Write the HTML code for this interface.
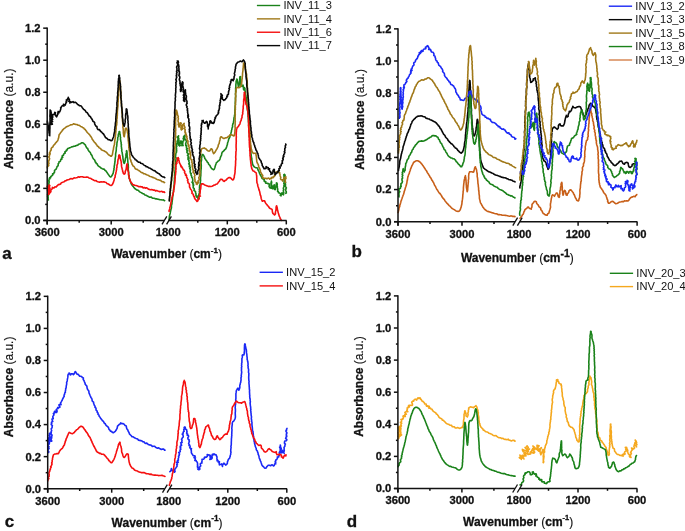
<!DOCTYPE html>
<html><head><meta charset="utf-8"><style>
html,body{margin:0;padding:0;background:#fff;}
body{width:685px;height:531px;overflow:hidden;}
svg{display:block;filter:blur(0.45px);}
text{font-family:"Liberation Sans", sans-serif;fill:#111;stroke:#111;stroke-width:0.3px;}
.tl{font-size:11.2px;font-weight:bold;}
.al{font-size:12px;font-weight:bold;}
.rg{font-weight:normal;stroke-width:0.12px;}
.pl{font-size:17px;font-weight:bold;}
.lg{font-size:11.1px;stroke:none;}
</style></head><body>
<svg width="685" height="531" viewBox="0 0 685 531">
<rect width="685" height="531" fill="#fff"/>
<line x1="256.90" y1="5.50" x2="280.20" y2="5.50" stroke="#1a821a" stroke-width="1.4"/>
<text x="283.40" y="9.30" class="lg">INV_11_3</text>
<line x1="256.90" y1="18.87" x2="280.20" y2="18.87" stroke="#a07818" stroke-width="1.4"/>
<text x="283.40" y="22.67" class="lg">INV_11_4</text>
<line x1="256.90" y1="32.24" x2="280.20" y2="32.24" stroke="#f50f0f" stroke-width="1.4"/>
<text x="283.40" y="36.04" class="lg">INV_11_6</text>
<line x1="256.90" y1="45.61" x2="280.20" y2="45.61" stroke="#080808" stroke-width="1.4"/>
<text x="283.40" y="49.41" class="lg">INV_11_7</text>
<polyline points="48.4,200.0 48.2,199.3 48.2,198.6 48.0,197.9 48.3,197.2 47.6,196.4 48.4,195.7 47.6,195.0 48.5,194.3 48.6,193.6 48.7,192.9 48.2,192.1 48.5,191.4 48.7,190.8 48.5,190.0 48.6,189.4 48.3,188.7 48.7,188.0 48.9,187.3 48.5,186.5 48.5,185.7 48.8,184.9 48.9,184.2 48.8,183.4 49.2,182.7 48.7,181.9 49.2,181.2 48.5,180.4 49.3,179.9 49.1,179.1 49.9,178.8 49.5,177.8 50.7,177.7 50.6,176.7 51.1,176.2 51.8,175.9 52.2,175.3 52.8,174.8 52.6,173.8 53.7,173.8 53.7,172.9 54.4,172.6 54.6,171.8 54.4,170.9 54.8,170.2 55.5,169.7 56.2,169.2 56.3,168.5 56.7,167.8 56.9,167.1 57.2,166.4 57.8,166.0 58.2,165.3 58.2,164.5 58.2,163.7 58.9,163.2 59.0,162.5 59.0,161.7 60.2,161.5 60.5,160.9 60.5,160.1 60.9,159.5 61.8,159.2 61.4,158.2 62.1,157.7 62.8,157.3 62.0,156.0 62.6,155.5 63.5,155.2 63.6,154.4 63.9,153.8 64.5,153.3 65.3,153.0 64.8,151.8 65.5,151.3 66.4,151.0 66.4,150.1 67.3,150.0 67.4,149.2 67.6,148.5 68.7,148.2 69.6,147.7 70.7,147.4 71.6,146.9 72.7,146.8 73.7,146.3 74.8,146.3 75.7,145.8 76.7,145.4 77.8,145.2 78.5,144.3 79.6,144.0 80.7,143.6 81.5,142.8 82.5,142.8 83.6,143.3 84.4,144.2 85.3,144.9 85.7,145.9 86.2,146.8 86.7,147.8 87.7,148.5 88.0,149.7 88.5,150.5 89.2,151.4 90.0,152.2 90.6,153.1 90.9,154.2 91.7,155.1 92.2,156.1 92.5,157.1 93.0,158.1 93.6,159.0 94.4,159.8 95.0,160.7 95.1,161.8 96.0,162.5 96.2,163.6 97.3,164.1 97.7,165.3 98.5,166.1 99.5,166.7 100.3,167.3 100.9,168.1 102.0,168.6 103.0,169.1 104.2,169.1 104.8,170.2 105.8,170.7 106.3,171.6 107.0,172.5 107.6,173.4 108.2,174.3 109.0,175.4 109.8,176.5 110.4,177.0 110.9,176.9 111.5,176.3 112.2,175.3 112.7,174.1 113.3,173.0 113.4,172.2 113.5,171.4 113.7,170.5 114.0,169.5 113.9,168.5 114.3,167.4 114.2,166.3 114.5,165.2 114.6,164.0 114.8,162.9 115.0,161.7 115.1,160.6 115.1,159.4 115.2,158.3 115.4,157.2 115.6,156.2 115.6,155.1 115.6,154.0 115.8,152.9 116.0,151.8 116.2,150.6 116.3,149.5 116.3,148.4 116.4,147.3 116.7,146.2 116.8,145.1 116.9,144.0 116.9,143.0 117.2,142.0 117.3,141.1 117.6,140.2 117.7,139.2 117.7,137.8 118.2,136.4 118.3,135.0 118.5,133.8 119.1,132.8 119.0,132.0 119.3,131.5 119.6,131.6 119.8,132.1 119.8,132.8 119.9,133.8 120.3,134.9 120.2,136.2 120.6,137.5 120.4,139.0 120.7,140.3 120.9,141.6 121.2,142.8 121.1,143.9 121.5,144.9 121.2,146.0 121.5,147.1 121.5,148.2 121.8,149.3 121.7,150.5 121.9,151.5 122.2,152.6 122.3,153.6 122.5,154.6 122.6,155.6 122.9,156.8 122.9,158.2 123.2,159.6 123.4,160.9 123.5,162.1 124.0,162.9 124.2,163.4 124.1,163.4 124.5,162.9 124.8,161.9 125.2,160.5 125.3,159.2 125.5,158.1 126.0,156.9 125.9,155.5 126.0,154.1 126.4,152.9 126.5,151.8 126.4,151.1 126.6,150.7 126.8,151.0 126.9,151.5 127.0,152.3 127.1,153.3 127.1,154.5 127.2,155.8 127.4,157.1 127.6,158.5 127.7,159.9 127.8,161.2 127.9,162.3 127.9,163.3 128.2,164.4 128.3,165.5 128.3,166.6 128.4,167.7 128.2,168.9 128.3,170.1 128.5,171.2 128.7,172.3 128.7,173.4 128.7,174.5 129.1,175.5 128.9,176.5 129.2,177.4 129.2,178.4 129.8,179.5 130.0,180.6 130.5,181.6 130.9,182.5 131.1,183.5 131.6,184.4 132.2,185.2 132.8,186.1 133.5,186.8 134.1,187.8 134.8,188.5 135.7,189.2 136.6,189.9 137.8,190.1 138.6,190.7 139.3,191.5 140.2,192.1 141.2,192.6 142.2,193.2 143.1,193.8 144.1,194.1 144.9,195.0 146.0,195.2 146.9,195.7 147.8,196.3 148.8,196.8 149.7,197.2 151.0,197.0 151.9,197.7 152.9,198.3 154.0,198.2 154.9,198.5 155.9,198.9 157.0,198.9 158.0,199.3 159.0,199.4 160.1,199.7 161.2,199.7 162.2,200.0 163.4,199.9 164.3,200.6 164.7,200.6" fill="none" stroke="#1a821a" stroke-width="1.6" stroke-linejoin="round" stroke-linecap="round"/>
<polyline points="47.5,168.0 47.3,167.2 47.4,166.6 48.2,166.1 48.8,165.5 48.0,164.8 48.0,164.3 49.0,163.7 48.9,163.0 48.4,162.3 48.7,161.5 48.7,160.7 49.2,160.0 49.4,159.2 49.6,158.4 49.0,157.5 48.8,156.7 49.5,155.9 49.5,155.2 49.1,154.3 50.3,153.9 49.3,153.0 49.8,152.4 50.4,151.8 50.3,151.0 50.9,150.4 51.3,149.8 51.1,149.0 51.3,148.3 52.0,147.5 53.0,146.8 53.3,145.8 54.0,144.9 54.9,144.2 55.4,143.2 56.2,142.4 56.9,141.5 57.7,140.7 58.0,139.7 58.3,138.6 58.7,137.6 58.8,136.6 59.0,135.5 59.2,134.5 60.1,133.7 60.5,132.8 61.2,132.0 61.9,131.2 62.4,130.2 63.3,129.5 63.9,128.6 64.8,128.1 65.7,127.4 66.6,126.7 67.6,126.2 68.6,125.9 69.6,125.4 70.5,124.9 71.7,124.7 72.7,124.4 73.7,123.8 74.8,124.2 75.8,124.4 76.9,124.5 77.9,125.2 78.9,125.3 79.9,125.7 80.7,126.5 81.8,126.8 82.6,127.6 83.7,127.9 84.2,128.9 85.2,129.5 85.7,130.4 86.5,131.2 87.0,132.2 87.8,133.0 88.6,133.7 89.3,134.5 90.0,135.3 90.6,136.3 91.2,137.1 91.9,138.1 92.2,139.2 92.9,140.1 93.5,140.9 94.1,141.8 94.8,142.7 95.7,143.4 96.2,144.4 97.0,145.2 97.4,146.2 98.5,146.6 98.9,147.6 99.8,148.1 100.7,148.7 101.4,149.7 102.4,150.2 103.3,150.6 104.3,151.0 105.1,151.5 106.2,152.1 107.0,152.9 107.7,153.8 108.5,154.7 109.7,155.4 110.6,156.1 111.4,156.3 111.6,155.9 112.0,155.3 112.4,154.5 112.6,153.3 112.8,152.1 113.0,150.8 113.4,149.6 113.5,148.3 113.7,147.2 113.9,146.3 114.2,145.3 114.5,144.4 114.5,143.4 114.7,142.4 114.7,141.3 114.9,140.3 115.0,139.2 115.3,138.0 115.3,136.8 115.5,135.8 115.4,134.9 115.7,134.0 115.6,133.1 115.9,132.1 115.9,131.1 115.9,130.1 116.2,129.1 116.2,128.0 116.2,127.0 116.3,125.9 116.7,124.8 116.7,123.7 116.9,122.6 116.8,121.5 116.9,120.3 116.8,119.2 117.2,118.1 117.1,116.9 117.3,115.8 117.3,114.6 117.4,113.5 117.3,112.4 117.4,111.3 117.5,110.2 117.6,109.1 117.7,107.9 117.9,106.7 118.0,105.4 118.0,104.0 118.0,102.7 118.3,101.3 118.2,99.9 118.3,98.5 118.4,97.1 118.6,95.7 118.6,94.3 118.6,93.0 118.8,91.7 118.6,90.4 118.9,89.1 118.8,87.9 119.0,86.8 118.9,85.8 118.9,84.8 119.3,84.0 119.3,83.2 119.3,82.5 119.4,81.9 119.3,81.4 119.7,81.1 119.5,80.8 119.7,80.7 119.6,81.0 120.0,81.1 119.8,81.5 120.0,82.0 120.0,82.6 120.3,83.3 120.3,84.1 120.2,85.0 120.5,86.0 120.4,87.1 120.5,88.3 120.4,89.5 120.8,90.8 120.8,92.1 121.0,93.4 120.7,94.8 120.9,96.2 121.1,97.6 121.2,99.0 121.3,100.4 121.2,101.8 121.2,103.2 121.5,104.5 121.6,105.7 121.7,107.0 121.7,108.1 122.0,109.2 122.0,110.3 122.0,111.5 121.9,112.7 122.2,113.9 122.3,115.2 122.3,116.6 122.4,118.0 122.4,119.3 122.4,120.7 122.7,122.1 122.8,123.5 122.9,124.9 123.0,126.2 122.9,127.5 123.2,128.7 123.2,129.9 123.4,131.1 123.3,132.1 123.4,133.1 123.5,134.0 123.7,134.7 123.7,135.4 123.8,136.0 124.0,136.4 124.2,136.6 124.2,136.8 124.3,136.6 124.4,135.9 124.6,134.7 124.9,133.2 125.0,131.7 125.2,130.2 125.2,128.9 125.8,128.2 126.0,128.1 126.8,129.0 127.1,130.2 127.3,131.0 127.4,131.9 127.6,133.0 128.0,134.1 127.9,135.3 127.9,136.5 128.0,137.7 128.2,138.8 128.2,139.9 128.3,141.0 128.6,142.0 128.5,143.1 128.8,144.1 128.7,145.2 128.9,146.3 128.8,147.4 129.1,148.4 129.1,149.4 129.3,150.5 129.5,151.5 129.6,152.6 129.7,153.8 129.6,154.9 129.9,156.0 130.0,157.0 129.9,158.1 130.2,159.1 130.7,160.0 130.9,161.1 131.3,162.1 131.8,163.1 132.0,164.2 132.6,165.0 133.0,166.1 134.1,166.5 134.6,167.5 135.1,168.5 136.0,169.2 137.2,169.4 138.1,170.1 139.1,170.7 140.0,171.3 140.8,172.1 141.7,172.6 142.7,172.8 143.5,173.6 144.7,173.7 145.6,174.3 146.6,174.8 147.5,175.1 148.5,175.4 149.4,176.2 150.4,176.5 151.5,176.8 152.5,177.4 153.6,177.6 154.5,178.1 155.6,178.4 156.4,179.3 157.5,179.6 158.5,179.8 159.5,180.2 160.6,180.4 161.4,181.2 162.3,181.7 163.5,181.7 164.3,182.6 164.6,182.5" fill="none" stroke="#a07818" stroke-width="1.6" stroke-linejoin="round" stroke-linecap="round"/>
<polyline points="47.1,186.4 47.6,187.2 48.3,188.0 48.2,189.0 47.4,190.0 48.0,190.9 48.2,191.8 48.4,192.6 48.6,193.2 48.4,193.7 47.6,194.6 49.0,194.2 49.2,193.7 49.4,193.1 48.4,192.2 48.8,191.3 48.8,190.3 48.8,189.2 49.0,188.2 48.7,187.1 49.3,186.3 49.9,185.7 49.3,185.2 49.1,186.4 48.9,185.3 49.0,185.7 49.4,186.4 49.4,187.4 50.0,188.4 49.3,189.5 49.3,190.6 50.4,191.4 49.8,192.3 50.2,192.7 50.0,192.6 49.6,192.5 50.6,192.2 51.0,191.3 50.8,190.3 51.2,189.5 51.8,189.1 52.3,188.6 52.4,187.4 54.0,187.9 54.8,186.9 56.2,187.0 56.9,186.1 57.6,185.3 58.4,184.6 59.6,184.4 60.6,184.0 61.2,182.9 62.2,182.4 63.2,182.1 64.2,181.7 65.0,180.9 66.1,180.7 67.0,180.0 68.1,179.7 69.1,179.5 70.0,179.0 71.0,178.6 72.2,179.0 73.1,178.5 74.1,177.8 75.2,178.0 76.2,177.8 77.3,177.5 78.3,176.8 79.4,177.2 80.4,176.7 81.5,176.8 82.5,176.7 83.6,177.3 84.7,177.2 85.8,177.2 86.9,176.9 87.9,177.2 88.9,177.9 90.0,178.2 91.0,178.5 91.9,179.3 93.0,179.7 93.9,180.2 94.9,180.7 96.1,180.6 97.0,181.4 98.0,181.8 99.0,182.1 100.1,182.1 101.2,181.8 102.3,182.0 103.4,181.8 104.4,181.9 105.3,182.3 106.3,182.6 107.0,183.6 108.1,183.8 109.1,184.5 110.0,185.2 111.1,185.5 111.9,185.0 112.4,184.4 112.9,183.5 113.4,182.4 113.7,181.2 114.2,180.0 114.3,178.7 114.9,177.7 115.2,176.8 115.1,175.7 115.4,174.7 115.8,173.7 115.9,172.6 116.2,171.5 116.4,170.4 116.6,169.3 116.6,168.2 117.0,167.2 116.9,166.0 117.1,164.8 117.7,163.5 117.7,162.1 117.9,160.7 118.1,159.3 118.7,158.1 118.6,156.9 118.8,156.0 118.9,155.2 119.3,154.9 119.2,155.1 119.8,155.2 120.0,156.1 120.1,157.2 120.3,158.5 120.6,159.9 121.1,161.2 121.2,162.3 121.3,163.4 121.5,164.5 121.5,165.8 121.7,167.0 122.0,168.1 122.2,169.2 122.6,170.2 122.6,171.1 123.0,172.1 123.4,173.4 124.2,174.2 124.8,173.8 125.2,172.9 125.2,171.6 125.7,170.4 126.1,169.3 126.3,168.0 126.5,166.6 126.7,165.2 126.9,164.2 127.1,163.7 127.3,163.7 127.3,164.3 127.4,165.2 127.4,166.4 127.8,167.7 127.6,169.1 127.9,170.5 128.2,171.6 128.5,172.6 128.5,173.8 128.5,174.9 129.0,175.9 129.2,177.0 129.1,178.1 129.7,179.0 129.8,180.0 130.4,181.0 130.7,182.1 131.5,182.8 132.2,183.7 132.7,184.8 133.9,184.9 134.8,185.3 135.8,185.5 136.9,185.8 138.0,186.2 139.0,186.8 140.3,186.5 141.2,186.9 142.3,186.9 143.2,187.9 144.4,187.5 145.3,188.2 146.5,187.8 147.5,188.4 148.4,189.2 149.4,189.4 150.5,189.7 151.6,189.6 152.6,189.7 153.6,190.3 154.7,190.0 155.5,191.0 156.7,190.6 157.7,191.0 158.7,191.2 159.7,191.7 160.8,191.5 161.9,191.4 162.9,192.2 164.1,191.7 164.7,192.4" fill="none" stroke="#f50f0f" stroke-width="1.6" stroke-linejoin="round" stroke-linecap="round"/>
<polyline points="47.4,121.0 47.4,122.1 47.8,123.1 47.9,124.1 48.1,125.2 48.3,126.2 48.3,127.3 48.5,128.4 48.7,129.6 49.0,131.0 49.0,132.5 49.3,133.7 49.4,134.7 49.3,135.4 49.8,135.6 49.6,135.3 49.6,134.8 49.8,134.2 49.7,133.3 49.8,132.3 49.8,131.1 49.8,129.8 49.9,128.4 49.9,126.9 49.8,125.4 49.9,123.8 50.0,122.2 50.1,120.7 50.0,119.1 50.1,117.6 49.9,116.2 50.0,114.9 50.1,113.6 50.1,112.6 50.1,111.6 50.1,110.9 50.2,110.4 50.1,110.0 50.3,110.1 50.9,111.0 51.0,112.2 51.1,113.1 51.2,114.2 51.2,115.5 51.4,116.9 51.5,118.4 51.8,119.8 51.4,120.7 52.6,121.5 51.1,122.3 51.4,122.9 50.7,123.5 51.2,123.9 51.0,124.4 52.4,124.1 52.0,123.7 51.9,123.1 51.4,122.3 52.2,121.4 51.6,120.4 52.7,119.5 51.7,118.4 52.6,117.6 52.8,116.8 52.3,116.2 52.3,115.2 52.3,114.6 53.8,114.6 54.5,113.8 54.6,113.3 54.8,112.2 55.5,112.9 54.8,114.5 55.7,115.0 55.8,116.0 56.7,116.8 57.1,115.7 57.5,114.9 58.0,114.1 57.7,113.1 58.9,112.9 58.1,111.5 59.7,111.8 60.0,111.2 60.3,110.5 60.5,109.6 60.9,108.9 60.6,107.8 61.2,107.3 61.5,106.6 62.0,106.0 62.6,105.5 63.9,106.1 63.5,104.3 65.2,105.1 65.4,104.4 65.8,103.7 65.9,102.9 66.5,102.4 66.1,101.3 67.0,101.0 66.3,99.9 67.8,99.4 67.6,98.5 68.5,98.2 68.3,97.4 68.3,98.0 68.7,98.6 69.4,99.3 69.4,100.2 68.8,101.4 70.0,101.3 69.9,103.1 71.0,101.8 71.7,102.4 73.0,101.6 74.0,102.6 75.3,102.2 76.2,102.8 77.0,103.7 77.7,104.6 78.8,105.1 79.6,105.8 80.9,105.8 81.7,106.7 82.3,107.7 83.0,108.5 83.7,109.4 84.6,110.0 85.4,110.7 85.8,111.8 86.7,112.4 87.5,113.0 88.0,114.0 88.7,114.9 89.2,115.9 90.3,116.4 90.7,117.4 91.4,118.3 92.0,119.2 92.5,120.2 92.9,121.2 93.9,121.8 94.7,122.7 94.6,123.9 95.2,124.9 95.7,125.9 96.9,126.4 97.0,127.6 97.3,128.6 98.0,129.6 99.5,129.6 100.0,130.6 100.8,131.5 101.6,132.1 102.2,132.8 103.1,133.6 103.8,134.4 104.3,135.4 104.9,136.2 105.4,137.3 106.3,138.0 107.3,138.7 108.0,139.6 109.3,139.8 110.4,140.3 111.1,140.7 111.8,140.5 112.5,139.7 112.8,138.3 113.2,137.6 113.6,136.7 113.8,135.8 113.9,134.7 114.1,133.6 114.4,132.4 114.7,131.2 114.7,130.1 114.6,129.2 115.0,128.3 114.9,127.3 115.1,126.3 115.4,125.2 115.3,124.2 115.4,123.1 115.6,122.0 115.9,120.9 115.8,119.8 115.8,118.6 115.9,117.5 115.9,116.3 116.1,115.2 116.1,114.1 116.3,113.1 116.5,112.1 116.5,111.1 116.5,110.0 116.8,109.0 116.6,107.9 116.9,106.9 117.0,105.8 116.9,104.7 116.9,103.6 116.9,102.5 117.2,101.4 117.2,100.3 117.4,99.3 117.3,98.2 117.3,97.1 117.5,96.1 117.8,95.0 117.7,94.0 117.6,93.0 117.8,92.0 117.9,90.8 118.0,89.6 118.0,88.2 118.3,86.9 118.1,85.4 118.3,84.1 118.3,82.7 118.3,81.3 118.6,80.1 118.5,78.9 118.8,77.9 118.9,77.0 119.0,76.3 118.8,75.7 119.1,75.3 119.0,75.5 119.3,75.4 119.3,76.0 119.4,76.9 119.8,78.0 119.7,79.3 119.7,80.7 119.9,82.2 120.1,83.6 120.4,84.5 120.2,85.4 120.6,86.3 120.5,87.3 120.4,88.3 120.6,89.3 120.5,90.4 120.7,91.4 120.9,92.5 120.8,93.7 120.9,94.8 121.1,95.9 120.8,97.1 121.0,98.3 121.1,99.4 121.3,100.6 121.5,101.7 121.4,102.8 121.6,103.9 121.5,105.0 121.5,106.0 121.7,107.0 121.8,108.0 122.0,109.2 122.0,110.4 122.2,111.6 122.3,112.9 122.4,114.1 122.4,115.3 122.3,116.5 122.5,117.7 122.7,118.8 122.9,119.8 122.9,120.8 122.9,121.8 123.1,122.6 123.1,123.4 123.4,124.0 123.8,125.4 124.2,126.3 124.3,126.2 124.5,125.2 124.8,123.9 125.1,122.4 125.2,121.6 125.1,120.5 125.3,119.2 125.7,117.9 125.6,116.5 125.6,115.1 125.8,113.7 126.1,112.4 126.2,111.3 126.2,110.2 126.2,109.5 126.3,108.9 126.6,109.1 126.7,109.0 126.8,109.4 127.1,110.0 126.8,110.9 127.2,111.9 127.3,113.1 127.4,114.4 127.7,115.7 127.9,117.1 127.9,118.5 127.8,119.9 128.1,121.3 128.0,122.5 128.2,123.7 128.3,124.7 128.2,125.9 128.3,127.0 128.5,128.1 128.6,129.2 128.7,130.3 128.8,131.4 128.7,132.4 128.9,133.5 128.8,134.5 128.9,135.5 128.9,136.5 129.1,137.6 129.3,138.7 129.4,139.8 129.3,140.8 129.6,141.8 129.6,142.9 129.8,143.9 129.8,145.0 129.9,146.0 130.0,147.1 130.3,148.2 130.4,149.3 130.4,150.4 130.6,151.4 131.1,152.4 131.4,153.3 131.3,154.4 132.0,155.4 132.7,156.2 133.2,157.2 134.0,158.0 134.8,158.7 135.2,159.8 136.3,160.1 137.0,161.0 137.9,161.7 138.8,162.2 140.1,162.2 140.7,163.3 141.8,163.6 142.9,163.9 143.6,164.9 144.5,165.4 145.6,165.7 146.2,166.8 147.4,166.8 148.2,167.5 149.2,168.0 150.3,168.3 151.1,169.0 152.1,169.5 153.0,170.1 153.9,170.6 155.0,170.8 155.7,171.8 156.7,172.2 157.5,173.1 158.5,173.5 159.5,174.0 160.1,174.9 161.0,175.6 161.8,176.4 162.8,176.9 163.9,177.0 164.8,177.6" fill="none" stroke="#080808" stroke-width="1.6" stroke-linejoin="round" stroke-linecap="round"/>
<polyline points="169.0,219.8 169.2,218.8 169.3,217.7 169.4,216.5 169.5,215.7 169.8,214.8 170.0,213.9 170.3,212.9 170.4,211.8 170.7,210.7 170.9,209.5 171.3,208.4 171.5,207.2 171.4,206.2 171.5,205.2 171.8,204.3 172.0,203.3 172.0,202.3 172.2,201.3 172.3,200.2 172.5,199.1 172.5,198.0 172.7,196.9 172.8,195.8 173.1,194.8 173.1,193.6 173.2,192.5 173.4,191.5 173.4,190.4 173.8,189.4 173.7,188.3 174.0,187.2 173.9,186.1 174.2,185.1 174.2,184.0 174.2,182.9 174.2,181.8 174.4,180.8 174.5,179.7 174.4,178.6 174.5,177.5 174.7,176.5 174.5,175.4 174.6,174.4 174.8,173.4 174.8,172.4 175.0,171.3 175.1,170.2 175.3,169.2 175.1,168.1 175.3,167.0 175.5,166.0 175.4,164.9 175.4,163.9 175.6,162.9 175.6,161.8 175.8,160.8 175.9,159.8 176.0,158.7 176.1,158.0 175.6,157.3 175.5,156.5 175.6,155.8 175.7,155.1 175.8,154.4 175.6,153.6 176.2,152.9 176.5,152.2 176.5,151.5 176.8,150.8 176.4,150.0 176.6,149.3 176.6,148.6 176.2,147.9 176.4,147.2 176.8,146.6 176.5,145.9 176.7,145.2 176.3,144.5 176.0,143.9 176.9,143.1 177.6,142.3 177.1,141.3 177.7,140.5 178.0,139.6 177.9,138.7 178.2,137.9 177.2,137.1 178.0,136.7 178.1,136.3 178.5,136.5 178.6,135.7 178.6,136.3 177.6,137.0 178.1,137.6 178.8,138.4 178.7,139.5 179.0,140.5 178.9,141.6 179.2,142.6 178.1,143.6 178.3,144.5 178.7,145.1 179.6,145.3 179.5,145.9 180.2,145.6 179.6,144.6 179.6,143.6 180.2,142.7 180.9,141.9 180.7,141.1 181.0,140.9 181.0,141.2 182.1,141.6 181.3,142.8 181.3,143.9 182.5,144.6 181.8,145.6 182.7,145.3 183.1,145.6 182.9,145.0 182.6,144.3 182.7,143.5 182.9,142.6 182.8,141.5 183.8,140.6 183.6,139.5 183.2,138.4 184.0,137.6 183.6,136.8 184.7,136.5 184.4,136.3 184.8,135.4 183.7,136.6 185.0,136.6 184.3,137.6 184.8,138.3 184.8,139.2 185.9,140.0 186.3,140.9 186.2,141.9 186.0,142.6 185.8,143.3 185.6,144.0 185.9,144.6 185.7,145.3 186.7,145.8 186.2,146.6 186.6,147.2 186.4,148.0 187.3,148.6 186.5,149.5 186.8,150.2 187.8,150.8 186.8,151.8 187.0,152.5 187.6,153.2 188.4,153.8 188.2,154.6 187.5,155.4 188.2,156.1 188.5,156.7 188.0,157.6 189.1,158.1 187.9,159.0 188.3,159.7 189.1,160.2 188.7,161.0 189.0,161.7 189.3,162.4 189.4,163.1 188.7,163.9 189.5,164.5 189.3,165.2 189.9,165.8 189.2,166.7 190.2,167.2 190.3,167.9 189.7,168.8 190.3,169.4 190.5,170.1 190.2,170.9 190.1,171.6 190.5,172.3 190.3,173.0 191.3,173.6 191.0,174.4 191.0,175.1 191.6,175.7 191.6,176.4 191.7,177.2 192.3,177.8 192.4,178.5 192.7,179.2 192.7,180.0 192.8,180.7 192.6,181.5 192.0,182.3 193.1,182.8 192.7,183.6 193.6,184.1 192.9,185.0 193.6,185.5 193.2,186.3 193.2,187.0 193.2,187.8 194.1,188.4 194.4,189.2 193.9,190.3 194.9,191.0 195.6,191.8 195.5,192.8 196.0,193.6 196.0,194.6 195.9,195.5 196.5,196.1 196.3,196.9 197.5,197.1 197.6,197.5 198.1,197.6 198.1,197.6 197.8,198.0 198.7,199.2 198.9,198.6 199.2,198.2 198.1,197.3 198.4,196.9 198.4,196.4 198.2,195.7 199.3,195.1 198.8,194.3 199.2,193.5 199.7,192.7 199.2,191.7 199.9,190.9 199.2,189.9 200.4,189.1 199.3,188.0 199.7,187.1 199.5,186.1 200.0,184.8 200.2,183.7 200.3,182.8 200.4,181.7 200.6,180.6 200.5,179.4 200.5,178.2 200.6,176.9 200.8,175.6 200.8,174.2 200.9,172.8 200.9,171.4 201.0,170.0 201.2,168.6 201.2,167.2 201.3,165.9 201.2,164.5 201.1,163.2 201.1,162.0 201.4,160.8 201.6,159.7 201.4,158.7 201.7,157.7 201.8,156.9 201.8,156.1 202.0,155.5 202.1,155.0 202.2,154.6 202.5,154.5 202.7,154.5 203.3,154.9 203.9,156.0 204.5,157.2 204.8,158.5 205.5,159.3 206.1,160.2 206.8,161.0 207.3,162.1 208.2,162.8 208.5,163.9 209.2,164.8 210.0,165.6 210.4,166.7 211.0,167.5 211.5,168.5 212.6,169.2 213.5,169.8 214.1,169.4 214.5,168.6 214.9,167.5 215.2,166.3 215.6,165.0 216.0,163.9 216.3,162.8 217.2,162.1 217.9,161.2 218.9,160.6 219.7,159.8 220.0,158.9 220.3,157.8 220.7,156.7 221.3,155.7 221.6,154.5 221.8,153.4 222.1,152.4 222.9,151.7 223.7,150.9 224.4,150.1 225.2,149.3 226.0,148.6 226.3,147.6 226.7,146.6 227.0,145.6 227.4,144.5 227.5,143.3 227.8,142.2 228.2,141.2 228.5,140.1 228.7,139.1 229.3,138.3 229.7,137.4 229.9,136.3 230.4,135.2 230.7,134.1 230.9,133.4 231.1,132.6 231.4,131.7 231.4,130.7 231.8,129.8 231.9,128.8 232.1,127.8 232.6,126.9 232.5,125.7 232.7,124.7 233.1,123.6 233.4,122.5 233.6,121.4 233.8,120.2 233.9,119.0 234.0,117.9 234.3,116.7 234.5,115.6 234.7,114.4 234.8,113.4 234.8,112.4 235.0,111.3 234.9,110.3 235.0,109.1 235.1,108.0 235.1,106.8 235.2,105.6 235.5,104.4 235.2,103.2 235.3,102.0 235.4,100.7 235.4,99.5 235.4,98.2 235.6,97.0 235.7,95.8 235.5,94.6 235.5,93.4 235.7,92.2 235.6,91.1 235.7,90.0 235.6,88.9 235.7,87.9 235.8,86.9 235.9,86.0 235.8,85.2 235.9,84.4 236.0,83.6 236.1,83.0 236.1,82.3 236.1,81.4 236.6,80.0 236.8,79.0 236.8,79.0 237.2,79.5 237.4,80.6 237.7,82.0 237.9,83.6 238.1,85.0 238.4,86.1 238.7,86.6 238.6,86.6 238.9,86.0 239.1,85.0 239.4,83.6 239.5,82.1 239.7,80.6 239.7,79.1 239.8,77.8 239.8,76.9 240.4,76.6 240.3,76.5 240.4,77.2 240.5,78.3 240.7,79.7 240.8,81.2 240.8,82.8 240.9,84.3 241.1,85.5 241.3,86.4 241.4,86.4 242.2,86.0 242.9,85.0 243.2,85.8 243.3,87.2 243.5,88.6 243.6,89.8 244.0,89.9 244.4,88.6 244.5,87.6 244.5,88.0 245.0,88.7 244.9,90.0 245.2,91.3 245.5,92.7 245.5,93.7 245.6,94.6 245.9,95.4 245.9,96.3 246.2,97.3 246.3,98.3 246.4,99.3 246.4,100.4 246.6,101.5 246.8,102.6 247.0,103.7 247.1,104.9 247.1,106.0 247.2,107.2 247.2,108.4 247.3,109.6 247.5,110.6 247.8,111.5 247.8,112.5 247.9,113.5 248.0,114.5 248.1,115.6 248.0,116.6 248.3,117.7 248.2,118.8 248.4,119.9 248.4,121.0 248.5,122.1 248.7,123.2 248.7,124.4 248.6,125.5 248.9,126.6 248.9,127.7 248.9,128.9 249.2,130.0 249.1,131.1 249.4,132.1 249.3,133.2 249.4,134.3 249.4,135.3 249.4,136.3 249.6,137.3 249.8,138.3 249.7,139.2 250.0,140.4 250.1,141.6 250.0,142.7 250.1,143.9 250.2,145.0 250.5,146.1 250.5,147.3 250.5,148.4 250.6,149.4 250.6,150.5 250.9,151.5 250.9,152.5 250.9,153.5 251.1,154.4 251.2,155.3 251.3,156.2 251.5,157.2 251.8,158.4 251.8,159.6 252.0,160.8 252.2,161.8 252.4,162.8 252.5,163.8 252.8,164.6 253.2,165.6 253.9,166.5 254.7,167.1 255.6,167.7 256.7,167.8 257.6,168.3 257.8,169.3 258.2,170.4 258.9,171.4 259.3,172.5 259.6,173.5 260.1,174.5 260.7,175.5 261.2,176.4 261.7,177.3 261.9,178.1 262.4,178.6 263.1,178.9 263.5,179.5 264.4,179.8 264.0,181.0 264.6,181.5 265.8,181.5 265.5,182.8 266.1,183.3 267.2,183.2 267.8,183.7 268.8,183.6 269.3,184.2 269.2,185.3 269.1,186.5 269.6,187.3 270.1,188.0 271.3,188.1 271.3,187.1 271.1,186.2 271.0,185.2 271.1,184.2 270.9,183.2 271.2,182.6 271.4,181.1 271.7,182.6 271.5,183.2 271.4,184.0 271.7,185.0 272.2,186.0 272.5,187.0 272.6,188.0 272.6,188.7 272.9,188.8 272.4,188.8 273.3,188.6 273.7,187.7 273.6,186.6 273.8,185.8 274.2,184.8 274.2,185.9 274.1,186.7 275.1,187.6 274.8,188.6 274.7,189.5 275.2,189.6 275.4,189.5 275.5,188.9 275.2,188.0 275.8,187.1 275.9,186.0 276.1,185.0 276.4,184.0 277.1,183.5 276.5,182.8 276.8,183.0 276.4,183.3 277.1,183.7 277.3,184.4 277.0,185.3 277.4,186.2 277.2,187.2 277.4,188.1 277.7,189.0 277.7,189.8 277.7,190.5 277.6,191.4 278.4,191.8 278.4,192.7 279.2,192.9 280.0,193.4 281.0,194.1 280.2,195.3 281.1,195.9 281.0,194.8 281.9,194.0 281.9,192.7 282.5,193.8 283.6,194.2 283.0,194.6 283.5,194.8 282.7,194.3 283.2,194.0 283.5,193.5 283.9,192.9 283.4,192.1 283.5,191.3 283.3,190.4 283.8,189.5 283.3,188.6 283.5,187.6 284.0,186.5 283.9,185.5 284.3,184.5 283.8,183.4 284.1,182.4 284.1,181.3 284.2,180.4 283.9,179.4 284.1,178.5 283.9,177.7 284.2,177.0 283.9,176.3 284.0,175.8 283.9,175.3 283.8,174.9 284.2,174.8 284.4,174.2 284.6,174.7 285.0,175.0 285.1,175.5 285.0,176.1 284.3,177.0 284.7,177.8 285.1,178.6 284.9,179.6 285.0,180.5 284.7,181.5 285.6,182.3 285.3,183.1 285.4,183.8 285.5,184.5 285.5,185.2 285.3,185.9 285.5,186.6 286.0,187.3 286.4,188.0 285.8,188.7 285.9,189.4 285.6,190.2 285.9,190.8 286.3,191.5 286.0,192.3 286.4,192.9 285.8,193.3" fill="none" stroke="#1a821a" stroke-width="1.6" stroke-linejoin="round" stroke-linecap="round"/>
<polyline points="169.5,200.5 169.6,199.4 169.6,198.4 169.7,197.3 169.9,196.2 169.9,195.1 170.2,194.0 170.4,193.0 170.2,191.8 170.3,190.8 170.4,189.7 170.6,188.6 170.7,187.5 171.0,186.5 171.0,185.4 171.1,184.4 171.2,183.3 171.3,182.3 171.3,181.3 171.7,180.3 171.7,179.3 171.7,178.2 172.0,177.1 172.1,176.1 172.2,175.1 172.3,174.1 172.6,173.1 172.8,172.1 173.0,171.1 173.1,170.1 173.1,169.0 173.2,168.0 173.3,166.9 173.6,165.8 173.7,164.7 173.7,163.7 173.7,162.8 173.8,161.8 173.9,160.8 174.1,159.8 174.3,158.8 174.3,157.8 174.2,156.7 174.4,155.7 174.3,154.6 174.7,153.6 174.8,152.5 174.9,151.4 174.8,150.3 174.9,149.2 174.8,148.1 175.0,147.0 175.1,145.9 175.2,144.8 175.3,143.7 175.3,142.6 175.3,141.5 175.3,140.4 175.3,139.3 175.4,138.2 175.6,137.0 175.7,135.8 175.5,134.5 175.7,133.2 175.5,131.8 175.7,130.5 175.7,129.1 175.6,127.7 175.5,126.3 175.7,124.9 175.6,123.5 175.5,122.1 175.6,120.8 175.6,119.6 175.8,118.3 175.6,117.2 175.6,116.1 175.8,115.1 175.9,114.2 175.7,113.3 175.9,112.6 175.9,112.0 176.0,111.5 176.3,111.3 176.4,111.1 175.6,110.6 175.9,110.1 176.7,110.4 176.2,111.2 176.3,111.7 177.3,112.1 176.8,113.1 177.5,113.9 177.5,114.9 178.0,115.8 178.3,116.7 177.9,117.5 178.3,118.2 178.4,119.1 178.1,120.0 178.0,121.0 178.3,121.9 178.5,122.8 178.5,123.7 178.2,124.6 178.7,125.3 179.0,125.9 179.0,126.3 178.7,126.8 179.2,127.0 179.2,126.4 179.0,125.5 179.8,124.6 180.1,123.6 180.6,123.2 180.3,122.8 181.1,123.0 181.2,123.7 180.3,124.7 181.1,125.6 181.0,126.7 180.9,127.7 181.1,128.6 181.1,129.4 181.5,129.9 181.7,129.2 181.6,129.6 182.3,129.2 182.6,128.4 182.6,127.3 182.1,126.2 182.6,125.2 183.0,124.4 183.8,124.1 183.5,124.1 184.2,123.3 183.9,124.0 183.7,124.6 184.3,125.2 184.1,126.0 184.7,126.8 185.0,127.6 184.2,128.7 185.2,129.5 185.0,130.4 185.3,131.1 184.8,131.9 185.3,132.5 185.8,133.1 185.3,133.9 186.2,134.4 185.8,135.2 186.4,135.7 187.0,136.3 186.4,137.2 186.9,137.8 187.2,138.5 187.0,139.3 187.0,140.1 187.7,140.7 188.1,141.3 187.8,142.0 188.0,142.7 187.8,143.4 188.0,144.0 188.4,144.6 189.0,145.2 188.4,146.0 188.7,146.7 189.4,147.3 189.6,148.0 188.9,148.8 189.4,149.5 189.7,150.1 189.8,150.9 189.5,151.7 190.7,152.2 190.7,152.9 189.7,153.9 190.4,154.5 190.9,155.1 190.4,155.9 190.5,156.6 190.4,157.3 190.6,158.0 190.5,158.7 191.2,159.3 192.0,159.9 191.5,160.7 192.0,161.4 191.8,162.2 192.0,162.9 192.6,163.5 192.3,164.3 192.1,165.1 192.7,165.7 192.2,166.5 192.7,167.2 192.5,167.9 192.8,168.6 192.8,169.3 193.0,170.0 193.9,170.5 193.9,171.1 192.9,172.0 193.4,172.6 194.1,173.1 194.4,173.9 194.7,174.8 195.0,175.6 194.3,176.7 194.7,177.6 194.6,178.6 195.0,179.4 195.0,180.3 194.9,181.2 195.2,181.9 195.9,182.4 196.9,182.6 196.6,183.3 196.2,184.0 197.2,183.4 197.0,184.5 197.2,183.9 197.5,183.7 197.7,183.2 198.5,182.8 198.1,181.9 198.0,181.0 198.9,180.3 199.3,179.4 198.9,178.4 198.8,177.3 199.6,176.5 199.9,175.8 199.4,175.2 199.5,174.6 200.0,174.1 199.9,173.4 200.2,172.7 199.5,172.0 199.8,171.2 199.9,170.5 199.8,169.7 200.1,168.4 200.1,167.2 200.1,165.9 200.1,164.6 200.2,163.3 200.2,161.9 200.2,160.6 200.4,159.4 200.3,158.1 200.3,156.9 200.3,155.7 200.5,154.6 200.7,153.5 200.8,152.5 201.0,151.6 201.1,150.8 201.3,150.1 201.3,149.5 201.5,149.0 202.2,148.6 203.2,148.2 204.2,147.9 205.0,148.6 206.1,149.0 206.8,149.9 207.7,150.8 208.7,151.1 209.6,150.9 210.5,149.8 211.1,148.7 211.8,149.0 212.4,150.0 212.6,151.5 213.2,152.7 213.6,153.6 214.1,153.3 214.7,152.6 215.4,151.5 216.0,150.3 216.4,149.5 217.1,148.7 217.5,147.6 218.1,146.6 218.2,145.4 218.6,144.4 219.2,143.4 219.3,142.4 219.6,141.1 220.0,139.9 220.1,138.6 220.4,137.5 220.8,136.9 221.5,136.9 222.3,137.6 223.4,138.4 224.5,138.4 225.4,137.9 226.6,137.8 227.7,137.3 228.4,136.2 229.4,135.9 230.1,134.8 231.2,134.9 231.9,134.8 233.0,135.6 233.8,136.0 234.0,135.8 234.4,135.6 234.2,135.0 234.6,134.5 234.6,133.8 234.9,133.1 234.8,132.2 235.0,131.2 234.9,130.2 235.1,129.1 235.2,127.9 235.0,126.7 235.1,125.4 235.2,124.1 235.1,122.8 235.3,121.4 235.1,120.0 235.2,118.7 235.1,117.3 235.2,115.9 235.3,114.6 235.1,113.3 235.2,112.0 235.1,110.7 235.4,109.5 235.3,108.4 235.4,107.3 235.3,106.3 235.3,105.2 235.4,103.9 235.6,102.7 235.6,101.3 235.7,100.0 235.6,98.7 235.6,97.4 235.8,96.1 235.6,94.8 235.6,93.6 235.8,92.5 236.1,91.5 236.1,90.5 236.0,89.6 236.3,88.9 236.5,88.3 236.7,87.8 237.3,87.2 238.6,87.7 239.7,87.4 240.4,86.6 241.2,85.9 241.3,85.1 241.4,84.2 241.7,83.3 241.7,82.2 241.9,81.1 241.9,79.9 242.2,78.7 242.2,77.4 242.4,76.2 242.5,75.1 242.5,74.0 242.6,72.8 242.8,71.6 243.0,70.2 243.0,68.8 243.3,67.4 243.3,66.1 243.5,65.0 243.5,64.0 243.5,63.3 244.0,63.0 244.1,62.8 244.1,63.5 244.5,64.5 244.5,65.9 244.8,67.2 245.3,68.2 245.4,69.2 245.5,70.2 245.9,71.2 246.0,72.3 246.3,73.3 246.6,74.4 246.6,75.6 246.6,76.6 246.8,77.6 247.0,78.5 247.0,79.6 247.2,80.6 247.2,81.7 247.2,82.7 247.3,83.8 247.3,84.9 247.2,86.0 247.4,87.1 247.4,88.1 247.5,89.1 247.6,90.1 247.6,91.1 247.7,92.2 247.7,93.2 247.7,94.3 247.7,95.4 247.8,96.4 247.8,97.5 248.0,98.6 247.9,99.8 248.0,100.9 248.2,102.0 248.2,103.1 248.2,104.1 248.3,105.1 248.4,106.1 248.5,107.2 248.5,108.2 248.7,109.3 248.7,110.4 248.9,111.4 249.0,112.5 248.9,113.6 249.2,114.7 249.1,115.8 249.1,116.9 249.4,117.9 249.4,119.0 249.5,120.1 249.6,121.2 249.6,122.2 249.8,123.3 249.9,124.3 249.8,125.4 249.9,126.5 249.9,127.6 250.0,128.7 249.9,129.9 249.9,131.0 250.0,132.1 250.1,133.2 250.0,134.4 250.2,135.5 250.1,136.6 250.1,137.6 250.2,138.7 250.3,139.7 250.3,140.7 250.5,141.6 250.4,142.6 250.6,143.4 250.6,144.4 250.9,145.7 250.9,146.9 251.2,148.1 251.3,149.2 251.8,150.1 251.8,151.1 252.2,151.7 252.7,152.7 253.5,153.4 254.5,153.3 255.4,153.2 255.7,153.2 256.0,153.9 256.0,155.0 256.3,156.2 256.4,157.5 256.5,158.8 256.7,160.1 256.7,161.3 257.1,162.4 257.5,163.4 258.2,164.3 258.4,165.3 258.7,166.4 259.0,167.4 259.6,168.3 259.9,169.4 260.3,170.4 260.4,171.5 260.8,172.6 261.5,173.5 261.8,174.4 262.4,175.0 262.8,175.7 262.4,176.8 262.6,177.5 263.3,178.0 263.7,178.5 264.6,178.3 265.2,178.2 265.9,178.3 266.7,178.7 267.4,178.6 268.2,178.1 268.9,178.3 269.7,179.1 270.5,178.3 271.3,178.6 271.8,177.4 272.7,177.8 273.4,177.5 273.3,176.5 274.5,176.5 274.6,175.6 275.2,174.9 274.9,173.8 275.7,173.5 276.1,173.0 276.2,172.0 277.2,171.7 278.2,171.4 278.9,172.3 279.7,172.8 279.4,173.7 280.0,174.2 280.0,175.0 280.2,175.9 280.4,176.7 280.8,177.5 280.6,178.3 280.5,179.0 281.2,179.7 282.2,179.8 282.6,181.1 282.8,180.0 283.5,179.5 283.8,178.6 283.9,177.7 285.0,177.3 285.6,177.2 285.8,176.7 285.9,177.1 285.7,177.7 286.0,178.5 285.3,179.3 285.3,180.3 285.2,181.2 285.5,182.0 285.2,182.4" fill="none" stroke="#a07818" stroke-width="1.6" stroke-linejoin="round" stroke-linecap="round"/>
<polyline points="169.1,211.5 169.1,210.4 169.6,209.4 169.8,208.4 169.9,207.3 170.2,206.3 170.5,205.2 170.7,204.1 170.9,203.1 171.0,202.0 171.4,201.0 171.5,199.9 171.8,198.9 171.9,197.9 172.3,196.9 172.4,195.8 172.9,194.8 173.0,193.8 173.3,192.7 173.7,191.6 173.7,190.4 173.7,189.4 173.9,188.5 174.2,187.5 174.3,186.4 174.4,185.3 174.6,184.3 174.8,183.2 174.9,182.1 175.0,181.0 175.0,179.9 175.1,178.8 175.2,177.7 175.1,176.7 175.3,175.6 175.5,174.7 175.6,173.6 175.7,172.5 175.9,171.3 175.7,170.1 176.1,169.0 175.9,167.9 176.0,167.1 176.0,166.4 176.0,165.7 175.7,165.0 176.4,164.4 176.4,163.8 177.0,163.2 176.2,162.5 176.9,161.9 177.2,160.9 177.7,160.0 177.5,159.1 177.1,158.2 177.9,158.0 177.8,157.9 178.2,157.6 177.7,158.3 178.7,158.6 178.6,159.4 178.8,160.3 179.3,161.1 179.1,162.1 179.6,163.0 179.9,163.8 180.4,164.4 180.5,165.1 181.1,165.6 180.9,166.6 181.9,166.7 181.9,167.6 182.5,168.0 182.7,168.7 183.2,169.2 183.3,169.9 184.3,170.3 184.4,171.0 184.8,171.7 184.5,172.6 184.9,173.2 185.1,173.9 186.0,174.2 185.5,175.2 186.6,175.5 186.5,176.3 186.5,177.1 187.1,177.7 187.1,178.5 187.6,179.1 188.0,179.7 187.4,180.6 187.9,181.2 188.0,182.0 187.9,182.8 188.9,183.2 189.2,183.9 189.5,184.6 189.5,185.4 189.5,186.2 189.5,187.0 189.9,187.6 190.3,188.2 190.3,188.9 190.9,189.5 191.5,190.0 191.6,190.8 191.9,191.4 192.3,192.0 191.8,193.1 192.2,193.6 193.0,194.0 193.4,194.6 193.4,195.4 193.7,196.1 194.4,196.7 194.3,197.7 194.9,198.4 195.2,199.3 196.0,199.9 196.2,200.6 196.9,200.8 196.8,201.4 197.0,200.9 197.3,201.4 197.2,200.7 198.1,200.6 197.9,199.6 198.9,199.0 198.5,197.9 198.9,197.1 199.2,196.5 200.4,196.1 199.9,195.3 199.7,194.5 200.0,193.7 200.1,192.5 200.2,191.1 200.3,189.8 200.7,188.6 200.8,187.4 200.9,186.3 200.9,185.3 201.4,184.6 201.5,183.9 202.4,183.8 203.5,184.1 204.5,184.9 205.6,185.2 206.5,185.8 207.6,186.1 208.5,186.5 209.6,186.3 210.8,186.5 212.0,186.2 213.0,185.8 213.9,185.1 215.1,185.0 215.9,184.2 217.1,184.0 217.8,183.2 218.4,182.2 219.3,181.3 219.9,180.1 220.5,179.4 221.3,179.3 222.4,179.6 223.2,180.9 224.0,181.4 224.7,181.1 225.3,180.3 226.4,179.9 227.1,178.8 228.1,178.0 229.2,177.5 230.1,177.6 231.1,178.4 232.0,179.4 232.8,180.0 233.2,179.7 233.6,179.2 233.9,178.3 234.3,177.3 234.3,176.0 234.6,174.7 234.9,173.3 235.0,172.3 235.1,171.6 235.0,170.7 235.2,169.8 235.2,168.9 235.3,167.9 235.3,166.9 235.5,165.9 235.5,164.8 235.6,163.7 235.6,162.6 235.6,161.4 235.7,160.3 235.9,159.1 235.7,157.9 235.7,156.7 235.8,155.5 235.9,154.3 235.9,153.2 235.9,152.0 236.1,150.9 236.2,149.8 236.2,148.7 236.1,147.6 236.1,146.6 236.1,145.6 236.1,144.6 236.2,143.6 236.2,142.4 236.3,141.1 236.2,139.9 236.2,138.7 236.3,137.4 236.3,136.3 236.2,135.1 236.3,134.0 236.2,132.9 236.4,131.9 236.4,130.9 236.5,130.0 236.6,129.2 236.9,128.5 237.1,127.6 238.0,126.8 238.6,126.0 239.1,125.1 239.8,124.2 240.1,123.2 240.3,122.1 240.7,121.1 241.3,120.1 241.3,119.1 241.7,118.1 242.1,117.2 242.0,116.0 242.4,114.8 242.8,113.7 242.6,112.8 242.9,111.8 242.9,110.8 243.0,109.7 243.2,108.5 243.2,107.3 243.2,106.1 243.5,105.0 243.6,103.8 243.7,102.6 243.6,101.5 243.7,100.4 243.7,99.4 244.0,98.6 244.1,97.6 244.1,96.1 244.1,94.7 244.3,93.6 244.2,92.7 244.5,92.2 244.6,92.6 244.8,93.3 244.9,94.3 244.8,95.5 245.0,96.9 245.3,98.4 245.3,99.8 245.5,101.1 245.8,102.2 245.8,103.3 246.0,104.4 246.7,105.2 246.8,106.3 247.2,107.1 247.4,108.0 247.6,109.0 247.7,110.0 247.9,111.1 248.0,112.3 248.0,113.6 248.3,114.5 248.2,115.4 248.3,116.3 248.5,117.2 248.6,118.2 248.6,119.2 248.6,120.3 248.5,121.3 248.6,122.4 248.6,123.5 248.6,124.6 248.6,125.8 248.6,126.9 248.8,128.1 248.9,129.2 248.8,130.4 248.8,131.5 248.9,132.7 249.1,133.8 249.1,134.9 249.0,136.0 249.1,137.0 249.3,138.1 249.2,139.2 249.2,140.3 249.4,141.4 249.3,142.6 249.4,143.7 249.4,144.8 249.5,146.0 249.5,147.1 249.8,148.2 249.8,149.4 249.7,150.5 250.0,151.6 250.0,152.6 250.0,153.7 250.1,154.7 250.0,155.8 250.3,156.7 250.3,157.7 250.4,158.6 250.4,159.5 250.6,160.4 250.7,161.7 250.8,163.0 251.1,164.2 251.1,165.4 251.3,166.5 251.6,167.4 251.7,168.4 252.1,169.1 252.5,170.0 253.2,170.9 254.3,171.3 255.0,172.1 256.0,172.6 256.3,173.5 256.4,174.4 256.6,175.4 256.7,176.5 256.7,177.8 256.8,179.0 256.7,180.2 256.9,181.4 256.9,182.4 257.3,183.5 257.7,184.5 257.7,185.6 258.0,186.6 258.4,187.5 258.7,188.6 258.9,189.6 259.3,190.6 259.7,191.7 259.9,192.8 260.1,193.9 260.3,195.0 260.8,195.9 261.0,197.1 261.2,198.4 261.6,199.6 262.0,200.5 262.3,201.2 263.5,200.7 264.6,200.7 264.9,201.7 265.5,202.9 266.1,203.8 267.0,204.7 267.5,205.7 268.5,206.4 269.0,207.4 269.7,208.2 270.8,208.7 271.6,209.1 272.2,209.8 272.3,211.0 272.5,212.3 272.8,213.3 273.8,214.1 274.5,215.0 274.8,214.7 275.5,213.7 275.4,212.3 275.7,211.1 276.0,209.8 276.1,208.4 276.1,207.1 276.5,206.1 276.5,205.7 276.8,206.2 277.0,207.5 277.4,209.0 277.5,210.1 277.9,211.1 278.0,212.1 278.4,213.2 278.7,214.2 279.0,215.3 279.3,216.4 280.0,217.4 280.1,218.5 280.9,219.3 281.2,220.4" fill="none" stroke="#f50f0f" stroke-width="1.6" stroke-linejoin="round" stroke-linecap="round"/>
<polyline points="169.3,201.0 169.3,199.9 169.4,198.9 169.6,197.8 169.5,196.7 169.9,195.7 170.0,194.6 169.9,193.4 170.0,192.4 170.1,191.3 170.5,190.2 170.2,189.1 170.6,188.0 170.6,186.9 170.6,185.9 170.7,184.8 171.1,183.8 171.0,182.8 171.2,181.8 171.4,180.8 171.4,179.9 171.5,178.9 171.4,178.0 171.6,176.8 171.8,175.8 171.9,174.7 172.0,173.7 172.0,172.7 172.1,171.8 172.3,170.8 172.4,169.8 172.3,168.8 172.6,167.8 172.5,166.6 172.5,165.4 172.4,164.4 172.8,163.6 172.7,162.7 172.7,161.7 172.9,160.8 173.1,159.9 173.0,158.9 172.9,157.9 173.2,156.8 173.0,155.8 173.1,154.8 173.1,153.7 173.0,152.6 173.3,151.5 173.2,150.4 173.3,149.3 173.4,148.2 173.4,147.1 173.3,145.9 173.4,144.8 173.5,143.7 173.4,142.5 173.6,141.4 173.6,140.3 173.8,139.1 173.5,138.0 173.8,136.9 173.8,135.7 173.8,134.7 173.8,133.7 173.8,132.6 174.0,131.6 174.0,130.5 173.8,129.5 174.1,128.4 174.1,127.4 174.2,126.3 174.3,125.2 174.1,124.1 174.4,123.0 174.2,121.9 174.3,120.8 174.5,119.7 174.6,118.6 174.4,117.5 174.7,116.4 174.7,115.3 174.7,114.2 174.6,113.1 174.6,112.0 174.7,111.0 174.7,109.9 174.9,108.8 175.0,107.7 175.0,106.7 175.0,105.6 175.1,104.6 175.0,103.6 175.0,102.6 175.1,101.6 175.4,100.6 175.4,99.6 175.2,98.6 175.4,97.6 175.6,96.4 175.3,95.3 175.5,94.1 175.6,93.0 175.8,91.8 175.7,90.7 175.8,89.6 175.7,88.5 176.0,87.4 175.9,86.3 175.8,85.2 176.1,84.1 175.9,83.1 175.8,82.4 176.4,81.7 176.3,81.0 176.2,80.4 175.8,79.7 176.3,79.0 176.2,78.4 176.6,77.7 176.8,77.1 176.4,76.5 176.7,75.8 176.2,75.2 176.8,74.6 176.7,74.0 176.5,73.2 177.1,72.3 176.5,71.3 177.1,70.4 176.9,69.4 177.0,68.5 176.6,67.5 176.7,66.6 177.4,65.8 177.6,65.0 177.7,64.2 177.4,63.4 176.9,62.7 177.4,62.2 177.8,61.9 178.3,61.7 177.2,61.0 177.8,61.6 178.2,61.1 178.0,61.5 178.4,61.8 178.5,62.4 177.7,63.1 178.1,63.8 178.5,64.5 178.6,65.4 179.0,66.3 178.6,67.2 179.0,68.1 178.8,69.1 179.1,70.0 178.6,70.9 179.4,71.6 179.5,72.4 179.1,73.1 179.6,73.8 179.1,74.6 178.9,75.3 179.3,76.0 179.7,76.7 179.8,77.4 179.8,78.1 179.4,78.9 179.3,79.6 179.5,80.3 180.0,80.9 179.9,81.6 179.9,82.3 180.3,82.9 179.8,83.6 180.4,84.4 180.2,85.4 180.6,86.3 180.7,87.3 181.2,88.2 180.4,89.1 180.3,90.0 181.0,90.6 180.5,91.2 180.9,91.5 180.9,91.3 180.9,91.4 180.6,90.9 181.5,90.4 181.6,89.6 181.2,88.6 181.5,87.6 181.8,86.5 181.8,85.5 181.6,84.5 181.9,83.6 182.3,82.9 182.2,82.3 182.3,82.1 182.5,81.9 182.3,82.3 182.8,82.5 183.1,83.0 182.7,83.8 182.9,84.5 182.5,85.4 183.0,86.3 183.0,87.2 183.4,88.1 183.3,89.1 183.4,90.0 183.2,90.9 183.0,91.6 183.7,92.3 184.1,93.2 183.9,94.1 183.3,95.1 183.8,96.0 184.0,96.9 183.4,97.8 184.1,98.6 183.7,99.4 183.5,100.1 183.6,100.7 184.1,101.0 184.7,100.9 184.8,101.4 184.5,101.0 184.4,100.5 184.6,99.8 183.9,99.0 184.6,98.1 184.3,97.2 184.4,96.1 184.4,95.1 185.0,94.1 184.4,93.1 184.6,92.2 184.5,91.4 185.3,90.8 185.0,90.3 185.4,90.3 185.4,89.7 185.3,90.2 185.5,90.6 185.0,91.2 185.6,91.9 185.4,92.7 185.7,93.5 185.4,94.5 186.1,95.3 186.5,96.2 186.1,97.2 186.5,98.0 185.7,98.7 185.9,99.3 186.4,99.9 186.7,100.6 186.9,101.3 187.1,102.0 186.8,102.7 187.1,103.4 186.4,104.2 186.2,105.0 186.5,105.7 187.1,106.4 186.7,107.2 187.1,107.9 187.6,108.6 187.5,109.3 187.1,110.1 187.7,110.8 187.6,111.5 187.5,112.2 187.8,112.9 187.8,113.6 187.9,114.3 188.4,114.9 187.7,115.7 188.4,116.4 187.7,117.1 188.2,117.8 188.5,118.5 188.9,119.1 188.8,119.9 189.0,120.6 188.7,121.4 188.8,122.1 189.4,122.8 189.0,123.6 189.0,124.3 189.2,124.9 188.9,125.6 189.2,126.3 189.7,126.9 189.7,127.6 189.5,128.4 189.9,129.0 189.2,129.8 189.7,130.5 189.5,131.2 189.3,132.0 190.0,132.7 189.9,133.4 189.9,134.1 189.9,134.9 189.9,135.6 190.1,136.3 190.3,137.0 190.0,137.7 190.5,138.4 190.2,139.1 191.1,139.7 191.1,140.4 190.5,141.2 190.8,141.9 191.3,142.6 191.3,143.3 190.8,144.1 191.0,144.8 191.4,145.5 191.8,146.1 191.2,147.0 191.8,147.6 191.8,148.3 192.1,149.0 192.5,149.6 192.0,150.4 192.4,151.1 192.1,151.8 193.0,152.4 192.6,153.2 192.6,153.9 192.8,154.5 193.0,155.2 193.1,155.9 193.7,156.6 193.8,157.3 193.9,158.0 194.1,158.7 193.8,159.6 194.3,160.2 194.0,161.0 194.5,161.7 194.1,162.5 194.3,163.2 194.2,163.9 195.1,164.5 194.7,165.2 194.4,166.0 195.1,166.5 194.9,167.2 194.8,167.8 195.3,168.5 195.9,169.3 195.3,170.4 195.8,171.3 195.6,172.3 196.2,173.0 196.7,173.6 197.0,174.0 196.9,174.4 196.9,174.0 196.5,173.7 197.8,173.8 197.6,173.0 197.5,172.2 197.7,171.3 198.1,170.4 198.6,169.5 198.9,168.5 198.4,167.7 198.5,167.2 198.5,166.7 198.7,166.1 199.2,165.6 198.6,164.9 199.2,164.4 198.8,163.7 198.6,163.0 198.9,162.3 199.3,161.7 199.4,161.0 199.5,160.3 199.2,159.5 199.1,158.7 199.2,158.0 199.7,157.3 199.5,156.5 199.7,155.7 200.1,154.9 200.1,154.2 199.6,153.4 199.6,152.6 199.9,151.8 200.1,151.0 200.0,150.2 199.9,149.5 199.4,148.7 199.9,147.9 199.6,147.2 199.9,146.5 199.8,145.7 200.0,145.0 200.2,144.3 200.4,143.6 200.3,142.9 200.2,142.1 200.3,141.3 200.7,140.6 200.4,139.8 200.8,139.0 200.8,138.1 200.5,137.3 200.9,136.5 200.6,135.7 200.8,134.9 201.3,134.1 200.9,133.3 201.2,132.5 201.1,131.7 201.1,131.0 201.3,130.2 201.3,129.5 201.0,128.7 201.3,128.1 201.4,127.4 201.4,126.8 201.5,126.2 201.3,125.6 201.2,125.0 201.6,124.5 201.9,124.1 201.5,123.6 201.7,123.2 202.1,122.2 202.3,121.4 202.1,120.6 202.6,121.3 203.2,120.4 203.1,121.5 203.7,122.3 204.3,123.1 205.0,123.1 205.0,123.2 205.4,122.7 206.0,121.9 206.6,121.4 206.4,121.6 206.6,121.7 207.2,122.2 207.3,123.1 207.5,124.1 207.7,125.1 207.4,126.1 208.1,126.9 208.1,127.7 208.3,128.1 208.2,128.9 208.3,128.2 208.1,127.6 208.4,127.0 208.5,126.1 209.0,125.2 209.3,124.2 209.8,123.3 209.9,122.3 209.8,121.4 210.3,120.9 210.8,121.0 210.3,121.2 210.7,121.3 211.5,121.9 211.5,123.0 212.7,123.2 213.1,123.0 213.3,123.5 213.1,122.8 214.2,122.7 214.1,121.8 214.6,121.1 214.6,120.1 214.7,119.2 215.4,118.4 215.1,117.4 216.0,116.9 216.1,116.1 216.3,115.6 216.9,115.2 217.4,114.7 217.9,114.0 218.1,113.7 218.5,113.3 218.2,112.6 218.7,112.1 218.4,111.3 218.5,110.6 219.2,110.0 219.1,109.2 219.5,108.4 219.4,107.6 219.5,106.8 219.3,105.9 220.0,105.2 219.7,104.3 220.1,103.6 219.9,102.8 220.4,102.2 220.5,101.6 220.1,100.7 220.5,99.9 220.5,98.9 220.9,98.0 220.9,97.0 220.9,96.2 221.3,95.5 221.3,94.8 221.4,94.4 220.9,93.6 221.0,94.5 221.2,94.5 222.1,95.0 222.4,95.8 221.7,96.9 222.4,97.8 222.2,98.9 223.0,99.5 223.5,99.9 223.5,99.9 223.9,100.4 224.2,99.7 225.3,99.6 225.7,98.7 226.4,98.1 226.9,97.4 226.8,96.5 227.6,96.1 227.2,95.2 227.9,94.7 228.5,94.1 228.4,93.2 228.6,92.7 228.4,91.9 228.8,91.3 228.8,90.6 229.3,89.9 229.4,89.2 228.9,88.3 229.7,87.7 229.5,86.9 229.4,86.1 229.9,85.6 229.8,84.8 230.3,84.0 230.5,83.1 230.9,82.3 230.5,81.4 231.0,80.7 231.7,80.4 231.2,79.6 231.8,79.5 232.9,79.5 233.3,80.7 232.9,79.7 233.5,79.6 234.0,79.1 233.9,78.3 234.1,77.5 234.1,76.6 234.5,75.7 234.8,74.9 234.5,74.0 234.3,73.3 234.7,72.6 234.8,71.9 235.1,70.7 235.1,69.5 235.6,68.3 235.4,67.2 235.7,66.1 236.0,65.2 236.0,64.3 236.9,63.4 237.4,62.5 238.3,62.1 239.3,61.7 240.2,61.1 241.3,61.6 242.0,61.8 242.8,60.7 243.4,59.9 244.1,60.8 244.6,61.6 244.8,62.3 245.2,63.1 245.2,64.1 245.1,65.1 245.3,66.3 245.4,67.5 245.3,68.7 245.6,70.0 245.6,71.2 245.7,72.4 245.9,73.6 246.0,74.7 246.1,75.7 246.0,76.7 246.2,77.8 246.3,78.8 246.5,79.9 246.7,80.9 246.8,82.0 246.8,83.1 246.7,84.2 246.8,85.3 246.9,86.4 247.1,87.5 247.4,88.5 247.3,89.6 247.4,90.7 247.4,91.7 247.6,92.8 247.8,93.8 247.8,94.9 248.1,95.9 248.0,97.0 248.2,98.0 248.3,99.1 248.5,100.2 248.3,101.2 248.6,102.3 248.6,103.4 248.8,104.4 248.7,105.5 248.8,106.6 249.0,107.6 248.9,108.7 249.1,109.8 249.3,110.8 249.3,111.9 249.3,113.0 249.4,114.1 249.7,115.2 249.8,116.3 249.8,117.4 250.0,118.5 250.0,119.5 250.3,120.6 250.5,121.6 250.3,122.7 250.4,123.7 250.5,124.7 250.7,125.8 250.8,126.9 251.0,128.0 251.0,129.1 250.9,130.2 251.3,131.3 251.5,132.3 251.3,133.4 251.7,134.4 251.9,135.4 251.7,136.4 252.0,137.3 252.5,138.3 252.5,139.5 252.9,140.6 253.1,141.7 253.8,142.6 253.9,143.7 254.2,144.6 254.7,145.6 254.8,146.7 255.3,147.7 255.7,148.7 255.9,149.8 256.5,150.7 257.0,151.6 257.2,152.7 257.9,153.6 258.1,154.7 258.4,155.8 258.5,156.9 258.8,157.9 259.4,158.8 260.0,159.7 260.7,160.6 261.2,161.5 261.3,162.6 261.9,163.5 262.2,164.3 262.1,165.2 262.5,166.0 263.1,166.6 263.2,167.4 263.7,167.8 264.0,168.8 265.0,168.6 266.0,168.5 266.1,166.5 266.9,167.2 267.6,167.4 268.3,167.8 268.2,169.1 269.7,168.7 269.1,169.8 269.6,170.5 269.8,171.2 270.7,171.7 270.7,172.4 271.3,172.9 270.9,174.4 272.3,173.5 271.6,173.5 272.6,173.8 272.8,172.9 273.0,171.9 272.9,170.9 273.7,170.2 273.5,169.5 274.2,169.4 274.5,170.0 274.0,171.0 274.6,171.9 275.0,172.9 275.2,173.7 275.0,174.6 275.7,174.5 275.8,173.5 276.7,173.1 277.6,172.8 277.6,171.9 278.6,171.7 278.3,170.7 279.3,170.4 279.0,169.6 278.9,168.8 280.0,168.2 280.2,167.5 279.6,166.5 280.4,166.1 281.2,165.7 281.1,164.9 281.3,164.2 281.9,163.7 282.5,163.1 282.1,162.3 282.5,161.6 282.1,160.8 282.9,160.2 283.2,159.4 282.7,158.5 283.3,157.9 283.0,157.1 283.9,156.5 283.3,155.7 283.8,155.1 283.8,154.4 284.5,153.9 284.4,153.1 284.9,152.5 284.3,151.6 284.8,151.1 284.9,150.4 284.7,149.7 284.9,149.0 284.8,148.3 285.5,147.6 285.4,146.9 285.2,146.1 285.5,145.4 286.0,144.8 285.7,144.0" fill="none" stroke="#080808" stroke-width="1.6" stroke-linejoin="round" stroke-linecap="round"/>
<polyline points="398.1,212.4 398.4,211.4 398.6,210.4 398.9,209.4 399.0,208.3 399.4,207.3 399.8,206.3 399.8,205.2 400.3,204.2 400.5,203.2 400.8,202.2 401.0,201.2 401.5,200.2 401.7,199.2 402.1,198.2 402.4,197.2 402.8,196.2 403.2,195.1 403.6,194.2 403.9,193.1 404.2,192.1 404.4,191.0 404.9,189.9 405.1,188.9 405.4,187.8 405.8,186.8 406.1,185.8 406.4,184.8 406.6,183.8 406.9,182.7 407.0,181.6 407.3,180.6 407.5,179.5 407.6,178.4 407.8,177.3 408.2,176.3 408.4,175.3 408.8,174.3 409.3,173.3 409.5,172.2 409.9,171.2 410.3,170.2 410.5,169.1 411.0,168.2 411.4,167.1 411.8,166.0 412.4,164.9 412.9,163.9 413.3,163.0 413.8,162.2 414.6,161.7 415.6,161.1 416.7,160.8 417.7,160.7 418.7,161.2 419.7,161.8 420.6,162.6 421.1,163.4 421.9,164.1 422.5,165.0 423.2,165.9 423.8,166.9 424.4,167.9 425.1,168.7 425.5,169.7 426.3,170.5 426.8,171.4 427.2,172.4 427.8,173.3 428.5,174.2 429.0,175.2 429.6,176.0 430.0,177.1 430.8,177.8 431.3,178.8 431.7,179.9 432.4,180.7 432.9,181.7 433.5,182.5 433.9,183.5 434.3,184.5 434.7,185.5 435.4,186.3 435.8,187.3 436.3,188.2 436.7,189.2 437.4,190.0 437.9,190.9 438.5,191.9 439.1,192.8 440.0,193.5 440.6,194.5 441.3,195.3 441.7,196.3 442.3,197.2 442.9,198.1 443.7,198.9 444.4,199.7 444.9,200.6 445.5,201.5 446.2,202.3 446.8,203.1 447.7,203.9 448.4,204.7 449.1,205.6 450.0,206.2 450.7,207.0 451.4,207.8 452.3,208.5 453.3,209.1 454.2,209.6 455.0,210.2 456.0,210.9 457.1,211.2 458.1,211.4 459.0,211.3 459.7,210.5 460.4,209.4 460.6,208.5 461.0,207.7 461.2,206.8 461.4,205.8 461.7,204.8 461.9,203.6 462.0,202.4 462.2,201.2 462.3,200.1 462.5,199.2 462.6,198.2 462.7,197.2 462.8,196.1 462.8,195.0 463.0,193.8 463.1,192.7 463.1,191.5 463.4,190.3 463.4,189.1 463.4,187.9 463.5,186.8 463.6,185.7 463.7,184.6 463.8,183.6 464.0,182.7 464.0,181.8 464.1,181.0 464.4,179.8 464.7,178.4 464.8,177.1 465.2,176.2 465.4,175.7 465.5,176.2 465.6,176.9 465.8,177.9 465.9,179.2 466.0,180.6 466.1,182.0 466.2,183.3 466.2,184.5 466.4,185.7 466.4,187.1 466.6,188.4 466.9,189.7 467.0,190.8 467.1,191.5 467.2,191.6 467.2,191.6 467.4,191.1 467.6,190.3 467.7,189.3 467.7,188.1 467.9,186.8 468.0,185.4 468.1,184.0 468.3,182.7 468.4,181.4 468.3,180.2 468.6,179.2 468.7,178.0 468.6,176.7 468.7,175.5 468.8,174.3 468.9,173.3 469.3,172.6 469.6,171.9 470.8,171.7 471.9,171.8 473.1,172.2 473.8,171.8 474.0,170.5 474.4,169.2 474.7,167.9 475.2,166.9 475.5,166.9 475.8,168.0 476.4,169.3 476.6,170.3 476.7,171.2 476.9,172.1 477.0,173.2 477.2,174.3 477.2,175.4 477.2,176.6 477.5,177.7 477.6,178.8 477.7,179.9 477.8,180.9 477.9,182.0 477.9,183.0 478.1,184.1 478.3,185.2 478.3,186.2 478.5,187.3 478.6,188.4 478.6,189.4 478.7,190.5 478.9,191.5 479.0,192.5 479.0,193.7 479.2,194.8 479.4,196.0 479.4,197.1 479.4,198.2 479.6,199.2 479.9,200.1 480.1,201.0 480.2,202.0 480.7,203.1 481.3,204.0 481.7,205.0 482.3,205.9 482.8,206.9 483.5,207.8 484.2,208.7 484.9,209.5 485.8,210.2 486.6,210.9 487.6,211.4 488.7,211.6 489.7,211.9 490.8,212.3 491.9,212.7 493.0,212.9 493.9,213.3 494.9,213.6 496.0,213.7 497.0,213.9 498.0,214.6 499.1,214.5 500.1,214.7 501.1,214.8 502.1,215.2 503.2,215.2 504.3,215.3 505.3,215.4 506.4,215.5 507.5,215.7 508.5,216.0 509.6,216.2 510.7,215.9 511.8,216.0 512.8,216.5 513.9,216.4 515.0,216.6" fill="none" stroke="#c85f18" stroke-width="1.6" stroke-linejoin="round" stroke-linecap="round"/>
<polyline points="398.5,170.6 398.5,169.5 398.8,168.5 399.0,167.4 399.3,166.4 399.3,165.3 399.6,164.3 399.7,163.2 399.7,162.1 399.8,161.1 400.1,160.1 400.4,159.1 400.7,158.1 400.8,157.1 401.0,156.0 401.2,155.0 401.4,153.9 401.8,153.0 401.9,151.9 402.3,151.0 402.5,149.9 402.8,148.9 403.0,147.8 403.1,146.8 403.5,145.8 403.9,144.8 404.1,143.7 404.5,142.7 404.6,141.6 405.1,140.6 405.5,139.6 405.6,138.6 406.1,137.7 406.2,136.6 406.8,135.6 407.0,134.5 407.3,133.5 408.0,132.6 408.3,131.6 408.7,130.6 408.9,129.6 409.7,128.7 409.8,127.6 410.3,126.6 410.6,125.5 410.8,124.4 411.5,123.5 411.9,122.5 412.1,121.5 412.8,120.7 413.6,119.8 414.3,119.0 415.2,118.4 415.7,117.4 416.6,117.1 417.6,116.2 418.8,116.1 419.9,116.0 421.0,115.9 422.1,116.0 423.0,116.5 424.1,116.7 425.2,117.1 425.9,118.1 427.1,118.4 428.0,118.8 429.1,119.0 430.0,119.7 431.1,120.0 432.1,120.5 433.0,121.0 433.9,121.6 435.0,122.0 435.9,122.6 436.6,123.4 437.3,124.2 438.0,125.1 438.6,125.9 439.5,126.7 439.8,127.8 440.5,128.6 441.3,129.4 441.6,130.5 442.2,131.4 442.6,132.4 443.2,133.3 443.7,134.3 444.5,135.0 445.1,135.9 445.5,136.9 446.2,137.8 446.9,138.5 447.7,139.3 448.0,140.4 448.9,141.1 449.5,142.0 450.3,142.6 450.9,143.5 452.0,144.0 452.7,144.8 453.5,145.5 453.9,146.6 454.8,147.1 455.4,148.1 456.5,148.6 457.3,149.4 457.8,150.4 458.8,151.2 459.6,152.1 460.6,152.7 461.4,153.2 461.8,152.5 462.6,151.9 463.0,150.8 463.5,149.6 463.8,148.2 464.0,147.5 464.1,146.7 464.4,145.8 464.4,144.9 464.5,143.9 464.6,142.8 464.8,141.7 465.2,140.6 465.2,139.5 465.3,138.3 465.4,137.1 465.5,135.9 465.5,134.7 465.7,133.6 465.7,132.4 466.0,131.3 465.9,130.1 466.0,129.1 466.2,128.1 466.3,127.0 466.5,125.9 466.4,124.8 466.6,123.8 466.7,122.8 466.9,121.9 467.0,120.9 467.2,119.9 467.2,118.9 467.3,117.9 467.4,116.9 467.4,115.8 467.6,114.6 467.7,113.4 467.8,112.4 468.0,111.5 468.0,110.4 468.1,109.3 468.0,108.1 468.3,106.9 468.4,105.6 468.3,104.3 468.5,102.9 468.5,101.5 468.3,100.1 468.4,98.7 468.6,97.3 468.7,95.9 468.8,94.5 468.7,93.1 468.8,91.8 468.9,90.5 469.0,89.2 469.1,88.0 469.1,86.8 469.3,85.8 469.1,84.8 469.3,83.9 469.4,83.0 469.4,82.3 469.4,81.7 469.4,81.2 469.7,80.9 469.6,80.7 469.7,80.4 469.8,80.6 470.0,80.8 469.8,81.1 470.0,81.4 470.1,81.9 470.1,82.5 470.1,83.1 470.2,83.8 470.2,84.6 470.2,85.5 470.3,86.4 470.4,87.4 470.3,88.5 470.4,89.6 470.7,90.8 470.6,92.0 470.7,93.2 470.8,94.5 470.9,95.9 470.9,97.2 470.9,98.6 470.9,100.0 471.0,101.4 471.1,102.9 471.2,104.3 471.2,105.8 471.2,107.2 471.4,108.7 471.5,110.1 471.4,111.5 471.4,112.9 471.5,114.3 471.8,115.7 471.7,117.0 471.7,118.3 471.9,119.6 471.9,120.8 472.0,121.9 472.1,123.0 472.0,124.1 472.2,125.1 472.4,126.0 472.4,126.9 472.5,127.7 472.7,128.4 472.8,129.0 472.9,130.5 473.0,131.9 473.0,133.3 473.3,134.5 473.7,135.4 474.0,136.0 474.2,136.0 474.4,135.8 474.8,135.0 475.1,133.8 475.5,132.4 475.8,131.0 476.1,130.0 476.1,128.8 476.2,127.5 476.6,126.2 476.7,124.8 476.7,123.4 477.0,122.2 477.0,121.0 477.1,120.2 477.2,119.6 477.4,119.3 477.6,119.6 477.6,120.2 477.9,121.0 478.0,122.2 478.1,123.4 478.4,124.8 478.5,126.2 478.6,127.7 478.8,129.0 478.9,129.9 478.9,130.8 479.0,131.8 479.0,132.8 479.0,133.8 479.0,134.9 479.0,136.0 479.0,137.1 479.2,138.3 479.3,139.4 479.2,140.6 479.4,141.7 479.3,142.8 479.4,143.9 479.5,145.0 479.5,146.1 479.6,147.2 479.7,148.2 479.8,149.2 479.7,150.2 479.8,151.4 479.9,152.6 480.0,153.7 480.4,154.8 480.3,156.0 480.5,157.1 480.5,158.1 480.6,159.1 480.7,160.2 481.1,161.1 481.1,162.1 481.6,162.9 482.0,164.1 482.3,165.2 482.8,166.1 483.1,167.2 483.6,168.1 484.5,168.7 485.2,169.4 486.1,169.9 486.9,170.5 487.8,171.1 488.7,171.8 489.8,172.1 490.8,172.5 491.7,173.0 492.8,173.2 493.6,174.0 494.6,174.5 495.5,175.0 496.6,175.3 497.6,175.6 498.6,175.9 499.6,176.4 500.6,176.6 501.6,177.2 502.6,177.4 503.7,177.6 504.8,177.7 505.8,178.0 506.7,178.7 507.8,178.8 508.7,179.5 509.7,179.8 510.8,179.9 511.9,180.2 512.7,180.9 513.8,181.3 514.7,181.7 515.1,181.9" fill="none" stroke="#080808" stroke-width="1.6" stroke-linejoin="round" stroke-linecap="round"/>
<polyline points="399.1,196.9 398.7,196.1 399.1,195.4 398.9,194.6 399.1,193.8 398.7,193.0 399.4,192.3 399.8,191.6 398.9,190.8 398.9,190.1 399.3,189.4 398.9,188.7 400.3,188.4 400.6,187.7 400.4,186.8 401.2,186.4 400.8,185.4 401.1,184.8 400.8,184.0 401.2,183.4 402.1,182.8 402.2,182.1 402.5,181.3 402.0,180.4 402.1,179.8 401.8,179.0 402.6,178.2 402.5,177.4 402.2,176.4 402.8,175.5 402.2,174.5 402.7,173.6 402.2,172.7 402.7,171.9 402.7,171.1 403.0,170.4 403.0,169.9 403.3,169.5 403.5,169.4 403.2,168.7 402.9,169.5 403.6,170.2 403.8,171.3 404.2,171.9 404.4,171.9 404.0,171.5 404.3,171.3 404.5,170.8 405.2,170.2 405.1,169.0 405.2,167.6 405.5,166.3 405.7,164.9 405.7,163.6 406.4,162.7 406.7,161.6 407.0,160.6 407.4,159.6 408.2,158.8 408.7,157.9 408.8,156.7 409.3,155.8 410.0,154.9 410.5,153.9 410.9,152.9 411.7,152.1 411.9,151.0 412.2,150.0 413.1,149.2 413.4,148.1 414.0,147.2 414.8,146.4 415.2,145.4 416.0,144.7 416.8,143.8 417.4,142.8 418.2,142.1 419.0,141.4 420.0,141.2 421.1,140.9 422.3,141.1 423.4,141.1 424.4,140.7 425.3,140.2 426.4,139.7 427.3,139.3 428.1,138.5 429.1,138.0 430.0,137.3 431.0,137.0 431.8,136.1 432.9,135.6 433.9,135.5 434.8,135.9 435.9,135.8 436.7,136.7 437.7,137.1 438.2,138.0 438.5,139.1 439.5,139.9 439.7,141.1 440.3,141.9 440.6,142.9 441.6,143.6 442.0,144.6 442.5,145.6 442.8,146.7 443.6,147.5 443.8,148.6 444.3,149.6 445.3,150.2 445.6,151.3 446.0,152.3 446.8,153.1 447.3,154.1 447.8,155.1 448.4,156.0 449.2,156.7 450.1,157.2 450.9,158.0 452.0,158.0 452.9,158.8 454.1,158.8 454.9,159.7 455.7,160.4 456.1,161.5 457.0,162.1 457.6,163.0 458.2,163.9 459.3,164.8 460.1,165.9 460.8,166.7 461.7,166.7 461.9,166.0 462.5,165.2 462.8,164.0 463.2,162.8 463.8,161.5 464.0,160.5 464.0,159.7 464.3,158.8 464.3,157.9 464.4,157.0 464.7,156.0 465.0,155.0 465.1,153.9 465.2,152.8 465.3,151.7 465.2,150.5 465.4,149.4 465.5,148.2 465.8,147.1 465.7,145.9 465.9,144.8 466.1,143.7 466.2,142.5 466.3,141.5 466.3,140.4 466.3,139.4 466.7,138.4 466.7,137.4 466.9,136.4 466.8,135.3 467.1,134.3 467.3,133.3 467.3,132.3 467.4,131.2 467.7,130.2 467.6,129.1 467.8,128.1 467.9,127.0 468.0,125.9 468.0,124.9 468.2,123.8 468.4,122.7 468.4,121.6 468.6,120.5 468.5,119.4 468.6,118.4 468.9,117.3 468.9,116.1 469.0,114.9 469.0,113.6 469.0,112.2 469.1,110.9 469.0,109.5 469.2,108.1 469.3,106.7 469.2,105.3 469.4,103.9 469.4,102.5 469.6,101.2 469.7,99.9 469.4,98.7 469.5,97.5 469.8,96.4 469.8,95.4 469.7,94.4 470.0,93.6 470.0,92.8 470.1,92.2 470.1,91.7 470.0,91.3 470.0,91.0 470.2,91.2 470.2,91.1 470.4,91.2 470.1,91.6 470.5,91.9 470.3,92.5 470.6,93.0 470.5,93.7 470.7,94.5 470.6,95.4 470.6,96.3 470.8,97.3 470.9,98.4 470.8,99.5 470.7,100.7 471.0,102.0 470.8,103.3 471.1,104.6 470.9,105.9 471.1,107.3 471.1,108.7 471.3,110.1 471.1,111.5 471.2,113.0 471.2,114.4 471.2,115.8 471.4,117.3 471.5,118.6 471.7,120.0 471.7,121.4 471.6,122.7 471.7,124.0 471.8,125.2 472.0,126.4 472.0,127.5 471.9,128.6 471.9,129.6 472.3,130.5 472.1,131.4 472.4,132.2 472.3,133.6 472.7,135.1 472.8,136.5 472.9,137.9 473.3,139.3 473.4,140.6 473.5,141.7 473.7,142.7 473.9,143.4 474.4,143.8 474.5,143.9 474.7,144.1 475.1,143.6 475.2,142.6 475.8,141.5 475.7,140.1 476.3,138.7 476.4,137.4 476.7,136.3 476.8,135.2 477.2,133.9 477.4,132.6 477.5,131.1 477.5,129.7 477.6,128.3 477.8,127.1 477.7,126.0 477.9,125.1 478.0,124.5 478.3,124.3 478.1,124.3 478.2,124.7 478.3,125.3 478.3,126.1 478.5,127.1 478.7,128.3 478.7,129.6 478.6,131.0 478.8,132.4 478.8,133.9 478.8,135.3 479.1,136.6 479.0,137.6 479.1,138.6 479.1,139.5 479.1,140.6 479.3,141.6 479.2,142.7 479.3,143.8 479.3,144.9 479.3,146.0 479.5,147.2 479.5,148.3 479.5,149.5 479.5,150.6 479.8,151.8 479.7,152.9 479.8,154.0 479.7,155.1 480.0,156.2 479.9,157.2 480.0,158.2 480.3,159.2 480.1,160.1 480.3,161.0 480.2,162.3 480.6,163.4 480.7,164.6 480.7,165.7 480.9,166.8 481.2,167.8 481.4,168.8 481.5,169.7 481.8,170.7 482.0,171.6 482.5,172.5 482.6,173.7 483.1,174.7 483.9,175.5 484.0,176.6 484.7,177.4 485.0,178.4 486.0,179.0 486.4,180.0 487.3,180.7 488.1,181.4 489.0,182.0 489.5,183.2 490.3,183.9 491.3,184.3 492.4,184.7 493.3,185.2 494.1,186.1 495.1,186.6 496.1,186.9 497.2,187.2 497.9,188.2 498.8,188.9 499.7,189.4 500.7,189.7 501.6,190.3 502.7,190.6 503.5,191.3 504.3,192.0 505.2,192.6 506.1,193.4 506.8,194.2 507.8,194.5 508.7,195.2 509.8,195.3 510.7,196.0 511.9,195.9 512.8,196.6 513.7,197.3 514.8,197.5 514.9,198.0" fill="none" stroke="#1a821a" stroke-width="1.6" stroke-linejoin="round" stroke-linecap="round"/>
<polyline points="399.3,118.3 399.4,117.6 400.1,116.9 399.5,116.2 399.9,115.5 399.8,114.7 399.4,114.0 400.0,113.3 400.1,112.6 399.4,111.8 399.8,111.1 399.5,110.4 399.9,109.6 399.5,108.9 399.6,108.2 399.8,107.5 400.1,106.8 399.8,106.1 399.8,105.4 399.7,104.7 399.7,104.0 399.9,103.3 399.9,102.6 400.0,101.9 400.1,101.3 400.3,100.6 400.1,100.0 399.8,99.2 400.2,98.3 400.1,97.4 399.8,96.4 400.3,95.5 400.0,94.5 400.3,93.6 400.4,92.7 400.2,91.8 400.4,91.0 400.4,90.2 400.4,89.5 400.3,88.9 400.5,88.5 400.9,88.1 400.7,87.9 400.6,87.7 400.3,88.0 401.0,88.1 400.7,88.5 400.7,89.0 400.8,89.7 400.5,90.4 401.1,91.2 400.9,92.1 400.8,93.0 401.0,93.9 400.9,94.9 401.0,95.8 401.1,96.8 401.2,97.7 400.9,98.5 400.9,99.3 401.4,100.0 401.0,100.9 401.3,101.7 401.2,102.7 401.3,103.6 401.7,104.6 401.9,105.5 402.0,106.3 401.6,107.1 402.1,107.7 401.7,108.2 401.8,108.6 402.1,109.2 402.0,108.5 402.3,108.3 402.3,107.9 402.4,107.4 402.7,106.9 402.7,106.2 402.2,105.4 402.5,104.6 402.4,103.7 403.0,102.8 402.5,101.8 402.9,100.9 402.6,99.9 403.2,99.0 402.7,98.0 403.3,97.2 403.3,96.4 403.2,95.7 402.9,95.0 403.3,94.2 403.3,93.4 403.0,92.6 403.2,91.9 403.4,91.2 403.5,90.5 403.1,89.8 403.5,89.2 404.1,88.6 403.5,87.7 404.4,87.2 403.8,86.3 403.9,85.6 404.0,84.8 405.0,84.4 405.2,83.7 405.7,83.2 405.7,82.4 406.6,82.0 406.9,81.4 406.3,80.3 406.6,79.6 407.1,79.1 407.3,78.4 408.2,78.0 408.2,77.2 408.7,76.7 409.1,76.1 409.3,75.4 409.5,74.7 410.2,74.2 410.5,73.6 411.1,73.0 410.5,72.0 411.4,71.5 410.8,70.5 412.1,70.2 411.1,69.1 412.0,68.6 412.2,68.0 412.2,67.2 412.7,66.6 412.9,65.9 413.5,65.4 414.0,64.9 413.9,64.0 413.7,63.1 414.0,62.5 414.8,62.1 415.4,61.6 415.4,60.8 415.6,60.1 416.2,59.6 416.6,59.0 417.3,58.5 417.5,57.7 417.8,57.1 417.8,56.2 418.5,55.8 418.6,55.1 419.0,54.6 419.6,54.2 419.2,52.8 420.6,53.1 420.4,51.7 421.6,52.0 421.3,50.6 423.0,51.2 423.0,50.2 423.5,49.5 424.0,49.0 425.0,48.9 425.8,48.6 425.4,47.3 426.5,46.8 427.0,46.2 427.2,45.7 427.3,45.8 427.8,45.9 428.4,46.5 428.5,47.4 429.1,48.1 428.7,49.4 430.3,49.2 430.7,49.7 430.6,50.8 431.3,51.1 431.5,52.0 433.1,52.3 433.6,53.1 434.0,54.1 433.8,55.5 435.0,56.1 435.1,57.3 435.6,58.3 435.6,59.5 436.1,60.5 437.1,61.2 437.3,62.3 438.3,63.0 438.5,64.1 438.8,65.2 439.7,65.9 440.6,66.5 441.0,67.5 441.7,68.4 442.3,69.3 442.8,70.3 442.6,71.5 443.4,72.4 444.2,73.2 444.5,74.3 444.5,75.5 445.1,76.4 445.8,77.3 446.6,78.0 447.2,79.0 447.7,79.9 448.6,80.6 449.0,81.7 450.1,82.3 450.4,83.5 451.0,84.6 452.4,85.1 453.1,85.8 453.8,86.2 454.2,87.1 454.7,88.1 455.2,88.6 455.6,89.5 455.8,90.6 455.8,91.9 456.6,93.0 456.9,94.0 457.7,94.9 458.5,95.8 458.7,96.9 459.6,97.5 460.0,98.6 460.4,100.0 461.9,99.9 462.4,100.3 463.8,100.5 464.4,99.3 465.0,98.3 466.3,98.3 466.5,97.0 467.7,96.6 468.4,95.5 468.3,94.2 469.4,93.4 468.9,92.0 470.3,91.4 470.8,91.0 471.0,92.1 470.9,93.5 471.4,94.7 472.6,95.4 472.3,96.8 473.4,97.5 473.3,98.9 474.8,98.8 475.4,99.9 476.5,100.0 477.6,100.3 477.5,101.7 478.8,102.2 479.4,103.2 479.3,104.4 479.7,105.4 480.6,106.3 480.9,107.4 481.1,108.5 480.7,109.7 481.0,110.8 481.5,111.9 481.6,113.0 482.0,114.2 482.7,114.8 483.6,115.4 484.8,115.7 485.2,117.1 486.5,117.3 487.0,118.5 488.4,118.4 489.2,119.1 490.4,119.2 490.6,120.9 491.5,121.4 492.3,122.4 493.5,122.5 494.5,122.8 495.4,123.4 496.1,124.1 496.8,125.0 497.9,125.6 498.3,126.8 499.8,126.6 500.2,128.1 501.3,128.4 502.0,129.3 503.5,128.9 504.2,129.7 505.3,130.2 505.7,131.4 506.5,132.2 507.2,133.1 508.9,132.8 509.2,134.1 510.3,134.5 511.2,135.2 511.6,136.4 512.5,137.0 513.7,137.2 514.6,137.8 514.9,139.2 515.8,138.7" fill="none" stroke="#1a28f5" stroke-width="1.6" stroke-linejoin="round" stroke-linecap="round"/>
<polyline points="398.6,153.0 398.2,152.3 398.7,151.6 398.2,150.8 398.9,150.1 398.9,149.4 398.5,148.6 398.8,147.9 399.4,147.2 399.2,146.4 399.2,145.7 399.2,144.9 398.8,144.2 398.9,143.4 399.4,142.8 399.3,142.0 399.1,141.3 399.1,140.6 399.5,139.9 399.6,139.3 399.4,138.6 399.5,137.9 399.9,137.3 399.5,136.6 399.4,135.8 400.0,135.1 400.2,134.3 400.8,133.7 400.3,132.9 400.6,132.2 401.2,131.6 400.3,130.8 400.4,130.1 401.1,129.5 400.6,128.7 400.8,128.0 401.6,127.4 401.7,126.7 401.5,126.0 401.9,125.4 402.3,124.7 402.6,124.1 402.4,123.3 402.0,122.5 402.7,121.9 402.9,121.3 402.9,120.5 403.9,120.1 404.0,119.4 404.0,118.6 404.3,118.0 404.2,116.8 404.3,115.8 404.7,114.8 405.3,113.9 405.7,112.9 405.9,111.8 406.4,110.8 406.8,109.8 407.0,108.7 407.7,107.7 407.7,106.6 408.3,105.7 408.7,104.8 408.9,103.7 409.3,102.7 409.9,101.8 410.0,100.7 410.6,99.7 410.8,98.7 411.1,97.7 411.6,96.7 411.9,95.7 412.2,94.7 412.6,93.8 413.3,92.8 413.6,91.7 413.9,90.6 414.2,89.5 414.8,88.5 415.0,87.4 415.5,86.5 416.2,85.8 416.3,84.8 417.0,83.9 417.6,82.8 418.3,82.0 419.0,81.3 420.0,80.9 420.8,80.4 421.8,79.8 422.9,80.1 424.0,79.9 424.9,79.1 426.1,79.0 427.0,78.3 427.9,77.7 429.0,77.7 429.8,78.5 430.7,79.2 431.7,79.9 432.5,80.5 432.8,81.5 433.6,82.3 434.2,83.3 434.9,84.2 435.2,85.2 435.8,86.0 436.3,87.0 437.1,87.7 437.6,88.7 438.2,89.6 438.6,90.7 439.5,91.5 439.9,92.5 440.3,93.5 440.8,94.4 441.3,95.4 441.6,96.4 442.2,97.4 442.7,98.3 443.1,99.3 443.9,100.1 444.1,101.3 444.7,102.1 445.1,103.1 445.7,104.0 446.2,105.0 446.5,106.0 447.1,107.0 447.6,107.9 447.7,109.0 448.4,109.8 448.8,110.8 449.4,111.6 449.9,112.5 450.2,113.7 450.9,114.5 451.6,115.3 452.1,116.3 452.6,117.2 453.3,118.0 454.0,118.7 454.6,119.6 455.0,120.7 455.6,121.6 456.2,122.5 457.0,123.4 457.4,124.3 457.9,125.2 458.6,126.1 459.1,127.3 459.7,128.5 460.0,129.5 460.6,130.0 461.3,129.6 461.8,128.6 462.4,127.5 462.8,126.2 463.1,125.2 463.3,124.3 463.7,123.4 463.8,122.4 463.9,121.4 464.1,120.3 464.1,119.1 464.4,117.9 464.5,116.6 464.8,115.7 464.7,114.8 464.8,113.9 465.0,113.0 465.0,112.1 465.1,111.1 465.2,110.1 465.3,109.1 465.4,108.1 465.5,107.0 465.7,106.0 465.9,104.9 465.9,103.8 466.0,102.7 466.2,101.6 466.2,100.4 466.3,99.3 466.5,98.2 466.6,97.0 466.5,95.9 466.7,94.8 466.8,93.6 466.9,92.5 467.1,91.4 467.1,90.3 467.1,89.3 467.2,88.3 467.4,87.2 467.2,86.2 467.4,85.1 467.4,84.0 467.5,82.9 467.4,81.7 467.5,80.6 467.7,79.5 467.8,78.4 467.6,77.2 467.9,76.1 467.7,75.0 467.9,73.8 467.9,72.7 467.9,71.6 468.0,70.5 468.1,69.4 468.0,68.3 468.0,67.3 468.1,66.2 468.3,65.2 468.2,64.2 468.4,63.2 468.4,62.3 468.5,61.3 468.5,60.4 468.4,59.6 468.5,58.6 468.8,57.2 468.7,55.8 468.8,54.4 469.1,53.0 469.3,51.7 469.2,50.3 469.5,49.1 469.5,48.0 469.7,47.1 469.9,46.3 470.1,45.8 470.2,45.5 470.2,45.5 470.4,45.6 470.7,46.1 470.6,46.9 470.8,47.8 470.8,48.9 470.9,50.1 471.2,51.3 471.3,52.7 471.4,54.1 471.5,55.5 471.7,56.9 471.9,58.2 471.8,59.3 471.9,60.2 472.1,61.2 472.2,62.2 472.0,63.2 472.0,64.2 472.3,65.2 472.2,66.3 472.2,67.4 472.2,68.4 472.3,69.5 472.5,70.6 472.5,71.7 472.5,72.8 472.6,73.9 472.5,75.1 472.7,76.2 472.6,77.3 472.7,78.4 472.7,79.5 472.8,80.5 472.9,81.6 472.8,82.7 472.8,83.7 473.0,84.8 473.1,86.0 473.0,87.2 473.0,88.3 473.3,89.5 473.3,90.7 473.3,92.0 473.2,93.2 473.2,94.4 473.3,95.5 473.3,96.7 473.4,97.8 473.6,98.9 473.5,99.9 473.6,100.9 473.9,101.9 473.9,102.8 473.8,103.6 474.0,104.3 474.2,105.0 474.4,105.9 474.7,107.4 475.1,108.5 475.5,108.5 475.6,108.1 476.0,107.5 476.0,106.5 476.1,105.3 476.1,103.9 476.3,102.5 476.3,101.1 476.5,99.8 476.5,98.6 476.9,97.5 477.0,96.2 477.0,94.9 477.1,93.4 477.4,92.0 477.4,90.7 477.5,89.4 477.5,88.3 477.6,87.3 477.6,86.6 477.7,86.2 477.8,86.3 477.9,86.5 478.1,86.9 478.3,87.6 478.4,88.4 478.4,89.5 478.6,90.6 478.5,91.9 478.6,93.2 478.8,94.6 478.6,96.1 478.8,97.5 478.9,98.9 478.9,100.2 479.0,101.4 479.0,102.5 479.0,103.6 479.0,104.6 479.3,105.7 479.2,106.7 479.3,107.8 479.2,108.9 479.3,110.0 479.5,111.1 479.5,112.1 479.6,113.2 479.6,114.3 479.7,115.4 479.7,116.5 479.7,117.5 479.7,118.6 479.7,119.6 479.7,120.7 479.9,121.7 479.8,122.9 480.0,124.0 480.0,125.1 480.1,126.3 480.1,127.4 480.1,128.5 480.0,129.6 480.3,130.7 480.3,131.8 480.2,132.8 480.3,133.8 480.4,134.8 480.5,135.8 480.6,136.7 480.7,137.8 480.9,138.9 480.8,140.1 481.3,141.1 481.4,142.1 481.7,143.1 482.0,144.0 482.1,145.0 482.6,146.0 482.9,147.1 483.3,148.1 483.8,149.1 484.3,150.1 485.0,150.8 485.7,151.6 486.4,152.4 487.4,153.0 488.1,153.9 488.9,154.6 489.9,155.1 490.9,155.5 491.9,156.0 492.7,156.8 493.5,157.5 494.7,157.5 495.7,157.9 496.6,158.7 497.4,159.3 498.6,159.5 499.5,160.0 500.4,160.7 501.4,161.0 502.3,161.7 503.4,161.9 504.4,162.3 505.4,162.6 506.3,163.2 507.5,163.2 508.5,163.6 509.5,164.0 510.2,164.9 511.4,164.9 512.1,165.9 513.0,166.4 514.0,166.9 514.9,167.5 515.6,167.7" fill="none" stroke="#a07818" stroke-width="1.6" stroke-linejoin="round" stroke-linecap="round"/>
<polyline points="520.0,218.4 520.7,217.5 521.2,216.6 522.1,215.9 522.4,214.8 523.3,214.1 523.6,213.0 523.9,211.9 524.5,211.0 524.8,209.9 525.7,209.0 526.8,208.4 527.4,207.3 528.4,207.0 529.1,208.1 530.3,208.7 531.3,209.1 531.3,208.1 531.9,207.1 532.0,205.8 532.0,204.5 532.7,203.5 533.4,202.7 534.1,201.6 535.2,201.3 536.3,201.7 536.6,203.2 537.4,204.2 538.1,204.9 538.6,205.9 539.1,206.9 540.1,207.5 540.8,208.5 540.8,209.7 541.8,210.6 542.3,211.6 542.6,212.6 543.3,213.5 544.3,214.0 545.0,214.7 545.9,215.1 547.2,215.1 547.7,213.8 548.9,213.1 549.1,212.2 549.4,211.3 549.6,210.3 550.0,209.2 550.3,208.1 550.6,207.0 550.4,205.7 550.4,204.6 550.5,203.5 550.8,202.2 551.0,200.9 551.2,199.5 551.4,198.2 551.8,197.1 551.7,196.1 552.1,195.5 552.5,194.8 553.6,195.4 554.5,196.3 554.9,195.2 555.7,194.1 556.2,193.0 557.2,193.1 557.8,194.3 558.0,195.8 558.5,196.9 559.2,197.4 559.5,196.7 559.3,195.7 559.6,194.7 559.9,193.4 559.9,192.0 560.0,190.7 560.5,189.6 560.5,188.4 560.6,187.1 561.2,185.8 561.0,184.4 561.3,183.3 561.6,182.6 561.8,182.4 561.8,182.6 562.0,183.3 562.0,184.3 562.1,185.6 562.3,187.1 562.3,188.7 562.2,190.3 562.7,191.7 562.6,193.1 562.8,194.1 563.0,194.8 563.1,195.3 563.4,194.6 563.7,193.2 563.9,191.7 564.3,190.5 564.5,190.3 565.3,190.9 565.7,192.3 565.9,193.8 566.2,195.0 567.1,195.3 567.2,194.2 568.0,193.2 568.8,192.0 569.0,190.8 570.1,189.9 571.3,190.1 571.8,190.9 572.4,191.8 573.3,192.7 573.5,193.8 574.2,194.6 574.6,195.6 575.0,196.7 575.4,197.8 576.2,198.9 576.7,200.2 577.8,200.7 578.3,200.9 578.5,200.7 578.8,200.3 578.9,199.6 579.0,198.8 579.5,197.8 579.7,196.7 579.7,195.4 579.9,194.1 580.0,192.8 579.9,191.4 579.9,190.0 580.2,188.6 580.4,187.4 580.4,186.2 580.5,185.1 580.6,184.0 580.8,183.0 580.8,181.9 581.3,180.8 581.2,179.6 581.3,178.5 581.4,177.4 581.5,176.3 581.7,175.2 581.9,174.1 582.0,173.0 581.9,172.0 582.3,171.0 582.5,170.0 582.6,169.1 582.3,168.0 582.7,166.9 583.4,166.0 583.5,164.9 583.4,163.9 583.9,163.0 584.2,162.0 584.5,160.9 584.4,159.7 584.6,158.8 584.5,157.8 584.9,156.7 584.7,155.6 584.8,154.4 584.7,153.2 584.8,152.0 584.9,150.8 585.3,149.6 585.3,148.4 585.2,147.3 585.3,146.2 585.6,145.2 585.8,144.2 585.8,143.4 586.0,142.7 586.3,141.8 586.4,140.7 587.2,140.1 587.7,139.1 587.6,138.3 587.6,137.4 588.2,136.6 588.2,135.6 588.0,134.5 588.2,133.4 588.2,132.3 588.4,131.1 588.7,129.9 588.3,128.7 588.6,127.5 588.7,126.4 588.7,125.2 588.8,124.1 589.1,123.1 589.0,121.9 589.2,120.7 589.0,119.4 589.2,118.0 589.4,116.6 589.4,115.2 589.6,113.9 589.9,112.7 589.9,111.6 590.2,110.7 589.9,109.9 590.2,109.4 590.1,108.7 590.8,109.1 590.7,110.0 590.9,111.1 591.3,112.5 591.9,113.8 591.6,115.2 592.1,116.1 592.2,117.1 592.4,118.0 592.8,119.0 592.6,120.1 592.9,121.2 593.5,122.3 593.4,123.3 593.7,124.2 593.6,125.2 594.1,126.2 594.2,127.2 593.9,128.4 594.4,129.4 594.8,130.5 594.5,131.6 595.1,132.7 595.3,133.8 595.2,134.9 595.4,136.0 595.8,137.0 595.6,138.1 596.0,139.1 596.0,140.1 596.5,141.0 596.3,142.1 596.4,143.1 596.6,144.0 596.8,145.0 597.2,146.0 597.5,147.0 597.7,148.1 597.6,149.3 597.9,150.4 598.0,151.6 598.2,152.4 598.2,153.3 597.9,154.3 598.2,155.3 598.3,156.4 598.1,157.5 598.2,158.6 598.5,159.7 598.5,160.9 598.4,162.1 598.4,163.3 598.6,164.5 598.4,165.7 598.6,167.0 598.5,168.2 598.5,169.5 598.4,170.7 598.5,171.9 598.5,173.1 598.8,174.3 598.9,175.4 598.7,176.6 598.9,177.7 598.9,178.8 598.8,179.8 599.1,180.8 599.1,181.7 599.2,182.6 599.5,183.4 599.5,184.2 599.7,185.0 600.0,185.6 600.1,186.7 600.8,187.7 601.4,188.5 601.9,189.4 602.5,190.1 603.0,191.0 603.4,192.0 604.0,193.0 604.8,193.8 605.5,194.6 606.1,195.6 606.4,196.7 606.8,197.8 607.1,199.0 607.8,200.3 607.6,201.6 608.3,202.4 608.4,203.1 609.2,203.3 610.2,202.6 611.1,201.7 612.3,201.4 613.0,201.5 613.7,202.0 614.6,202.8 615.6,203.7 616.9,203.5 617.9,203.0 618.9,202.3 620.1,202.0 621.2,201.7 622.2,201.4 623.5,201.8 624.4,200.9 625.6,201.0 626.7,200.7 628.0,201.0 628.9,200.1 629.4,199.1 630.2,198.2 631.1,197.4 631.8,197.1 632.7,196.9 633.9,196.3 635.1,196.8 635.7,195.7 636.6,194.9 636.8,194.5" fill="none" stroke="#c85f18" stroke-width="1.6" stroke-linejoin="round" stroke-linecap="round"/>
<polyline points="519.9,188.0 519.8,186.9 520.0,185.9 520.4,184.9 520.4,183.9 520.8,182.9 521.0,181.9 521.1,180.9 521.4,179.9 521.3,178.8 521.4,177.7 521.7,176.6 521.7,175.5 522.1,174.4 521.9,173.4 522.2,172.5 522.2,171.5 522.2,170.5 522.3,169.6 522.6,168.7 522.5,167.7 523.0,166.7 522.8,165.7 523.0,164.7 523.1,163.7 522.9,162.6 523.0,161.6 523.3,160.5 523.4,159.4 523.5,158.3 523.3,157.2 523.6,156.0 523.6,154.8 523.6,153.6 523.6,152.4 523.8,151.4 523.8,150.6 524.2,149.7 523.9,148.7 523.9,147.8 524.0,146.8 523.9,145.9 524.4,144.9 524.5,143.9 524.5,142.9 524.5,141.8 524.3,140.8 524.6,139.7 524.7,138.7 524.5,137.6 524.4,136.5 524.8,135.4 524.8,134.3 524.7,133.1 524.4,132.0 524.6,130.9 524.7,129.8 525.1,128.7 524.8,127.5 524.9,126.4 524.8,125.2 525.2,124.1 524.7,123.0 524.8,121.8 525.0,120.7 525.1,119.6 525.1,118.5 525.1,117.4 525.0,116.3 525.3,115.2 525.5,114.1 525.4,113.0 525.2,112.0 525.4,110.9 525.8,109.9 525.7,108.9 525.9,107.9 525.8,106.9 525.5,105.9 525.7,104.9 525.6,104.0 525.7,102.8 525.6,101.6 525.7,100.4 526.0,99.3 525.9,98.1 525.8,96.9 526.2,95.7 526.5,94.6 526.4,93.4 526.3,92.2 526.3,91.1 526.4,90.0 526.5,88.8 526.8,87.7 526.9,86.7 526.6,85.6 526.6,84.5 526.6,83.4 526.7,82.4 526.8,81.4 527.1,80.5 527.2,79.5 527.2,78.6 527.2,77.6 527.1,76.7 527.4,75.9 527.4,75.1 527.5,74.3 527.5,73.1 527.4,71.6 527.4,70.1 527.7,68.7 527.9,67.4 528.0,66.2 528.1,65.2 528.3,64.5 528.4,64.0 528.9,63.9 528.6,64.5 528.8,65.2 529.0,66.3 529.3,67.6 529.0,69.0 529.4,70.3 529.5,71.6 529.5,72.7 529.8,73.9 529.6,75.2 529.7,76.5 529.9,77.9 530.3,79.1 530.3,80.3 530.7,81.2 530.6,81.9 530.7,82.4 531.5,82.3 532.4,81.3 533.3,80.4 533.2,79.0 534.4,78.5 535.3,77.8 535.4,79.2 535.4,80.5 536.0,81.3 536.3,82.4 536.0,83.5 536.5,84.6 536.4,85.7 536.5,86.7 537.1,87.8 536.9,88.9 536.9,90.1 537.5,91.0 537.3,92.0 537.9,92.9 537.9,93.9 538.0,95.1 538.3,96.3 538.1,97.2 538.2,98.0 538.2,99.0 538.3,100.0 538.5,101.0 538.7,102.1 538.6,103.2 538.9,104.4 538.7,105.5 539.0,106.6 538.8,107.8 538.7,109.0 539.1,110.1 539.3,111.2 539.4,112.2 539.2,113.3 539.0,114.4 539.5,115.5 539.6,116.6 539.4,117.7 539.7,118.7 539.5,119.8 539.6,120.9 540.1,121.9 540.1,122.9 539.9,124.0 540.4,125.0 540.1,126.0 540.0,127.0 540.6,128.0 540.6,129.1 540.4,130.2 541.0,131.2 540.6,132.3 541.1,133.2 541.0,134.3 541.3,135.3 541.4,136.3 541.2,137.4 541.6,138.5 541.4,139.6 541.6,140.6 541.7,141.6 541.8,142.7 541.7,143.8 542.1,145.0 542.1,146.1 541.9,147.3 541.5,148.5 541.7,149.7 541.9,150.8 541.8,151.9 542.2,153.0 542.2,154.0 542.2,155.0 542.4,155.9 542.1,156.8 542.4,157.6 543.1,158.7 543.7,159.6 543.8,160.8 544.9,161.3 545.5,162.1 546.2,163.1 546.3,164.4 546.8,165.6 547.2,166.9 547.8,168.0 547.9,168.9 548.1,169.3 548.1,169.0 548.4,168.9 548.6,168.4 549.1,167.7 549.2,166.7 549.5,165.7 549.2,164.4 549.7,163.2 549.8,161.8 550.0,160.4 550.0,159.0 550.4,157.7 550.7,156.4 550.7,155.3 550.5,154.3 550.8,153.3 550.9,152.3 550.7,151.2 550.9,150.0 551.2,148.8 551.3,147.6 551.2,146.4 551.1,145.2 551.1,143.9 551.2,142.7 551.6,141.4 551.5,140.2 551.3,139.0 551.5,137.9 551.7,136.7 551.7,135.7 551.7,134.6 552.0,133.7 551.6,132.7 551.6,131.8 552.3,131.2 552.2,130.5 552.1,129.8 552.7,128.4 553.5,127.5 554.3,127.0 555.1,127.5 556.1,128.3 557.3,129.3 558.2,128.3 558.4,127.0 558.4,125.5 559.1,124.5 560.0,123.8 560.5,125.4 561.7,125.9 563.1,126.0 563.9,124.8 564.1,124.1 564.5,123.2 564.7,121.9 565.0,120.5 565.2,119.1 565.6,117.7 565.9,116.6 566.4,115.8 566.3,115.4 566.3,115.9 567.2,117.0 568.1,116.4 568.1,115.3 568.5,113.9 569.1,112.5 569.3,111.3 569.3,111.2 570.3,111.7 570.9,110.9 571.5,110.0 571.8,108.6 572.6,107.5 572.8,106.3 573.7,107.4 574.7,107.8 575.6,107.9 576.6,107.3 577.7,106.7 578.9,106.5 579.4,106.6 580.5,107.1 581.0,108.3 581.4,109.5 581.9,110.4 582.1,111.5 582.7,112.6 583.0,113.7 583.2,114.7 583.7,115.5 584.6,116.4 585.5,117.1 585.5,115.9 585.7,114.9 586.5,113.9 586.7,112.5 587.1,111.3 587.8,110.4 587.8,109.2 588.4,108.1 588.8,107.1 589.0,106.0 589.2,105.0 589.9,104.3 590.5,103.2 591.1,103.4 592.2,103.8 592.1,105.3 592.9,106.3 593.9,106.8 594.7,107.8 595.3,108.1 595.6,108.8 595.6,109.7 595.8,110.7 596.0,111.8 596.2,113.0 596.6,114.2 596.6,115.5 596.5,116.8 596.8,118.1 596.9,119.3 597.5,120.2 597.4,121.3 597.8,122.3 598.3,123.3 597.9,124.5 598.3,125.5 598.4,126.6 598.7,127.7 599.1,128.8 599.0,129.9 599.3,130.9 599.5,132.0 599.8,133.0 600.1,134.0 600.3,135.1 600.5,136.2 600.5,137.3 601.0,138.4 601.0,139.5 601.5,140.6 601.6,141.6 602.2,142.6 602.0,143.7 602.6,144.6 602.9,145.6 602.9,146.6 603.4,147.6 604.3,148.4 604.7,149.4 604.8,150.6 605.5,151.4 605.5,152.6 606.4,153.3 606.8,154.3 607.1,155.4 607.3,156.5 608.1,157.4 608.5,158.4 609.1,159.3 609.5,160.4 610.7,161.1 611.1,162.3 612.1,163.1 612.9,163.9 613.3,164.9 614.0,165.1 615.1,165.7 616.2,165.0 617.0,164.0 618.0,163.3 618.8,162.4 619.7,161.4 620.5,161.2 621.5,161.0 622.3,162.1 622.8,163.3 623.6,164.0 624.5,164.2 625.0,162.9 626.2,162.4 626.9,162.5 627.5,162.6 628.2,163.4 628.4,164.9 628.7,166.2 629.4,167.2 630.3,167.5 630.9,166.9 632.0,166.2 632.2,164.5 633.3,163.8 634.6,163.7 635.7,163.8 636.8,164.1" fill="none" stroke="#080808" stroke-width="1.6" stroke-linejoin="round" stroke-linecap="round"/>
<polyline points="519.9,215.2 519.6,214.1 519.7,213.1 519.8,212.0 520.1,211.0 520.4,210.0 520.5,208.9 520.2,207.9 520.4,206.8 520.5,205.8 520.5,204.7 520.5,203.7 520.8,202.7 520.7,201.6 520.8,200.5 521.4,199.5 521.2,198.4 521.3,197.3 521.6,196.3 521.5,195.1 521.5,194.1 521.7,193.1 521.7,192.0 521.8,191.0 522.2,190.0 522.1,189.0 522.3,187.9 522.1,186.9 522.4,185.8 522.7,184.8 522.4,183.7 522.9,182.7 522.5,181.6 522.6,180.5 523.0,179.5 523.1,178.4 523.0,177.3 523.7,176.3 523.0,175.1 523.6,174.1 523.8,173.1 523.5,172.0 523.8,170.9 523.6,169.8 523.7,168.8 523.8,167.7 524.2,166.7 524.2,165.6 524.4,164.5 524.6,163.4 524.8,162.3 524.8,161.2 524.7,160.1 524.6,158.9 525.2,157.9 525.0,156.7 525.2,155.6 525.6,154.6 525.6,153.5 525.5,152.4 525.5,151.3 526.0,150.3 526.1,149.3 526.2,148.3 526.3,147.3 526.1,146.3 526.5,145.3 526.5,144.4 526.5,143.5 526.3,142.4 526.4,141.2 526.5,140.1 526.8,139.1 526.9,138.0 527.1,137.0 527.2,136.1 527.3,135.1 527.5,134.1 527.2,133.0 527.4,132.0 527.5,131.0 527.3,129.9 527.4,128.8 527.6,127.7 527.4,126.5 527.6,125.3 527.6,124.0 527.5,122.7 527.7,121.5 527.9,120.2 527.6,119.0 527.6,117.9 527.7,116.8 528.0,115.9 528.0,115.0 528.0,114.2 528.3,113.6 528.3,112.7 529.1,112.0 529.0,112.5 529.6,113.0 529.6,113.9 529.6,115.1 529.6,116.4 530.0,117.8 530.1,119.2 530.1,120.5 530.4,121.6 530.2,122.7 530.4,124.1 530.9,125.5 531.0,126.7 531.2,127.6 531.3,127.4 531.4,127.4 532.1,126.2 532.1,124.5 533.0,123.3 533.1,122.4 533.3,122.5 533.6,123.3 533.7,124.7 533.5,126.3 533.8,127.8 533.8,129.2 534.2,130.0 534.4,130.3 534.4,129.9 534.4,129.1 534.7,128.2 534.4,127.0 534.5,125.7 534.8,124.3 534.7,122.9 535.0,121.5 535.3,120.3 535.6,119.2 535.4,118.0 536.0,116.7 536.0,115.3 535.8,114.1 536.2,113.4 536.7,113.2 536.8,113.6 536.9,114.2 536.7,115.1 537.1,116.2 537.1,117.4 537.6,118.8 537.5,120.2 537.5,121.6 537.6,122.9 537.5,124.2 537.9,125.2 537.5,126.3 537.6,127.3 537.6,128.3 538.1,129.3 538.2,130.3 538.2,131.4 538.1,132.5 538.1,133.5 538.0,134.6 538.5,135.7 538.4,136.8 538.7,137.9 538.9,139.0 538.8,140.1 539.0,141.1 539.1,142.1 538.8,143.2 539.0,144.2 539.3,145.3 539.5,146.3 539.5,147.4 540.0,148.4 539.9,149.5 540.0,150.6 540.2,151.7 540.4,152.8 540.5,153.8 541.0,154.9 541.0,156.0 541.3,157.0 541.4,158.1 541.7,159.1 541.5,160.2 541.7,161.3 542.2,162.3 542.2,163.4 542.3,164.5 542.9,165.5 542.5,166.6 542.7,167.7 543.1,168.7 543.2,169.8 543.1,170.9 543.2,172.0 543.4,173.0 543.9,174.0 543.8,175.1 543.9,176.1 544.2,177.0 544.6,178.0 544.2,179.0 544.7,180.1 544.8,181.2 545.5,182.3 545.3,183.6 545.5,184.8 545.7,185.9 546.1,187.0 546.4,188.1 546.4,189.2 546.9,190.1 547.3,191.0 547.4,191.8 547.4,192.7 547.4,193.7 547.8,195.1 548.8,195.9 549.1,196.1 548.9,195.6 549.5,195.2 549.3,194.3 549.8,193.3 549.9,192.0 550.0,190.7 549.9,189.3 550.1,187.9 550.6,186.5 550.7,185.2 550.7,184.3 550.9,183.5 551.1,182.5 550.8,181.5 550.9,180.5 551.0,179.5 551.4,178.5 551.4,177.4 551.5,176.3 551.2,175.2 551.5,174.1 551.6,172.9 551.5,171.8 551.7,170.7 552.0,169.5 552.2,168.4 552.0,167.2 552.2,166.1 552.4,165.0 552.1,163.9 552.1,162.9 552.5,161.8 552.3,160.8 552.5,159.8 552.4,158.7 552.7,157.5 552.8,156.2 553.0,154.9 553.0,153.5 552.8,152.1 553.1,150.8 552.8,149.4 552.9,148.1 553.1,146.9 553.2,145.8 553.6,144.8 553.8,143.9 554.1,143.1 553.7,142.3 554.1,141.9 554.4,141.6 554.6,142.3 555.9,142.6 556.6,143.6 557.0,144.6 557.2,145.7 557.6,146.9 558.4,147.7 559.3,148.4 559.5,149.6 560.4,150.4 561.0,151.3 561.3,152.6 562.4,153.4 563.3,153.9 564.0,154.3 564.7,153.8 565.2,152.7 566.4,151.8 566.7,150.7 566.7,149.5 566.9,148.4 567.3,147.3 567.4,146.1 568.4,145.6 569.5,145.2 569.6,143.8 570.0,143.0 570.6,142.0 570.7,140.8 571.3,139.8 571.5,138.6 572.7,138.1 573.6,137.3 574.2,136.3 574.9,135.6 575.8,135.0 576.8,134.4 576.4,133.2 576.9,132.3 577.3,131.3 577.5,130.1 578.1,129.1 578.1,127.9 578.3,126.8 578.6,125.8 579.0,124.8 579.1,123.8 579.1,122.7 579.3,121.7 580.0,120.7 579.9,119.6 579.8,118.5 580.2,117.2 580.1,115.8 580.4,114.5 580.4,113.2 581.0,112.1 581.0,111.2 581.2,110.7 582.0,110.1 582.2,111.2 582.4,112.4 582.4,113.9 583.1,115.0 583.4,116.3 583.4,117.8 583.5,119.0 584.0,119.9 584.5,119.5 584.6,118.9 585.3,118.1 585.3,116.9 585.5,115.5 585.6,114.0 585.6,112.5 586.0,111.6 585.9,110.7 586.3,109.8 586.3,108.7 586.4,107.6 586.3,106.4 586.4,105.1 586.3,103.7 586.2,102.4 586.7,101.0 586.5,99.5 586.6,98.1 586.4,96.7 586.5,95.2 586.7,93.8 586.9,92.5 586.7,91.2 587.1,89.9 587.0,88.8 587.1,87.7 586.8,86.7 587.1,85.8 587.0,85.0 587.5,84.4 587.6,83.9 587.4,83.5 587.7,83.4 587.6,83.2 587.8,83.8 588.4,84.9 588.0,86.4 588.5,88.0 588.8,89.4 588.6,90.6 589.3,91.0 589.5,91.2 589.6,90.6 589.5,89.7 589.8,88.6 590.0,87.2 589.8,85.7 590.0,84.1 590.4,82.6 590.3,81.1 590.5,79.8 590.3,78.7 590.2,77.9 590.9,77.8 590.9,77.6 590.8,78.2 591.2,79.0 590.9,80.1 591.1,81.3 591.4,82.7 591.5,84.1 591.5,85.5 591.4,86.9 591.8,88.0 592.2,89.1 592.0,90.3 591.9,91.4 592.1,92.6 592.0,93.7 592.6,94.8 592.8,95.8 592.4,96.8 592.8,97.6 593.2,98.8 594.1,99.6 594.1,100.8 594.6,101.7 595.1,102.6 595.3,103.7 595.5,104.8 595.3,106.1 595.8,107.2 596.1,108.2 596.1,109.2 596.7,110.1 596.3,111.3 596.8,112.3 597.1,113.4 596.7,114.6 597.3,115.6 597.5,116.8 597.4,117.8 597.9,118.8 598.0,119.8 598.1,120.8 598.1,121.8 598.3,122.9 598.2,123.9 598.0,125.0 598.3,126.1 598.4,127.2 599.0,128.3 599.0,129.5 598.9,130.5 599.0,131.4 599.3,132.4 599.3,133.5 599.6,134.6 599.5,135.7 599.6,136.8 599.7,137.9 599.7,139.0 599.7,140.1 599.9,141.2 600.0,142.3 600.1,143.4 600.6,144.4 600.5,145.5 600.6,146.5 600.8,147.5 600.9,148.4 601.4,149.3 601.4,150.5 601.8,151.6 601.9,152.7 602.3,153.7 602.8,154.7 602.4,155.9 603.0,156.8 603.6,157.7 604.2,158.5 604.4,159.4 604.7,160.5 605.2,161.5 605.6,162.6 605.9,163.6 606.3,164.6 607.3,165.2 607.8,166.1 607.7,167.5 608.5,168.3 609.3,169.1 610.5,169.5 610.9,170.7 611.6,171.6 611.7,172.9 612.5,174.0 612.4,175.3 613.2,176.1 613.7,176.8 614.3,177.5 615.2,176.8 616.2,176.4 617.1,175.5 618.2,174.9 618.8,174.1 619.7,173.1 619.6,171.6 620.2,170.8 620.3,169.9 620.6,169.3 620.5,168.4 620.9,167.4 621.8,168.4 622.4,168.7 622.8,169.3 623.1,170.1 623.4,171.0 624.1,171.6 624.0,172.7 625.1,172.0 625.5,173.5 626.3,173.0 626.6,171.6 627.5,171.5 628.8,173.2 629.2,172.0 630.2,171.4 631.1,171.7 631.3,173.3 632.1,173.7 632.6,172.8 632.3,172.1 633.0,171.9 633.1,171.3 633.9,170.8 633.4,169.8 633.9,169.0 633.8,168.0 634.6,167.2 634.4,166.1 634.2,165.1 635.0,164.2 635.1,163.3 635.3,162.4 634.6,161.4 635.3,160.8 635.3,160.1 635.8,159.6 635.1,159.0 634.9,158.4 635.7,158.6 635.4,159.2 636.2,158.9 635.6,159.4 636.1,159.7 636.1,160.2 636.0,160.8 636.0,161.4 636.1,162.1 636.9,162.8 636.8,163.6 636.2,164.5 636.5,165.3 636.7,166.2 636.8,167.2 636.7,168.1 637.1,169.0 636.4,170.0 636.4,170.9 636.5,171.8 636.6,172.7 636.5,173.5 637.1,174.2 636.3,175.0" fill="none" stroke="#1a821a" stroke-width="1.6" stroke-linejoin="round" stroke-linecap="round"/>
<polyline points="520.4,173.6 520.4,172.7 520.4,171.7 521.6,171.2 521.1,170.1 521.5,170.7 522.3,170.9 522.3,171.9 522.3,173.0 523.1,173.7 522.8,174.6 523.2,174.3 523.5,174.1 523.9,173.7 523.2,172.9 523.9,172.3 524.3,171.5 524.8,170.6 524.4,169.6 524.3,168.7 524.3,167.9 525.3,167.3 524.5,166.4 525.0,165.8 524.8,165.0 525.4,164.4 526.2,163.9 526.2,163.2 525.6,162.2 526.8,161.7 526.6,160.8 527.0,160.3 526.1,159.5 527.1,158.9 527.1,158.1 527.6,157.4 526.6,156.5 527.0,155.7 526.9,154.9 526.9,154.1 528.1,153.4 527.2,152.5 527.9,151.8 527.7,151.0 527.4,150.3 528.2,149.7 527.6,149.0 527.2,148.4 527.6,147.9 527.6,147.0 527.6,146.3 528.6,145.8 528.9,145.0 528.7,144.5 529.3,143.9 529.2,143.3 528.2,142.6 528.9,141.9 528.3,141.2 529.2,140.5 528.4,139.7 529.6,139.0 528.9,138.2 529.7,137.4 528.7,136.6 528.7,135.9 529.0,135.1 529.5,134.5 528.9,133.7 529.7,133.0 529.9,132.3 529.2,131.5 529.6,130.8 529.3,130.0 529.3,129.3 529.9,128.6 530.5,128.0 530.0,127.2 529.7,126.5 530.8,126.0 530.8,125.3 530.3,124.6 530.9,123.9 531.0,123.2 530.8,122.4 531.2,121.8 530.7,121.0 530.8,120.3 531.1,119.6 531.9,119.0 531.7,118.2 531.3,117.5 531.3,116.7 531.9,116.0 531.2,115.2 531.7,114.4 531.9,113.7 531.9,113.0 532.1,112.3 531.3,111.5 531.2,110.8 531.7,110.1 532.5,109.5 533.0,108.9 532.8,108.1 533.1,107.6 533.6,106.8 534.1,106.2 534.2,105.7 534.3,106.2 534.9,106.7 535.0,107.5 534.3,108.4 534.8,109.3 534.7,110.3 534.9,111.2 534.9,112.1 534.6,112.8 534.5,113.6 534.7,114.4 535.1,115.3 535.2,116.2 535.6,117.1 535.0,118.1 534.7,119.0 534.8,119.8 535.6,120.5 535.6,121.1 535.2,121.7 535.0,122.1 535.3,122.3 535.5,122.2 536.0,121.7 536.2,120.7 536.7,119.8 537.0,119.3 536.8,118.5 537.1,119.0 536.4,119.5 537.2,119.9 536.5,120.6 537.3,121.3 536.7,122.1 537.4,122.9 537.2,123.9 537.1,124.8 537.4,125.7 537.7,126.6 536.9,127.6 537.7,128.4 537.4,129.2 537.4,129.9 537.6,130.6 538.2,131.3 537.9,132.1 537.4,133.0 538.0,133.6 538.4,134.2 539.1,134.7 539.4,135.4 538.6,136.3 539.0,137.0 540.2,137.4 540.1,138.2 539.4,139.2 540.1,139.8 540.4,140.4 541.1,141.0 541.1,141.8 540.1,142.6 539.8,143.2 540.0,143.9 540.5,144.6 540.5,145.3 541.3,145.9 541.7,146.4 540.7,147.4 541.4,147.9 541.2,148.7 542.2,149.1 542.8,149.7 542.0,150.8 542.9,151.3 542.9,152.0 542.8,152.9 544.2,153.0 544.1,153.8 543.2,155.1 543.7,155.7 545.1,155.8 544.2,157.1 544.7,157.6 545.9,157.8 546.5,158.3 546.0,159.3 547.1,159.7 547.4,160.4 547.6,161.3 547.4,162.3 547.3,163.3 548.0,164.1 548.0,164.9 547.5,165.9 547.8,166.5 548.2,167.0 548.2,167.5 548.6,167.7 548.9,167.4 548.9,167.0 548.6,166.4 549.1,165.9 549.4,165.2 549.7,164.4 549.7,163.5 550.0,162.6 550.0,161.7 550.0,160.7 550.1,159.8 550.5,159.2 551.0,158.6 551.1,157.9 551.1,157.0 551.1,156.2 551.3,155.3 551.5,154.4 551.2,153.5 551.5,152.6 552.0,151.7 551.5,150.7 551.8,149.8 551.8,148.9 551.7,148.0 552.2,147.3 552.7,146.6 552.6,145.9 552.5,145.2 552.7,144.7 552.5,144.1 553.4,144.1 553.0,143.4 553.6,143.4 553.8,143.9 554.2,144.4 554.5,145.2 554.7,146.2 555.5,146.9 555.1,148.0 556.2,148.1 556.6,148.8 557.3,149.2 557.5,150.1 557.7,150.9 558.4,151.7 558.1,152.7 558.3,153.6 559.1,153.8 558.9,153.8 558.8,154.1 558.9,153.8 559.0,153.3 559.4,152.6 559.8,151.8 559.4,150.9 559.7,149.9 559.2,148.8 559.4,147.7 559.4,146.7 559.8,145.7 559.7,144.8 560.2,144.0 560.0,143.3 560.3,142.8 560.4,142.4 560.3,142.0 560.4,142.6 561.3,142.8 561.7,143.7 561.3,144.9 562.0,145.5 562.7,146.0 562.1,146.9 562.7,147.5 562.5,148.4 563.0,149.1 562.8,149.9 563.1,150.6 563.1,151.4 563.5,152.0 564.2,152.5 564.5,153.2 564.7,153.9 565.0,154.5 565.3,155.1 565.7,155.7 566.1,156.3 566.2,157.2 567.2,157.4 567.8,157.8 567.6,159.0 568.6,159.3 568.9,160.2 569.1,161.1 569.5,161.8 570.1,161.7 570.5,161.7 570.9,161.1 571.0,160.2 570.9,159.2 571.6,158.3 571.5,157.3 571.9,156.6 572.4,156.2 572.2,156.4 572.7,156.1 573.4,156.7 573.0,157.9 573.7,158.5 574.2,158.5 574.9,158.7 575.7,159.0 576.7,158.0 577.1,159.6 577.9,160.1 578.8,159.9 579.4,159.1 579.9,158.6 579.9,158.2 580.1,157.7 580.6,157.3 581.0,156.7 580.9,156.0 581.1,155.3 581.2,154.5 580.8,153.6 580.9,152.8 581.1,152.0 581.4,151.2 581.4,150.3 581.0,149.5 581.4,148.7 581.3,148.0 581.7,147.3 581.5,146.6 582.0,145.9 581.7,145.1 581.4,144.3 581.8,143.6 581.6,142.8 581.9,142.0 581.7,141.2 581.9,140.4 581.9,139.6 582.0,138.8 582.0,138.1 582.0,137.3 582.7,136.7 582.7,136.0 582.2,135.3 582.5,134.7 582.9,134.2 582.6,133.6 582.7,133.1 583.3,132.4 583.4,131.7 583.9,131.2 584.1,130.5 584.8,130.0 584.4,129.2 585.1,128.7 585.3,128.0 585.1,127.1 585.4,126.4 585.9,125.7 585.4,124.8 585.5,124.0 586.1,123.4 585.7,122.6 585.5,121.7 586.0,121.1 586.2,120.4 586.7,119.8 587.1,119.2 586.9,118.3 587.4,117.7 587.4,117.0 587.8,116.3 588.1,115.7 588.5,115.1 588.3,114.2 588.9,113.6 589.0,112.9 589.3,112.2 589.2,111.5 589.9,110.8 589.8,110.1 590.3,109.4 590.0,108.6 590.8,108.1 591.1,107.4 591.2,106.6 590.8,105.7 591.4,105.2 591.1,104.3 591.7,103.8 592.2,103.2 592.6,102.6 593.0,102.0 592.6,101.0 592.7,100.2 593.6,99.8 593.3,98.9 594.0,98.1 594.2,97.1 594.4,96.2 594.3,95.4 594.6,94.9 595.0,95.3 594.9,95.0 595.4,95.1 595.7,95.5 595.4,96.2 595.4,96.9 595.4,97.7 595.7,98.6 595.6,99.5 595.9,100.4 596.5,101.3 596.3,102.2 596.2,103.1 596.4,103.7 597.0,104.2 597.1,104.8 597.0,105.4 596.5,106.1 597.0,106.7 597.1,107.4 596.8,108.1 597.1,108.8 597.4,109.5 597.2,110.2 597.3,110.9 597.6,111.6 597.7,112.4 598.0,113.1 597.5,113.9 597.7,114.6 597.5,115.4 597.8,116.1 597.8,116.9 598.0,117.6 598.4,118.3 598.0,119.1 598.4,119.8 598.2,120.6 598.5,121.3 598.6,122.0 598.7,122.7 598.4,123.4 599.1,124.1 598.6,124.8 598.8,125.5 599.2,126.2 598.8,126.9 599.2,127.6 599.7,128.2 599.8,128.9 599.5,129.6 599.4,130.3 599.9,130.9 600.0,131.6 600.0,132.3 599.7,133.1 600.0,133.7 600.5,134.4 599.9,135.1 599.9,135.9 599.6,136.6 600.8,137.2 600.5,137.9 601.6,138.5 601.5,139.2 600.8,140.0 600.4,140.8 601.4,141.4 600.7,142.2 600.4,142.9 601.4,143.5 601.2,144.2 601.4,144.9 601.5,145.6 601.6,146.3 601.2,147.1 601.1,147.8 601.8,148.5 600.7,149.3 601.6,150.0 602.6,150.6 601.1,151.5 602.1,152.2 601.3,153.0 602.0,153.6 601.3,154.4 602.6,155.1 602.8,155.8 602.7,156.5 601.9,157.3 602.7,157.9 602.2,158.7 602.9,159.3 602.8,160.0 602.2,160.8 602.2,161.5 603.1,162.1 603.4,162.7 603.7,163.3 603.6,164.0 603.5,164.6 603.4,165.4 603.8,166.1 604.0,166.9 603.3,167.8 604.0,168.5 603.3,169.4 604.9,169.9 604.7,170.7 603.8,171.7 604.6,172.2 604.3,173.1 604.6,173.7 605.4,174.3 604.8,175.2 604.9,175.8 606.2,176.2 605.4,177.1 605.9,177.6 606.2,178.1 605.8,178.9 607.2,179.0 606.6,180.1 606.3,181.1 606.8,181.8 608.2,181.7 607.9,182.7 608.2,183.3 609.4,183.4 608.4,184.8 610.1,184.6 611.0,185.0 611.1,186.0 610.8,187.1 611.7,187.7 612.4,188.3 612.8,188.8 612.7,189.5 612.8,190.0 613.0,189.8 613.2,189.5 613.2,188.8 613.2,187.8 615.1,187.8 614.9,186.6 615.5,186.0 615.9,184.9 616.9,186.8 617.4,186.8 618.5,185.3 618.8,186.9 619.8,186.5 621.2,185.6 621.0,187.5 620.9,188.8 622.4,188.5 622.4,189.9 623.4,191.0 624.3,189.5 624.3,188.6 624.4,187.9 625.3,187.3 625.7,186.5 625.5,185.4 625.7,184.4 625.1,183.2 626.8,182.9 625.4,181.5 627.2,182.0 627.1,180.3 628.1,181.1 626.7,182.4 627.8,182.7 627.2,183.7 628.1,184.6 628.2,185.6 628.8,186.6 628.6,187.6 629.0,188.5 628.9,189.3 629.6,189.6 628.9,190.4 630.0,190.9 628.9,189.5 630.1,189.2 629.4,188.1 630.6,187.3 630.1,186.2 630.1,185.1 631.4,184.7 631.2,184.0 631.2,184.7 631.8,183.9 631.2,185.0 632.9,185.4 633.0,186.5 632.4,187.7 632.5,188.9 633.6,187.9 634.0,187.8 633.6,187.0 634.9,186.9 634.9,186.0 634.2,185.0 634.3,184.1 634.8,183.2 634.7,182.2 635.7,181.5 635.5,180.9 635.4,180.3 636.0,179.8 635.5,179.2 636.1,178.6 635.8,177.9 636.4,177.3 635.8,176.6 635.8,175.9 636.4,175.2 637.0,174.5 636.9,173.8 636.7,173.0 636.0,172.2 636.1,171.5 636.2,170.7 635.7,169.9 636.3,169.1 636.9,168.4 635.9,167.6 635.9,166.8 635.8,166.0 637.1,165.3 636.8,164.6 636.7,163.8 636.0,163.0 637.0,162.4 636.5,162.0" fill="none" stroke="#1a28f5" stroke-width="1.6" stroke-linejoin="round" stroke-linecap="round"/>
<polyline points="519.9,180.0 520.1,179.0 519.8,177.9 520.0,176.9 520.2,175.9 520.3,174.8 520.2,173.8 520.5,172.8 520.6,171.8 520.9,170.8 521.2,169.7 521.1,168.6 521.3,167.6 521.1,166.4 521.1,165.3 521.5,164.3 521.4,163.3 521.9,162.4 522.1,161.5 521.9,160.5 522.4,159.5 522.6,158.6 522.4,157.6 522.7,156.6 522.6,155.5 522.9,154.5 523.1,153.5 523.0,152.4 523.2,151.3 523.1,150.2 523.5,149.1 523.8,147.9 524.0,146.7 524.1,145.4 524.3,144.5 524.0,143.6 524.3,142.7 524.5,141.8 523.9,140.9 524.4,140.0 524.4,139.0 524.3,138.0 524.6,137.0 524.8,136.0 524.5,135.0 524.6,133.9 524.5,132.9 524.8,131.8 525.1,130.7 524.9,129.6 524.8,128.5 525.1,127.4 525.2,126.3 525.4,125.2 524.9,124.0 525.2,122.9 525.3,121.7 525.0,120.6 525.3,119.4 525.5,118.3 525.4,117.1 525.4,116.0 525.2,114.8 525.5,113.7 525.6,112.6 525.6,111.5 525.5,110.3 525.5,109.2 525.8,108.1 525.9,107.0 525.6,105.9 525.7,104.9 525.8,103.8 525.7,102.8 526.1,101.8 525.8,100.7 525.8,99.7 526.4,98.8 526.0,97.8 526.3,96.9 526.0,96.0 526.2,94.8 526.5,93.6 526.3,92.4 526.5,91.1 526.5,89.9 526.4,88.7 526.6,87.5 526.9,86.4 526.8,85.2 526.6,84.0 527.0,82.9 526.7,81.8 526.7,80.6 526.8,79.6 527.1,78.5 527.4,77.5 527.6,76.4 527.1,75.4 527.1,74.4 527.4,73.5 527.4,72.6 527.4,71.7 527.6,70.9 527.5,70.0 527.6,69.3 527.6,68.3 528.1,66.9 528.3,65.4 528.2,64.0 528.6,62.9 528.6,62.0 528.8,61.5 528.4,61.6 528.9,61.8 529.3,62.7 528.8,64.0 529.2,65.4 529.5,66.8 529.6,68.1 529.9,69.2 530.2,70.5 529.8,72.0 530.1,73.2 530.3,74.1 530.8,73.8 531.7,73.1 532.0,72.1 532.4,71.2 532.3,70.1 532.5,68.9 532.8,67.7 532.7,66.4 532.9,65.3 533.6,64.2 533.3,62.6 533.5,61.2 533.6,60.2 533.7,60.2 533.8,60.4 533.9,61.7 534.2,63.2 534.5,64.5 534.6,65.2 534.5,64.5 534.8,63.4 535.1,61.9 535.6,60.4 535.8,59.1 535.9,58.5 535.8,58.4 535.7,59.1 536.0,60.1 536.4,61.4 536.1,62.8 536.2,64.2 536.5,65.3 536.2,66.3 536.4,67.3 537.0,68.3 537.1,69.4 537.2,70.4 537.5,71.5 537.5,72.6 537.1,73.7 537.5,74.8 538.1,75.8 538.0,76.8 538.2,77.8 537.7,78.9 538.2,79.9 538.5,81.0 538.2,82.1 538.5,83.1 538.6,84.2 538.9,85.3 538.7,86.4 538.7,87.4 539.0,88.4 538.8,89.5 538.8,90.5 539.0,91.5 539.3,92.6 539.5,93.7 539.3,94.8 539.4,95.8 539.3,96.9 539.8,98.0 539.8,99.1 539.8,100.2 539.9,101.3 540.1,102.3 539.8,103.4 540.0,104.5 540.2,105.6 540.4,106.6 540.8,107.7 540.4,108.9 540.9,109.9 540.7,111.0 541.0,112.1 541.5,113.1 541.2,114.2 541.5,115.3 541.9,116.3 541.6,117.3 542.5,118.2 542.3,119.3 542.3,120.4 542.2,121.6 542.8,122.6 542.8,123.7 542.7,124.8 543.1,125.8 543.2,126.8 543.2,127.9 543.3,128.9 543.9,129.8 543.8,131.0 544.3,132.0 544.6,133.0 544.7,134.1 544.9,135.1 545.2,136.2 545.3,137.2 545.4,138.3 545.5,139.3 545.7,140.4 546.0,141.4 545.8,142.5 546.0,143.6 546.4,144.7 546.4,145.7 546.3,146.7 546.5,147.7 547.0,148.9 547.3,150.4 547.2,151.8 547.7,152.9 548.0,153.8 548.8,154.0 548.7,153.3 548.8,152.8 549.3,152.1 549.4,151.2 549.3,150.1 549.7,148.9 549.9,147.6 549.8,146.2 549.9,144.8 550.3,143.4 550.0,142.0 550.6,140.7 550.6,139.5 551.0,138.6 550.7,137.6 551.1,136.7 550.7,135.6 550.7,134.6 550.9,133.6 551.2,132.5 551.4,131.4 551.2,130.3 551.2,129.2 551.1,128.0 551.4,126.9 551.0,125.8 551.1,124.6 551.3,123.5 551.2,122.4 551.5,121.3 551.2,120.2 551.7,119.1 551.5,118.0 551.6,117.0 551.6,115.9 551.8,114.9 551.9,113.9 551.9,112.9 551.7,111.7 551.8,110.5 551.9,109.4 551.9,108.2 551.8,107.1 552.0,105.9 552.1,104.8 552.5,103.7 552.3,102.6 552.3,101.6 552.4,100.6 552.4,99.6 552.6,98.6 552.9,97.7 552.9,96.9 553.1,95.9 552.9,94.6 553.4,93.6 553.9,92.6 554.0,91.6 553.9,90.6 554.2,89.7 554.5,88.5 555.1,87.5 556.2,86.9 556.7,85.8 556.7,84.2 557.3,83.3 557.9,83.2 558.0,84.3 558.2,85.7 559.4,86.6 559.0,87.6 559.5,88.6 559.6,89.7 559.6,90.9 559.8,92.1 559.9,93.3 560.3,94.4 560.7,95.3 560.9,96.3 561.3,97.4 561.0,98.6 561.6,99.4 562.1,100.4 562.2,101.5 562.9,102.5 562.5,103.7 563.0,104.9 562.7,106.1 563.4,107.1 563.3,108.1 563.7,108.9 564.7,109.8 565.4,110.9 565.8,109.9 566.2,108.9 566.5,107.6 566.8,106.2 567.0,105.1 567.6,104.3 568.1,103.2 568.9,102.6 569.4,101.7 569.5,100.6 570.0,99.5 570.7,98.5 570.3,97.2 571.1,96.3 571.2,94.9 571.5,93.7 572.9,93.3 573.0,92.1 574.1,93.1 575.2,92.6 575.9,91.9 577.2,91.5 577.7,90.2 578.5,89.4 579.2,88.6 579.4,87.4 579.8,86.4 580.5,85.6 580.7,84.4 580.9,83.0 581.6,82.0 582.3,80.9 583.2,82.2 583.8,83.1 584.3,82.9 584.3,82.0 584.6,80.9 585.2,79.7 585.3,78.2 585.6,76.8 585.5,76.0 585.8,75.1 585.5,74.1 585.9,73.1 586.0,72.0 586.0,70.8 585.9,69.6 585.9,68.4 586.2,67.2 585.9,65.9 585.8,64.7 586.1,63.5 586.6,62.3 586.4,61.1 586.7,60.1 586.9,59.1 586.7,58.1 586.5,57.2 586.8,56.4 586.8,55.5 587.3,54.3 588.2,53.6 588.3,52.6 588.8,51.6 589.1,50.4 589.4,49.1 590.1,48.3 590.6,47.7 590.9,48.8 591.3,50.0 592.0,51.1 592.0,52.4 592.3,53.7 592.9,54.8 593.4,55.4 594.0,54.4 594.4,53.0 595.1,52.9 595.3,53.4 595.5,54.3 595.8,55.5 595.8,56.9 595.6,58.3 595.7,59.5 595.8,60.4 595.9,61.3 596.1,62.3 596.4,63.3 596.5,64.3 596.7,65.4 596.8,66.5 596.8,67.6 596.9,68.7 597.1,69.9 596.9,71.0 597.4,72.1 597.4,73.2 597.7,74.2 597.3,75.3 597.3,76.3 597.6,77.4 598.2,78.3 598.1,79.4 598.3,80.5 598.3,81.5 598.1,82.6 598.1,83.7 598.3,84.7 598.8,85.8 598.8,86.9 598.6,88.0 598.9,89.0 598.7,90.1 598.7,91.2 599.3,92.2 599.2,93.3 599.6,94.3 599.3,95.4 599.2,96.4 599.3,97.5 599.5,98.5 599.7,99.6 599.5,100.7 600.0,101.7 600.2,102.8 599.8,103.8 599.9,104.9 600.2,105.9 600.1,107.0 600.3,108.0 600.7,109.0 600.6,110.1 600.7,111.1 600.5,112.3 600.7,113.4 600.9,114.5 600.9,115.7 601.0,116.9 601.1,118.0 601.1,119.2 601.3,120.3 601.4,121.4 601.5,122.4 601.3,123.5 601.5,124.4 601.7,125.4 602.0,126.2 602.1,127.0 602.0,128.3 602.8,129.2 603.2,130.2 604.3,130.8 604.3,131.9 605.8,132.1 604.7,133.6 605.0,134.3 606.0,134.7 607.0,134.9 607.1,135.6 607.6,135.6 608.2,135.4 609.0,135.6 609.5,136.4 610.3,136.2 610.8,136.7 610.5,137.5 610.9,138.3 610.4,139.2 610.5,140.0 609.9,141.0 610.9,141.7 610.3,142.6 610.4,143.4 610.9,144.1 611.0,145.0 611.5,145.8 611.0,146.8 611.5,147.5 612.6,147.9 611.9,148.9 612.4,149.4 613.2,149.9 613.8,149.0 614.5,148.7 615.3,148.3 616.3,148.1 615.9,146.4 616.8,146.2 617.3,145.7 617.8,145.0 618.5,144.6 619.6,145.3 620.1,145.2 620.7,145.8 621.6,145.4 622.5,145.5 623.1,144.8 623.8,144.3 624.4,143.8 625.4,143.7 625.6,143.2 625.8,143.3 626.2,142.9 626.7,143.4 626.9,144.3 627.4,145.1 628.3,145.7 628.3,146.6 629.1,146.4 629.0,146.0 629.7,146.3 630.3,145.7 630.4,144.7 631.0,143.8 631.8,143.1 631.7,142.1 632.6,142.1 632.5,140.9 633.0,141.4 632.8,142.4 633.3,143.1 633.8,144.1 634.0,145.1 633.4,146.2 633.7,147.0 634.6,146.6 635.0,146.8 634.6,146.0 635.3,145.7 634.8,144.8 635.8,144.2 635.8,143.2 636.5,142.4 636.6,141.5 636.9,140.7 636.9,140.3" fill="none" stroke="#a07818" stroke-width="1.6" stroke-linejoin="round" stroke-linecap="round"/>
<line x1="608.80" y1="6.20" x2="632.10" y2="6.20" stroke="#1a28f5" stroke-width="1.4"/>
<text x="635.30" y="10.00" class="lg">INV_13_2</text>
<line x1="608.80" y1="19.65" x2="632.10" y2="19.65" stroke="#080808" stroke-width="1.4"/>
<text x="635.30" y="23.45" class="lg">INV_13_3</text>
<line x1="608.80" y1="33.10" x2="632.10" y2="33.10" stroke="#a07818" stroke-width="1.4"/>
<text x="635.30" y="36.90" class="lg">INV_13_5</text>
<line x1="608.80" y1="46.55" x2="632.10" y2="46.55" stroke="#1a821a" stroke-width="1.4"/>
<text x="635.30" y="50.35" class="lg">INV_13_8</text>
<line x1="608.80" y1="60.00" x2="632.10" y2="60.00" stroke="#d4804a" stroke-width="1.4"/>
<text x="635.30" y="63.80" class="lg">INV_13_9</text>
<polyline points="48.6,452.5 48.8,451.8 48.2,451.0 47.9,450.2 47.9,449.5 49.1,448.7 48.1,447.8 49.1,447.0 48.6,446.2 47.8,445.4 48.4,444.5 49.4,443.8 48.7,442.9 49.6,442.2 48.7,441.4 48.3,440.6 48.9,439.9 48.9,439.2 48.3,438.5 48.9,437.9 49.0,437.3 49.3,436.8 49.9,436.4 49.6,435.9 49.0,435.5 49.6,434.5 49.4,433.5 50.4,433.1 49.8,434.0 49.7,434.6 49.7,435.4 50.0,436.3 50.4,437.3 49.4,438.4 49.8,439.3 49.8,440.2 51.3,440.6 50.5,441.3 51.5,441.1 50.4,441.3 50.4,441.1 51.9,441.0 51.4,440.5 51.2,439.9 50.8,439.3 51.5,438.6 51.6,437.9 51.8,437.1 51.7,436.2 52.1,435.3 51.5,434.4 50.8,433.5 51.3,432.6 51.1,431.6 51.7,430.7 51.4,429.7 51.2,428.8 51.9,428.0 52.2,427.1 52.1,426.3 52.4,425.6 51.5,424.9 51.1,424.2 51.8,423.6 51.4,422.7 51.7,421.9 52.8,421.4 52.2,420.6 52.4,419.9 51.9,419.1 53.2,418.7 53.2,418.0 52.7,417.2 52.9,416.3 53.6,415.5 54.0,414.6 53.3,413.6 54.5,413.0 54.1,412.2 54.7,411.8 54.6,411.6 54.9,411.2 55.3,412.1 56.1,412.5 55.6,411.4 56.7,412.4 56.9,411.7 57.2,410.9 56.2,409.7 56.8,408.9 58.1,408.5 57.6,407.5 59.3,407.5 60.0,407.1 59.5,406.1 58.9,405.0 59.6,404.5 61.1,404.7 60.5,403.0 61.1,402.1 61.6,401.1 62.2,400.2 62.5,399.2 63.1,398.3 63.5,397.3 64.2,396.4 64.0,395.1 64.6,394.2 64.7,393.1 65.4,392.2 65.3,391.0 65.7,390.0 65.6,388.8 66.1,387.8 66.2,386.8 66.3,385.7 66.6,384.6 66.7,383.4 66.6,382.3 67.1,381.3 67.3,380.2 67.4,379.2 67.7,377.9 67.9,376.5 67.9,375.1 68.5,374.0 68.9,373.3 69.0,373.0 69.8,373.4 70.2,374.8 70.7,374.9 71.3,373.8 72.5,373.7 73.4,374.7 74.1,373.9 74.7,372.7 75.2,371.6 75.7,371.9 76.3,373.0 77.0,374.1 78.3,374.4 79.0,375.4 79.7,376.2 80.8,376.3 81.9,376.7 82.2,377.6 83.4,378.1 83.2,379.5 84.0,380.5 84.3,381.5 84.7,382.4 85.1,383.4 85.3,384.5 86.2,385.3 86.9,386.3 87.0,387.3 87.2,388.4 87.6,389.4 88.3,390.3 88.9,391.2 88.9,392.4 89.2,393.5 89.7,394.4 90.1,395.5 90.5,396.4 90.9,397.4 91.6,398.3 92.0,399.3 92.1,400.4 92.5,401.4 93.6,402.1 93.6,403.3 94.0,404.3 94.3,405.3 95.1,406.2 95.0,407.4 96.0,408.2 96.0,409.3 96.2,410.4 97.2,411.2 97.2,412.4 98.1,413.2 98.0,414.4 99.0,415.1 99.1,416.2 99.9,417.0 100.4,418.0 101.1,418.9 101.9,419.7 102.3,420.6 103.3,421.2 103.8,422.2 104.3,423.2 105.3,423.8 105.7,424.8 106.4,425.7 107.3,426.4 108.2,427.2 108.7,428.2 109.0,429.4 109.9,430.2 110.4,431.2 111.5,431.4 112.4,432.4 113.6,432.6 114.5,431.9 115.3,431.3 116.0,430.3 116.5,429.4 117.1,428.4 117.3,427.3 117.5,426.2 118.4,425.4 119.1,424.5 120.1,424.1 120.7,422.9 122.0,423.7 122.8,423.5 123.6,423.9 124.5,424.6 125.1,425.6 126.3,426.0 126.4,427.2 126.7,428.3 127.2,429.3 127.9,430.1 128.2,431.2 128.8,432.1 129.2,433.1 129.6,434.2 130.5,435.0 131.3,435.8 132.0,436.7 133.2,436.8 134.0,437.5 134.9,437.9 135.9,438.4 137.0,438.8 137.9,439.2 138.5,440.3 139.6,440.4 140.8,440.6 141.9,440.9 142.7,441.7 143.9,441.8 144.6,442.8 145.5,443.4 146.8,443.1 147.6,443.8 148.4,444.6 149.4,444.9 150.6,445.0 151.5,445.5 152.3,446.4 153.6,446.2 154.7,446.3 155.5,447.3 156.5,447.7 157.4,448.3 158.6,447.8 159.5,448.6 160.5,449.0 161.4,449.5 162.7,449.0 163.8,449.1 164.6,450.2 165.0,450.1" fill="none" stroke="#1a28f5" stroke-width="1.6" stroke-linejoin="round" stroke-linecap="round"/>
<polyline points="47.9,480.8 47.7,480.0 48.1,479.3 48.9,478.7 48.2,477.9 48.3,477.2 49.1,476.5 49.1,475.8 49.1,475.1 49.2,474.4 48.9,473.7 49.0,472.9 49.2,472.2 49.6,471.5 49.9,470.9 49.8,470.1 50.4,469.5 50.3,468.7 50.6,468.0 51.1,467.4 50.6,466.6 51.3,466.0 51.5,465.3 51.8,464.6 52.1,463.9 51.6,463.1 51.9,462.4 52.2,461.8 52.1,460.6 52.5,459.5 52.5,458.3 52.9,457.1 53.1,455.9 53.4,454.9 54.1,454.4 54.6,454.0 55.9,454.0 57.0,453.6 58.2,453.6 58.9,452.8 59.3,451.7 59.9,450.7 60.6,449.8 61.4,449.0 62.3,448.4 62.9,447.4 63.3,446.4 63.9,445.6 64.5,444.7 64.6,443.6 65.1,442.6 65.2,441.5 65.8,440.5 66.0,439.4 66.4,438.4 67.0,437.4 67.2,436.4 67.7,435.5 68.2,434.2 68.6,433.2 69.3,432.4 70.4,433.0 71.4,433.5 72.6,433.7 73.4,433.0 74.3,432.6 74.8,431.6 75.7,430.8 76.4,429.9 77.3,429.3 78.3,428.6 78.9,427.7 79.6,427.2 80.6,426.3 81.7,426.4 82.6,426.8 83.4,427.8 84.1,428.8 84.6,429.6 85.4,430.4 85.8,431.4 86.6,432.3 87.3,433.1 87.8,434.0 88.2,435.0 88.7,435.9 89.4,436.7 90.1,437.6 90.5,438.6 91.0,439.5 91.2,440.6 91.9,441.5 92.1,442.6 92.7,443.5 93.1,444.5 93.5,445.5 94.1,446.5 94.7,447.5 95.1,448.6 95.8,449.5 96.1,450.6 96.8,451.4 97.4,452.3 98.7,452.6 99.4,453.5 100.6,453.4 101.5,454.3 102.6,454.3 103.7,454.4 104.5,455.1 105.2,455.9 106.0,456.7 106.7,457.7 107.4,458.6 108.4,459.3 108.7,460.5 109.7,461.1 110.3,462.0 111.1,462.8 111.9,462.7 112.4,461.8 113.1,460.7 113.8,459.6 114.2,458.7 114.6,457.8 114.9,456.8 115.4,455.7 115.5,454.6 116.0,453.5 116.3,452.4 116.5,451.3 117.0,450.2 117.2,449.1 117.7,448.0 117.9,446.8 118.3,445.8 118.4,444.9 118.8,443.9 119.6,442.8 119.9,442.2 120.0,443.0 120.2,444.2 120.6,445.5 121.1,446.8 121.2,447.8 121.5,448.8 121.6,450.0 121.6,451.2 121.8,452.3 122.3,453.3 122.6,454.2 122.8,455.2 123.3,456.6 124.1,457.5 124.9,456.9 125.5,455.8 126.1,454.8 127.0,453.9 127.9,454.0 128.3,454.7 128.3,455.7 128.5,457.0 128.6,458.3 128.8,459.7 129.0,460.8 129.1,462.0 129.5,463.0 129.7,464.1 130.2,465.0 130.6,466.0 131.3,466.9 131.9,467.9 133.0,468.3 133.9,469.1 134.5,470.0 135.5,470.4 136.5,470.8 137.6,471.1 138.5,471.8 139.5,472.1 140.6,472.2 141.6,472.7 142.8,472.5 144.0,472.6 145.0,473.0 146.0,473.6 147.0,473.7 148.0,473.7 149.0,474.0 150.0,474.4 151.2,474.1 152.2,474.7 153.3,475.0 154.3,475.1 155.3,475.0 156.3,475.3 157.4,475.3 158.5,475.6 159.6,475.5 160.7,475.5 161.8,475.4 162.9,475.6 163.9,476.1 165.0,476.4" fill="none" stroke="#f50f0f" stroke-width="1.6" stroke-linejoin="round" stroke-linecap="round"/>
<polyline points="169.9,471.7 170.6,471.1 171.0,470.3 171.4,468.5 172.3,470.6 173.0,470.9 173.7,471.4 174.5,472.2 175.1,471.5 174.6,470.5 174.9,470.0 174.8,469.3 175.3,468.6 175.9,467.9 176.4,467.1 177.0,466.4 177.1,465.5 176.7,464.6 177.5,464.1 177.0,463.2 176.7,462.4 178.3,462.1 177.2,461.1 177.6,460.5 178.5,460.0 178.2,459.2 178.2,458.4 178.7,457.8 178.7,457.0 178.5,456.2 179.2,455.6 179.0,454.8 179.6,454.2 179.4,453.5 178.7,452.6 179.8,452.1 180.3,451.5 180.0,450.7 180.0,450.0 180.8,449.4 180.7,448.7 180.1,447.8 180.8,447.2 180.2,446.4 180.8,445.8 181.7,445.2 181.0,444.4 181.3,443.7 180.7,442.8 182.1,442.4 181.7,441.6 181.9,440.8 182.1,440.1 181.5,439.2 182.0,438.5 182.4,437.8 183.1,437.1 183.3,436.4 183.1,435.6 183.0,434.9 182.2,434.1 183.1,433.5 183.1,432.9 183.3,432.3 183.4,431.8 184.1,431.4 183.9,430.3 183.7,429.2 184.8,428.7 184.1,427.4 184.9,426.9 185.3,427.7 185.4,428.2 185.2,429.0 186.2,429.4 186.8,430.0 186.7,431.0 187.1,431.9 186.6,433.0 187.0,433.7 187.7,434.2 187.0,435.0 188.3,435.4 188.6,436.0 188.5,436.8 187.9,437.6 187.9,438.4 188.0,439.1 189.1,439.7 189.0,440.5 189.4,441.2 189.0,442.0 189.0,442.8 188.6,443.6 188.9,444.2 189.5,444.8 189.0,445.6 190.1,446.1 190.1,446.9 189.7,447.8 190.6,448.3 191.5,448.7 190.8,449.7 191.3,450.2 191.3,451.0 191.4,451.6 191.3,452.4 191.5,453.1 191.9,453.8 192.6,454.3 192.8,455.0 193.1,455.7 194.4,455.8 195.2,456.3 194.0,457.7 195.5,457.7 195.0,458.8 195.3,459.4 194.8,460.5 196.2,460.5 196.3,461.3 197.0,461.8 197.3,462.5 197.6,463.3 197.4,464.2 197.8,465.1 197.3,466.1 198.0,466.8 197.5,467.8 198.9,468.0 197.8,469.2 198.5,469.7 199.5,469.4 199.9,468.9 199.4,468.0 199.7,467.4 199.9,466.6 200.8,465.9 200.4,464.8 200.3,463.8 200.9,463.2 202.0,462.9 201.7,461.9 202.1,461.2 202.1,460.4 202.0,459.4 203.3,459.3 203.9,458.8 204.5,458.4 204.3,457.4 205.0,457.1 206.2,457.2 206.9,456.8 207.4,456.3 207.2,454.5 208.1,455.2 208.6,454.8 209.3,455.0 210.4,455.5 209.9,456.9 210.7,457.5 209.9,459.4 211.5,458.9 212.1,458.2 212.2,457.3 211.5,456.1 212.7,455.5 212.2,454.4 213.2,454.1 213.5,454.2 213.7,454.5 214.6,454.0 215.0,454.8 216.1,454.7 216.2,455.4 216.5,456.0 216.9,456.7 217.0,457.5 216.9,458.3 216.9,459.2 217.5,459.8 217.0,460.8 218.5,461.0 218.0,461.9 219.5,461.8 219.1,463.0 219.3,463.9 219.4,464.9 220.9,464.2 221.4,464.3 221.7,463.8 222.5,466.4 222.6,464.5 223.4,464.1 223.9,463.2 225.1,464.3 225.7,465.1 226.9,464.1 227.4,463.2 227.4,461.9 228.0,460.7 228.2,459.7 228.9,458.8 229.7,458.1 229.8,457.2 230.2,456.4 230.2,455.5 230.7,454.5 230.7,453.4 231.0,452.3 230.7,451.0 230.8,449.8 230.9,448.6 231.1,447.4 230.9,446.3 231.2,445.3 231.3,444.2 231.3,443.1 231.3,442.1 231.4,441.0 231.4,439.9 231.4,438.8 231.6,437.7 231.6,436.6 231.8,435.6 231.7,434.5 231.8,433.4 231.8,432.2 231.9,431.0 232.0,429.8 231.8,428.7 231.9,427.5 232.0,426.4 232.1,425.4 232.3,424.5 232.2,423.7 232.4,422.6 232.8,421.6 233.7,421.1 234.3,420.1 234.7,419.4 235.0,418.8 235.2,418.1 235.4,417.2 235.4,416.2 235.3,415.2 235.3,414.0 235.2,412.8 235.4,411.6 235.4,410.3 235.4,409.0 235.2,407.8 235.3,406.6 235.3,405.4 235.6,404.3 235.6,403.2 235.6,402.1 235.8,400.9 235.7,399.7 235.9,398.5 235.9,397.2 235.9,396.0 235.9,394.9 235.9,393.7 236.1,392.7 236.2,391.8 236.3,390.9 236.5,390.2 236.9,389.7 237.5,388.5 238.1,388.1 238.4,389.5 238.9,390.2 239.0,390.0 239.3,389.1 239.8,387.8 239.8,386.4 239.8,385.1 240.3,384.1 240.3,383.1 240.8,382.2 240.8,381.1 241.1,380.0 241.0,378.8 241.0,377.6 241.4,376.7 241.2,375.7 241.4,374.6 241.5,373.5 241.7,372.4 241.6,371.3 241.4,370.1 241.6,368.9 241.4,367.8 241.8,366.7 241.5,365.6 241.7,364.5 241.6,363.5 241.9,362.6 241.9,361.3 241.9,359.9 241.9,358.6 242.3,357.4 242.4,356.3 242.2,355.4 242.7,354.9 243.8,355.0 244.0,354.5 244.2,353.6 244.2,352.4 244.5,351.0 244.4,349.4 244.4,348.0 244.5,346.6 244.5,345.5 244.6,344.8 244.9,343.8 245.3,344.8 245.4,345.9 245.7,347.2 245.9,348.6 246.3,349.6 246.4,350.5 246.5,351.5 246.4,352.6 246.7,353.7 246.9,354.8 246.9,356.0 247.1,357.1 247.2,358.1 247.1,359.2 247.5,360.3 247.6,361.3 247.9,362.3 248.0,363.3 248.1,364.4 247.9,365.5 248.2,366.7 248.1,367.7 248.3,368.6 248.6,369.5 248.6,370.5 248.5,371.5 248.5,372.5 248.9,373.6 248.8,374.7 248.8,375.8 248.7,376.9 248.7,378.1 248.8,379.2 248.8,380.3 249.1,381.4 248.9,382.6 249.0,383.7 249.1,384.7 249.2,385.8 249.2,386.9 249.4,387.9 249.3,389.0 249.6,390.0 249.5,391.1 249.5,392.1 249.6,393.2 249.6,394.3 249.8,395.3 249.7,396.4 249.8,397.5 249.9,398.5 250.2,399.6 250.1,400.7 250.4,401.7 250.1,402.9 250.2,403.9 250.3,404.9 250.4,406.0 250.7,407.1 250.6,408.2 250.9,409.2 250.6,410.4 250.9,411.5 250.9,412.6 251.1,413.7 251.1,414.8 251.3,415.8 251.5,416.9 251.4,418.0 251.3,419.0 251.7,420.0 251.5,421.0 251.9,422.0 252.0,422.9 251.9,423.9 252.0,425.1 252.1,426.2 252.3,427.4 252.4,428.4 252.4,429.5 252.6,430.5 253.0,431.5 253.0,432.5 253.2,433.5 253.3,434.5 253.3,435.6 253.7,436.7 253.5,437.8 253.7,438.9 254.1,439.9 254.0,441.0 254.4,442.0 254.5,443.0 254.7,444.1 255.1,445.2 255.3,446.4 255.7,447.3 256.2,448.2 256.2,449.2 256.6,450.3 257.4,451.1 257.6,452.2 258.1,453.1 258.1,454.2 258.6,455.2 259.0,456.3 259.1,457.4 259.4,458.5 260.0,459.5 260.2,460.6 260.8,461.6 261.1,462.6 261.5,463.7 261.8,464.9 262.4,465.8 263.3,466.5 264.2,467.6 265.1,468.3 266.1,468.0 266.7,466.9 267.5,466.0 268.4,465.2 269.5,465.2 270.6,465.8 271.5,465.0 272.2,464.7 273.2,465.7 273.5,466.0 274.3,465.4 274.6,464.1 275.8,463.8 275.2,462.8 275.8,462.3 275.2,461.4 275.8,460.8 275.8,460.0 276.8,459.5 277.1,458.7 277.6,457.9 277.3,457.1 277.9,457.3 277.7,457.1 278.7,456.9 278.6,456.4 278.5,456.5 278.6,456.0 279.5,455.5 279.1,454.7 279.9,453.9 279.2,452.8 279.6,451.9 280.2,450.9 280.2,449.8 280.2,448.9 280.1,448.0 279.6,447.1 280.6,446.5 280.4,446.0 280.4,445.7 280.3,445.0 280.3,445.7 280.6,446.1 280.2,447.0 281.0,447.8 281.3,448.8 280.8,449.9 280.2,450.9 280.5,451.8 280.5,452.5 281.8,452.1 281.9,453.0 281.5,451.8 282.1,450.9 282.5,450.3 282.7,451.0 282.9,452.1 283.7,452.6 284.2,453.4 283.6,452.4 283.7,452.0 284.0,451.5 284.2,450.9 284.3,450.1 284.0,449.2 284.2,448.3 284.0,447.3 284.8,446.5 284.9,445.6 285.0,444.7 285.4,444.0 284.4,443.2 284.5,442.4 284.6,441.6 284.8,441.0 286.3,440.7 286.8,440.0 286.8,439.3 285.6,438.5 285.9,437.9 286.0,437.3 286.8,436.7 286.2,435.9 286.7,435.2 286.3,434.5 286.4,433.7 287.0,433.0 286.6,432.2 286.0,431.4 286.0,430.6 286.7,429.9 286.5,429.1 287.0,428.4" fill="none" stroke="#1a28f5" stroke-width="1.6" stroke-linejoin="round" stroke-linecap="round"/>
<polyline points="169.4,485.5 169.5,484.4 169.9,483.5 170.2,482.5 170.3,481.5 171.0,480.7 171.2,479.7 171.7,478.7 171.7,477.6 172.1,476.4 172.2,475.4 172.3,474.5 172.4,473.6 172.9,472.8 172.9,471.8 173.3,470.9 173.3,469.8 173.5,468.8 173.7,467.8 173.8,466.7 174.0,465.7 174.0,464.5 174.3,463.5 174.8,462.4 174.8,461.3 174.7,460.1 174.8,459.0 175.2,457.9 175.4,456.7 175.4,455.5 175.6,454.5 175.9,453.5 176.1,452.6 176.0,451.5 176.2,450.5 176.1,449.5 176.5,448.5 176.6,447.5 176.5,446.4 177.0,445.4 176.9,444.3 176.9,443.2 176.9,442.2 177.2,441.1 177.5,440.0 177.7,439.0 177.8,437.9 177.8,436.8 178.0,435.7 178.0,434.6 178.2,433.5 178.3,432.4 178.1,431.3 178.3,430.3 178.7,429.2 178.7,428.1 178.8,427.0 179.1,426.0 179.2,424.9 179.2,423.9 179.3,422.8 179.4,421.7 179.5,420.6 179.8,419.5 179.9,418.4 179.9,417.3 179.9,416.2 179.9,415.0 180.0,413.9 180.3,412.8 180.1,411.6 180.3,410.5 180.3,409.4 180.5,408.3 180.6,407.2 180.5,406.0 180.9,405.0 181.0,403.9 180.9,402.8 181.1,401.8 181.2,400.8 181.4,399.8 181.4,398.8 181.6,397.8 181.4,396.8 181.6,395.9 181.7,395.0 182.0,394.2 182.2,393.2 182.2,391.8 182.4,390.4 182.5,389.0 182.6,387.6 182.8,386.2 183.2,384.9 183.4,383.7 183.5,382.7 183.7,381.8 183.9,381.2 184.3,380.9 184.3,380.4 184.4,380.8 184.6,381.2 184.9,381.9 185.0,382.8 185.3,383.9 185.4,385.1 185.6,386.4 186.1,387.8 185.9,389.2 186.5,390.6 186.3,392.0 186.7,393.2 187.0,394.2 186.8,395.3 187.0,396.3 187.3,397.3 187.2,398.4 187.2,399.4 187.5,400.5 187.4,401.6 187.8,402.7 187.8,403.8 187.9,404.9 187.9,406.0 187.9,407.1 188.1,408.2 188.0,409.3 188.4,410.3 188.3,411.4 188.8,412.4 188.8,413.5 188.9,414.8 188.8,416.1 189.0,417.5 189.2,418.9 189.2,420.3 189.4,421.6 189.8,422.9 189.9,424.2 190.0,425.3 189.9,426.4 190.2,427.3 190.4,428.0 190.7,428.5 191.0,428.6 190.7,428.5 191.5,428.3 192.0,427.3 192.2,425.9 192.7,424.6 193.1,423.5 193.4,422.2 193.5,420.8 193.6,419.5 193.8,418.5 194.4,418.5 194.8,418.5 195.1,419.4 195.5,420.5 195.4,422.0 195.9,423.3 196.1,424.5 196.3,425.4 196.4,426.3 196.6,427.4 196.8,428.4 196.9,429.5 197.0,430.7 197.2,431.8 197.2,433.0 197.4,434.1 197.5,435.2 197.8,436.3 197.7,437.3 198.0,438.3 198.2,439.5 198.6,440.9 198.5,442.3 198.9,443.6 198.9,444.9 198.9,446.1 199.5,446.9 199.8,447.4 199.9,447.6 200.1,447.3 200.4,446.4 200.8,445.2 201.4,443.9 201.5,442.7 201.6,441.7 202.0,440.7 202.1,439.6 202.7,438.6 203.1,437.5 203.1,436.4 203.5,435.3 203.7,434.3 204.0,433.2 204.5,432.1 204.5,430.9 204.7,429.7 205.4,428.8 205.5,427.7 205.8,426.9 206.7,426.3 207.5,425.5 208.4,425.1 208.7,426.0 208.8,427.1 209.5,428.2 209.8,429.5 209.9,430.9 210.6,431.8 210.8,432.9 211.3,434.0 211.4,435.2 212.2,436.1 212.7,437.0 213.0,437.9 213.5,438.7 214.6,439.5 215.5,439.2 216.0,438.7 216.3,437.3 216.9,436.1 217.5,435.9 217.7,436.9 218.6,438.0 219.3,439.0 219.9,439.7 220.7,439.1 221.3,437.9 222.5,437.4 223.1,436.4 223.8,435.4 224.7,434.7 225.7,434.0 227.1,434.3 227.3,433.2 227.7,432.2 228.4,431.2 228.7,430.0 229.1,429.0 229.1,427.9 229.4,426.9 229.3,425.8 229.6,424.7 229.9,423.5 230.0,422.5 230.1,421.5 230.5,420.4 230.8,419.4 231.0,418.2 231.0,417.1 231.3,416.0 231.2,414.9 231.8,414.0 231.9,412.9 231.9,411.8 232.0,410.6 232.3,409.6 232.1,408.6 232.3,407.6 232.7,406.5 233.4,405.7 234.1,404.8 234.5,403.6 235.4,402.6 235.9,401.6 236.3,401.1 237.0,401.5 238.0,402.4 239.2,402.8 240.5,402.7 241.6,403.2 242.5,402.2 243.5,401.9 244.5,401.5 245.0,402.1 245.3,403.0 245.6,404.1 245.9,405.4 246.2,406.5 246.3,407.5 246.8,408.5 246.8,409.7 247.3,410.8 247.5,411.9 247.4,413.0 247.6,414.1 247.8,415.2 247.9,416.3 248.5,417.3 248.4,418.4 248.6,419.5 248.8,420.6 249.4,421.5 249.2,422.7 249.6,423.7 250.1,424.7 250.0,425.9 250.2,427.0 250.7,428.0 250.7,429.1 251.3,430.2 251.3,431.3 251.7,432.3 251.7,433.4 252.3,434.4 252.7,435.4 252.9,436.4 253.5,437.2 253.7,438.2 254.6,439.1 254.9,440.2 255.1,441.3 256.0,442.1 256.2,443.3 257.3,443.9 258.0,444.9 259.0,445.5 260.2,445.1 260.9,445.2 261.3,446.3 261.3,447.7 262.0,448.7 263.0,449.5 263.5,450.5 264.2,451.5 265.2,452.1 265.9,451.9 267.0,451.2 267.6,450.2 268.2,449.1 269.1,448.6 269.7,449.3 270.9,449.9 271.6,450.7 272.4,451.6 273.5,452.0 274.5,452.3 275.2,452.4 276.3,451.7 276.4,453.2 276.7,454.1 277.1,454.8 278.4,454.4 279.3,454.3 280.0,454.7 280.9,454.6 281.5,455.5 281.4,456.9 282.2,457.0 283.1,458.2 283.7,456.9 284.2,455.8 284.9,455.0 285.8,456.0 286.0,454.9" fill="none" stroke="#f50f0f" stroke-width="1.6" stroke-linejoin="round" stroke-linecap="round"/>
<line x1="259.60" y1="272.30" x2="282.90" y2="272.30" stroke="#1a28f5" stroke-width="1.4"/>
<text x="286.10" y="276.10" class="lg">INV_15_2</text>
<line x1="259.60" y1="285.90" x2="282.90" y2="285.90" stroke="#f50f0f" stroke-width="1.4"/>
<text x="286.10" y="289.70" class="lg">INV_15_4</text>
<polyline points="398.0,438.8 398.9,438.1 398.8,437.2 398.1,436.3 399.1,435.5 398.8,434.5 398.6,433.6 398.1,432.6 399.5,431.7 399.1,430.8 398.8,430.0 399.9,429.2 399.7,428.5 398.3,427.7 399.0,427.3 399.7,426.9 400.2,426.8 399.7,426.5 400.2,426.2 398.9,427.0 400.7,427.3 399.3,428.3 399.0,429.3 400.7,430.2 399.4,431.5 400.5,432.4 400.9,433.2 399.9,434.2 400.6,434.6 399.7,436.4 401.6,434.9 400.6,434.3 400.8,434.0 400.6,433.5 400.5,432.9 400.9,432.2 400.6,431.5 400.5,430.6 400.4,429.7 401.0,428.8 400.6,427.8 400.6,426.9 401.4,425.9 401.0,425.0 400.9,424.1 401.7,423.2 400.4,422.3 401.4,421.6 401.7,421.0 401.6,420.4 401.0,419.5 402.9,419.3 402.5,418.5 403.3,418.2 403.6,417.5 403.0,416.3 403.4,415.7 405.3,416.4 404.7,414.9 405.2,414.4 406.4,414.2 404.9,412.6 405.3,412.1 406.1,411.6 407.9,411.7 406.7,410.3 407.2,409.7 407.4,409.0 407.1,408.1 408.1,407.8 408.1,406.9 409.6,407.0 408.6,405.5 409.6,405.3 410.7,405.3 412.0,405.5 412.5,405.0 412.4,403.9 411.7,402.2 412.2,401.6 412.7,401.1 413.7,401.1 413.9,400.1 414.6,399.6 415.2,399.1 416.7,400.1 416.9,399.1 417.7,398.8 417.9,397.8 419.1,398.5 419.4,398.1 420.1,397.8 420.5,398.5 420.6,399.3 421.4,399.8 421.8,400.6 422.1,401.2 422.9,401.4 423.4,401.9 424.0,402.4 424.5,403.0 424.6,404.0 425.7,404.0 426.3,404.3 426.2,405.5 426.7,406.2 427.9,405.8 428.2,406.6 429.3,406.4 428.9,408.2 430.4,408.0 431.0,409.0 432.1,409.3 432.5,410.4 433.2,411.2 434.1,411.8 435.0,412.4 435.9,413.0 436.3,414.1 437.4,414.5 437.9,415.5 438.6,416.3 439.1,417.3 439.9,418.0 440.9,418.4 441.8,418.9 442.3,420.1 443.6,420.3 444.2,421.3 445.0,421.9 445.7,422.8 446.5,423.5 447.5,423.9 448.6,424.2 449.4,424.9 450.4,425.2 451.6,425.4 452.2,426.6 453.2,426.8 454.5,426.9 455.3,427.9 456.5,428.0 457.7,427.6 458.6,427.9 459.5,428.4 460.6,428.0 461.5,427.6 462.6,427.4 462.6,426.4 463.1,425.6 463.4,424.5 463.4,423.3 463.5,422.1 463.5,420.9 463.7,419.8 464.0,418.7 464.0,417.3 464.1,415.9 464.0,414.5 464.6,413.2 464.6,412.1 464.7,411.3 464.8,410.9 465.2,411.0 465.4,412.0 465.9,413.2 466.1,414.6 466.0,415.9 467.1,416.6 467.4,416.9 467.5,416.5 467.8,415.7 468.1,414.5 467.8,413.2 468.4,411.8 468.3,410.4 468.8,409.2 468.6,408.1 469.4,407.5 470.5,406.8 471.5,407.1 472.7,407.2 473.6,407.7 474.2,406.9 475.4,406.1 476.0,405.6 476.1,406.4 477.0,407.1 477.0,408.4 477.6,409.6 478.0,410.8 477.9,411.8 478.4,412.8 478.2,413.9 478.3,415.0 478.6,416.1 478.8,417.3 478.8,418.5 478.9,419.6 479.0,420.7 479.3,421.7 479.1,422.8 479.9,423.8 479.9,424.9 480.4,425.9 480.7,426.9 481.6,427.6 482.1,428.4 482.9,429.0 483.3,430.2 484.5,430.4 485.2,431.4 486.2,431.8 487.2,432.1 488.2,432.4 488.9,433.3 490.0,433.6 491.0,433.9 492.0,434.4 492.8,435.1 493.8,435.6 494.8,435.7 496.0,435.6 496.9,436.4 497.8,437.1 498.7,437.6 499.8,437.8 500.8,437.9 501.8,438.6 503.0,438.2 503.9,439.1 505.0,439.4 506.1,439.4 507.1,439.7 508.3,439.1 509.1,440.3 510.3,440.4 511.3,441.0 512.5,440.4 513.6,440.4 514.7,440.5 514.9,441.3" fill="none" stroke="#f5a81e" stroke-width="1.6" stroke-linejoin="round" stroke-linecap="round"/>
<polyline points="398.2,466.7 398.3,466.0 399.0,465.4 399.2,464.7 398.9,463.9 399.5,463.4 399.5,462.6 400.5,462.1 400.8,461.4 400.6,460.7 400.4,460.0 400.5,459.3 401.2,458.8 401.6,458.1 401.4,457.4 401.8,456.7 401.4,455.9 401.7,455.2 402.2,454.5 402.1,453.3 402.5,452.4 402.6,451.4 402.9,450.4 403.1,449.4 403.4,448.3 403.7,447.3 404.0,446.3 404.3,445.2 404.6,444.1 404.7,443.0 405.1,442.0 405.3,440.9 405.5,439.9 405.7,438.9 405.9,437.8 406.0,436.8 406.4,435.7 406.6,434.7 407.0,433.7 407.2,432.6 407.4,431.5 407.7,430.5 407.7,429.4 407.9,428.4 408.3,427.4 408.4,426.4 408.7,425.3 409.0,424.2 409.3,423.1 409.4,422.0 409.7,420.9 409.9,419.8 410.3,418.8 410.5,417.8 410.7,416.7 411.0,415.8 411.4,414.9 411.6,414.0 412.2,412.9 412.6,411.6 412.9,410.5 413.6,409.5 413.9,408.5 414.5,408.0 415.5,407.3 416.7,407.3 417.5,407.8 418.6,408.2 419.3,409.1 420.0,410.0 420.5,410.7 421.1,411.5 421.5,412.5 421.8,413.6 422.3,414.6 422.9,415.6 423.4,416.7 423.7,417.8 424.3,418.7 424.7,419.7 425.1,420.7 425.5,421.7 425.9,422.8 426.3,423.8 426.6,424.9 427.1,425.9 427.6,426.8 427.8,427.9 428.2,428.9 428.8,429.8 429.0,430.9 429.6,431.8 430.3,432.7 430.7,433.6 431.1,434.6 431.6,435.5 432.2,436.4 432.7,437.4 433.1,438.3 433.3,439.4 433.8,440.3 434.2,441.3 434.7,442.2 435.2,443.2 435.6,444.1 436.0,445.1 436.5,446.1 436.7,447.1 437.2,448.1 437.6,449.0 438.1,450.0 438.4,451.0 438.9,452.0 439.3,452.9 439.9,453.8 440.2,454.8 440.8,455.7 441.1,456.8 441.7,457.8 442.2,458.8 442.7,459.8 443.5,460.6 444.0,461.5 444.6,462.3 445.3,463.1 446.0,463.9 446.9,464.6 447.8,465.1 448.8,465.8 449.7,466.4 450.8,466.4 451.8,467.0 453.0,467.2 454.0,467.5 455.1,467.7 456.2,468.2 457.0,469.1 457.9,469.7 458.8,470.0 459.9,469.9 460.9,469.2 461.3,468.5 461.6,468.0 461.9,467.4 462.1,466.7 462.2,465.8 462.4,464.9 462.4,463.9 462.4,462.8 462.7,461.7 462.6,460.6 462.6,459.4 462.9,458.1 462.8,456.9 462.9,455.6 463.0,454.3 463.0,453.1 463.1,451.8 463.1,450.6 463.1,449.4 463.2,448.2 463.3,447.1 463.4,446.0 463.5,444.9 463.6,443.7 463.6,442.4 463.6,441.1 463.7,439.7 463.8,438.4 463.8,437.0 463.9,435.6 463.9,434.2 464.0,432.8 464.1,431.5 464.2,430.2 464.3,429.0 464.2,427.8 464.3,426.7 464.5,425.7 464.6,424.9 464.6,424.1 464.8,423.4 464.8,422.9 464.8,422.6 464.9,422.4 464.9,422.4 465.1,422.6 465.1,423.2 465.4,424.0 465.4,425.1 465.7,426.3 465.8,427.7 465.9,429.1 466.0,430.5 466.1,431.9 466.2,433.2 466.4,434.3 466.4,435.5 466.7,436.8 466.7,438.2 466.8,439.6 466.8,441.0 467.0,442.3 467.1,443.4 467.2,444.2 467.2,444.8 467.4,445.1 467.6,444.9 467.6,444.3 467.6,443.6 467.9,442.6 467.9,441.4 468.0,440.1 468.0,438.7 468.2,437.3 468.3,435.9 468.3,434.6 468.4,433.3 468.6,432.2 468.6,431.1 468.6,429.8 468.7,428.6 468.7,427.3 468.7,426.1 468.8,424.9 468.9,423.8 468.9,422.8 469.3,422.1 469.4,421.4 470.1,420.6 471.4,420.6 472.2,419.9 472.5,418.8 473.1,417.8 473.8,416.8 474.1,415.7 474.4,414.5 474.7,413.2 474.9,411.9 475.1,410.6 475.4,409.6 475.6,408.9 475.7,408.9 476.1,409.1 476.3,409.8 476.5,410.7 476.6,411.8 476.9,413.1 477.0,414.5 477.2,415.9 477.3,417.2 477.5,418.4 477.4,419.2 477.6,420.1 477.7,421.1 477.8,422.1 477.7,423.1 477.9,424.1 477.9,425.2 478.0,426.3 478.0,427.4 478.1,428.5 478.3,429.7 478.3,430.8 478.3,431.9 478.3,433.1 478.4,434.2 478.5,435.3 478.4,436.4 478.6,437.5 478.7,438.5 478.7,439.6 478.8,440.6 478.9,441.7 479.0,442.8 479.0,444.0 479.1,445.1 479.2,446.3 479.1,447.5 479.2,448.6 479.3,449.7 479.4,450.8 479.5,451.9 479.5,452.9 479.7,453.9 479.7,454.9 480.0,455.8 480.1,456.7 480.3,457.5 480.7,458.7 481.0,459.8 481.2,460.8 481.7,461.7 482.2,462.6 482.7,463.4 483.3,464.3 484.0,465.2 484.8,465.9 485.5,466.8 486.5,467.3 487.4,467.9 488.3,468.4 489.2,468.9 490.1,469.5 491.2,469.6 492.1,470.3 493.2,470.4 494.3,470.8 495.2,471.3 496.2,471.3 497.1,471.9 498.2,472.3 499.2,472.4 500.2,472.8 501.2,473.2 502.3,473.5 503.4,473.6 504.4,473.6 505.4,474.0 506.4,474.5 507.4,474.7 508.5,474.9 509.5,475.3 510.5,475.5 511.5,475.6 512.6,475.7 513.6,476.1 514.7,476.0 515.0,476.2" fill="none" stroke="#1a821a" stroke-width="1.6" stroke-linejoin="round" stroke-linecap="round"/>
<polyline points="519.3,457.6 519.9,458.1 522.0,456.7 521.3,459.4 519.9,455.1 524.0,459.0 522.5,457.2 523.8,456.8 522.2,455.2 526.0,455.9 525.5,454.8 524.0,453.6 527.6,453.8 523.3,451.7 522.6,450.6 522.4,449.4 527.4,451.5 528.3,451.3 525.0,447.5 526.2,447.2 527.0,445.8 528.3,447.5 526.5,449.7 529.6,449.0 526.8,451.3 528.0,451.7 527.5,453.1 528.0,454.4 530.6,453.9 530.1,452.3 534.0,453.1 534.7,452.2 533.1,450.7 533.0,449.7 534.8,449.7 532.9,448.5 533.0,448.2 530.6,452.6 534.7,447.5 532.8,446.0 538.8,451.2 537.2,448.7 537.0,445.4 539.1,445.7 537.2,448.6 538.3,448.8 538.6,449.6 541.4,447.7 539.9,450.5 540.5,453.8 540.9,454.8 543.0,449.4 544.2,450.1 541.9,452.0 544.7,451.9 543.3,453.4 543.5,454.7 543.2,456.2 543.4,457.7 543.3,459.1 543.3,460.4 543.4,461.5 543.1,462.3 543.4,462.7 543.5,462.6 543.6,462.2 543.7,461.4 543.3,460.4 543.6,459.2 543.8,457.9 544.0,456.5 543.7,455.0 543.6,453.6 544.3,452.4 544.4,451.2 544.4,450.3 544.6,449.1 544.8,448.1 545.2,447.1 545.3,445.9 545.8,445.0 546.2,444.1 546.7,443.1 546.8,441.9 546.8,440.8 547.2,439.7 547.4,438.7 547.7,437.7 547.7,436.7 548.2,435.8 548.3,434.8 548.9,433.8 548.7,432.6 549.3,431.5 549.4,430.5 549.4,429.6 549.7,428.7 549.8,427.8 550.0,426.8 550.0,425.8 549.9,424.7 550.1,423.6 550.2,422.5 550.5,421.4 550.4,420.3 550.9,419.2 550.8,418.0 550.8,416.9 551.1,415.8 551.1,414.6 551.2,413.5 551.4,412.5 551.5,411.4 551.3,410.3 551.7,409.3 551.7,408.2 551.9,407.1 551.8,405.9 552.1,404.8 552.2,403.6 552.6,402.4 552.4,401.2 552.2,400.1 552.3,398.9 552.6,397.9 552.7,396.8 552.7,395.8 553.1,394.8 553.2,393.9 553.5,393.1 553.7,392.4 553.4,391.3 553.8,390.2 554.5,389.4 555.2,388.6 555.4,387.5 555.7,386.4 556.0,385.1 556.1,383.6 556.4,382.3 556.6,381.1 556.4,380.1 556.9,379.7 557.8,379.6 557.9,380.9 558.8,382.1 559.0,383.3 560.0,383.8 561.3,384.3 561.0,385.3 561.6,385.9 561.5,386.8 561.6,387.9 561.8,388.9 561.9,390.1 561.9,391.3 562.2,392.5 562.3,393.8 562.3,395.0 562.3,396.1 562.7,397.2 563.1,398.2 563.0,399.3 563.4,400.3 563.7,401.3 563.9,402.4 563.8,403.5 564.0,404.5 564.2,405.6 564.6,406.6 565.2,407.5 565.2,408.6 565.2,409.7 565.1,410.8 565.4,411.9 565.6,413.1 565.8,414.2 566.4,415.2 566.2,416.4 566.3,417.5 567.0,418.4 566.9,419.5 567.3,420.3 567.2,421.3 568.3,422.3 568.4,423.5 568.7,424.6 569.1,425.6 569.9,426.3 570.8,427.1 571.9,427.3 572.7,428.1 573.3,428.9 574.0,429.5 574.1,430.5 574.4,431.5 574.8,432.6 575.1,433.8 575.5,434.9 575.7,436.1 575.7,437.1 576.2,437.9 576.7,439.0 577.0,440.5 578.0,441.3 578.3,442.0 578.5,441.8 579.1,441.8 579.2,441.3 579.2,440.6 579.0,439.8 579.4,438.9 579.3,437.9 579.7,436.8 579.4,435.6 579.9,434.4 579.7,433.0 579.7,431.7 579.7,430.3 579.8,428.9 579.7,427.5 579.6,426.1 579.8,424.8 579.9,423.5 580.1,422.2 580.0,421.1 580.2,420.1 580.1,419.0 580.3,417.9 580.4,416.7 581.0,415.7 580.6,414.6 581.0,413.5 581.1,412.5 581.0,411.4 581.4,410.5 581.7,409.5 581.6,408.5 582.0,407.5 582.2,406.5 582.5,405.5 582.8,404.4 582.8,403.2 583.0,402.0 583.3,400.8 583.5,399.6 583.8,398.5 584.0,397.5 584.0,396.4 584.0,395.5 584.7,394.9 585.1,393.9 586.2,393.6 586.6,392.6 587.4,391.9 587.6,390.9 587.4,389.7 587.9,388.6 588.2,387.5 588.2,386.2 588.8,385.2 589.0,384.0 588.7,382.6 589.3,381.3 589.0,379.9 589.7,378.7 589.8,377.7 590.3,377.0 589.9,376.1 590.1,376.8 590.3,377.2 591.1,377.9 591.1,379.0 591.4,380.3 591.7,381.6 591.6,383.0 591.4,384.4 591.9,385.5 592.3,386.5 592.3,387.6 592.6,388.5 592.8,389.5 592.9,390.6 593.1,391.6 593.4,392.7 593.9,393.8 593.8,394.9 593.9,395.9 593.8,396.9 594.1,397.9 594.3,398.9 594.1,400.1 594.6,401.1 594.7,402.2 594.5,403.4 594.6,404.5 594.6,405.6 595.0,406.7 594.8,407.8 594.9,408.8 595.5,409.7 595.5,410.8 595.6,411.9 595.6,413.0 595.7,414.0 596.2,415.0 596.2,416.0 596.0,417.1 596.2,418.1 596.5,419.1 596.6,420.2 597.1,421.2 596.8,422.3 596.7,423.4 597.0,424.6 597.0,425.7 597.1,426.9 597.0,428.0 597.1,429.1 597.1,430.2 597.3,431.3 597.8,432.2 598.1,433.1 598.2,434.1 598.3,435.3 598.4,436.4 598.9,437.3 599.8,438.0 599.9,439.0 600.2,440.1 601.2,440.7 602.0,441.4 602.2,442.6 603.2,443.1 603.7,444.2 604.4,445.1 604.8,446.0 605.5,446.8 606.2,447.7 606.1,449.0 606.7,449.9 607.1,451.1 607.5,452.5 607.7,453.9 608.0,455.0 608.7,455.0 608.8,455.4 609.1,454.8 609.4,453.7 609.1,452.4 609.2,450.9 609.3,449.6 609.4,448.7 609.4,447.8 609.9,446.9 609.5,445.8 610.0,444.7 609.5,443.6 609.8,442.5 610.1,441.3 609.7,440.2 609.8,439.0 610.1,437.9 609.8,436.8 609.7,435.7 610.1,434.7 610.2,433.7 610.2,432.5 610.0,431.1 610.1,429.7 610.3,428.3 610.4,427.0 610.4,425.9 610.5,424.9 610.5,424.2 610.9,424.1 610.7,424.0 610.3,424.4 610.5,425.1 610.9,426.0 611.1,427.2 610.9,428.5 611.0,429.9 611.3,431.3 611.4,432.7 611.1,434.1 611.3,435.3 611.4,436.4 611.4,437.6 611.3,438.7 611.7,439.8 611.6,441.0 612.1,442.0 611.6,443.2 612.3,444.1 612.2,445.0 612.5,446.0 612.8,447.2 613.1,448.3 614.3,448.8 614.5,449.9 614.6,451.2 615.4,452.0 616.0,453.0 616.7,453.8 617.5,454.5 618.7,454.5 619.5,455.3 620.2,455.5 621.1,455.2 621.6,455.7 622.1,455.1 623.1,456.1 622.9,454.5 623.2,454.1 624.8,454.5 625.1,453.8 624.4,452.9 624.6,452.1 625.3,451.4 626.2,450.7 626.2,450.1 625.6,449.1 626.0,448.1 626.6,447.4 626.7,447.8 625.3,447.4 626.2,447.7 626.9,448.4 627.0,449.3 627.8,450.2 627.6,451.1 627.3,451.8 627.9,452.1 628.0,452.9 628.2,453.7 628.6,454.0 629.0,454.7 630.2,455.3 629.4,456.4 629.7,457.0 631.1,457.4 629.9,456.3 630.6,455.8 629.4,454.9 631.2,454.1 631.4,453.2 630.5,452.2 631.2,451.5 631.4,451.0 631.6,450.2 632.4,450.0 631.5,448.0 633.4,449.0 634.1,448.5 634.7,448.0 634.0,446.9 633.9,446.1 634.3,445.4 634.3,444.7 634.8,444.0 634.7,443.0 635.6,442.2 636.1,441.4 635.3,440.6 635.2,440.0 635.4,440.7 635.9,440.7 636.4,441.2 636.1,441.9 636.7,442.8 636.1,443.7 637.0,444.7 635.7,445.7 636.4,446.5 636.6,446.9" fill="none" stroke="#f5a81e" stroke-width="1.6" stroke-linejoin="round" stroke-linecap="round"/>
<polyline points="520.1,484.9 521.0,484.9 521.4,484.2 521.6,483.3 521.9,482.6 522.8,482.3 523.0,481.6 523.5,481.1 523.6,480.3 523.0,479.2 523.3,478.4 523.9,477.7 523.5,476.6 523.7,475.8 524.3,475.1 525.1,474.5 524.9,473.7 525.0,473.0 526.2,473.2 526.1,472.8 526.8,472.6 527.7,471.8 528.7,471.8 529.5,472.1 530.1,472.9 530.3,474.6 531.6,474.7 532.5,474.0 532.3,472.0 533.3,471.9 533.6,473.0 534.0,473.5 534.4,474.1 536.1,473.8 536.4,474.6 535.8,475.9 536.9,476.0 537.1,476.7 537.5,477.3 538.4,477.6 538.9,477.9 538.7,479.2 539.8,479.0 539.9,480.2 541.1,479.6 541.8,479.8 541.6,481.6 542.4,481.9 543.3,481.8 544.2,481.7 544.3,483.1 545.2,483.2 546.0,483.6 546.8,483.5 546.9,482.5 547.6,482.5 547.9,481.8 549.5,481.8 550.1,481.2 549.8,480.5 549.9,479.9 549.7,479.2 550.2,478.2 550.2,477.1 550.6,476.0 550.5,474.8 550.8,473.6 550.7,472.4 551.1,471.2 551.0,470.1 551.3,469.0 551.4,467.8 551.5,466.5 551.7,465.2 551.7,463.8 551.8,462.5 552.0,461.3 552.1,460.2 552.5,459.3 552.6,458.6 552.8,458.1 553.1,458.5 554.1,458.5 555.2,459.3 555.7,460.5 556.0,461.9 556.5,462.5 556.9,462.8 557.2,461.9 557.5,460.8 558.0,459.5 558.5,458.3 558.8,457.3 559.3,456.4 559.2,455.2 559.2,454.1 559.5,453.1 560.0,452.0 560.3,450.9 560.3,449.8 560.6,448.5 560.6,447.1 560.8,445.7 560.8,444.3 561.2,443.0 561.0,442.0 561.4,441.2 561.6,441.0 561.3,440.9 561.4,441.4 561.6,442.2 561.6,443.3 561.6,444.6 561.6,446.0 561.7,447.5 561.5,449.1 562.0,450.6 561.8,452.0 561.9,453.3 562.1,454.3 562.4,455.0 562.7,455.7 563.6,455.0 564.7,454.1 565.7,454.4 566.1,455.7 566.7,457.0 567.4,457.6 567.6,457.4 568.7,456.6 569.4,455.3 569.7,454.1 570.4,454.5 570.9,455.5 571.6,456.6 572.0,457.5 572.5,458.4 572.5,459.6 573.0,460.6 573.6,461.6 573.9,462.7 574.0,464.0 574.5,465.2 574.7,466.5 575.0,467.7 575.6,468.5 576.2,468.6 577.0,468.5 578.3,468.0 578.6,467.2 579.0,466.5 579.2,465.6 579.5,464.6 579.5,463.5 579.6,462.4 579.8,461.2 579.9,459.9 580.0,458.7 580.1,457.6 580.3,456.7 580.2,455.7 580.2,454.8 580.4,453.8 580.4,452.8 580.4,451.8 580.6,450.7 580.6,449.7 580.7,448.6 580.8,447.5 580.7,446.4 580.7,445.3 580.8,444.1 581.0,443.0 581.3,441.9 581.1,440.8 581.2,439.7 581.5,438.7 581.4,437.7 581.7,436.7 581.8,435.7 581.7,434.7 581.8,433.7 582.0,432.7 582.2,431.6 582.3,430.6 582.2,429.5 582.4,428.5 582.5,427.4 582.3,426.3 582.6,425.3 582.7,424.2 583.0,423.2 583.0,422.1 582.9,421.0 583.2,419.9 583.3,418.8 583.3,417.7 583.5,416.7 583.7,415.6 583.6,414.6 583.7,413.5 584.0,412.4 583.7,411.3 584.0,410.2 583.9,409.0 584.2,407.9 584.0,406.7 584.3,405.5 584.4,404.4 584.2,403.2 584.5,402.0 584.3,400.9 584.4,399.7 584.6,398.6 584.5,397.5 584.7,396.4 584.7,395.3 584.8,394.2 585.1,393.3 584.9,392.3 585.2,391.3 585.1,390.4 585.1,389.6 585.1,388.8 585.2,388.0 585.5,386.9 585.4,385.5 585.6,384.3 585.9,383.2 585.9,382.2 586.0,381.4 586.5,380.5 587.8,380.1 588.0,379.6 587.7,378.9 587.9,378.3 588.0,377.6 588.4,376.8 588.5,376.0 588.5,375.0 588.6,374.0 588.6,372.9 588.6,371.7 588.6,370.6 588.8,369.4 588.9,368.1 588.8,366.9 588.8,365.6 589.0,364.3 588.8,363.0 588.8,361.7 588.9,360.5 589.0,359.2 589.0,358.0 589.1,356.8 589.1,355.7 589.0,354.6 589.2,353.5 589.4,352.4 589.4,351.1 589.4,349.8 589.4,348.5 589.4,347.1 589.8,345.7 589.9,344.3 589.9,342.9 589.8,341.5 589.9,340.1 589.9,338.8 590.2,337.6 590.0,336.4 590.1,335.3 590.3,334.4 590.5,333.5 590.5,332.7 590.7,332.2 590.6,331.7 590.6,331.3 590.8,331.3 591.1,331.5 591.1,332.2 591.2,333.2 591.8,334.4 592.0,335.7 591.9,337.2 592.0,338.5 592.5,339.7 592.7,340.7 593.1,341.7 593.4,342.5 593.5,343.6 593.8,344.9 594.0,345.5 593.9,346.2 594.1,346.9 594.1,347.7 593.9,348.5 594.3,349.4 594.0,350.4 594.3,351.3 594.2,352.3 594.2,353.4 594.5,354.4 594.1,355.6 594.3,356.7 594.5,357.8 594.3,359.0 594.4,360.2 594.4,361.4 594.6,362.6 594.5,363.8 594.6,365.0 594.7,366.2 594.8,367.4 594.7,368.6 594.6,369.8 594.7,371.0 594.9,372.1 594.8,373.3 594.6,374.4 594.9,375.4 594.8,376.5 594.7,377.6 595.0,378.6 595.1,379.7 594.9,380.8 595.0,381.8 595.2,382.9 595.4,383.9 595.3,385.0 595.3,386.0 595.4,387.1 595.2,388.1 595.3,389.2 595.3,390.2 595.6,391.3 595.4,392.3 595.5,393.4 595.6,394.4 595.7,395.4 595.5,396.5 595.8,397.5 595.9,398.6 595.7,399.6 595.7,400.7 595.9,401.7 595.8,402.8 595.8,403.8 596.0,404.9 595.8,405.9 595.9,407.0 596.2,408.1 596.3,409.2 596.2,410.3 596.0,411.5 596.2,412.6 596.1,413.8 596.3,415.0 596.2,416.2 596.4,417.3 596.4,418.5 596.5,419.7 596.3,420.9 596.3,422.0 596.4,423.2 596.5,424.3 596.6,425.4 596.6,426.5 596.6,427.5 596.9,428.5 596.9,429.5 596.8,430.5 596.7,431.4 596.9,432.3 596.9,433.1 597.0,433.9 597.4,434.6 597.4,435.6 597.5,436.9 598.1,437.9 598.3,438.9 598.6,439.8 599.0,440.7 599.4,441.6 599.8,442.8 600.0,444.0 600.3,445.2 600.6,446.2 600.7,447.3 601.6,447.6 602.5,448.0 603.5,448.6 604.5,449.1 605.5,449.7 605.6,450.6 605.9,451.6 606.1,452.7 606.2,453.9 606.2,455.1 606.5,456.2 606.6,457.3 606.8,458.3 607.0,459.4 607.2,460.4 607.4,461.5 607.8,462.5 607.9,463.6 608.0,464.9 608.5,466.1 608.5,467.3 609.0,467.8 609.9,468.2 610.8,467.1 611.6,466.2 611.8,465.1 612.3,464.0 612.4,462.9 613.3,462.0 614.0,462.4 614.2,463.6 614.8,464.9 614.8,466.1 615.3,467.2 615.7,468.2 616.0,469.2 616.7,470.3 617.5,471.3 618.7,471.7 619.7,470.7 621.1,470.9 621.8,469.9 622.9,469.7 623.7,468.9 624.9,468.6 625.6,467.7 626.7,467.4 627.6,466.8 628.6,466.3 629.4,465.6 630.1,464.6 631.3,464.1 631.9,463.2 633.1,463.0 633.8,462.2 634.8,461.7 635.0,460.6 635.5,459.5 635.5,458.4 635.7,457.3 636.0,456.2 636.5,455.5" fill="none" stroke="#1a821a" stroke-width="1.6" stroke-linejoin="round" stroke-linecap="round"/>
<line x1="609.80" y1="273.30" x2="633.10" y2="273.30" stroke="#1a821a" stroke-width="1.4"/>
<text x="636.30" y="277.10" class="lg">INV_20_3</text>
<line x1="609.80" y1="286.60" x2="633.10" y2="286.60" stroke="#f5a81e" stroke-width="1.4"/>
<text x="636.30" y="290.40" class="lg">INV_20_4</text>
<line x1="47.20" y1="27.46" x2="47.20" y2="224.40" stroke="#111" stroke-width="1.5"/>
<line x1="43.20" y1="220.40" x2="47.20" y2="220.40" stroke="#111" stroke-width="1.5"/>
<text x="40.60" y="224.30" text-anchor="end" class="tl">0.0</text>
<line x1="45.20" y1="204.38" x2="47.20" y2="204.38" stroke="#111" stroke-width="1.5"/>
<line x1="43.20" y1="188.36" x2="47.20" y2="188.36" stroke="#111" stroke-width="1.5"/>
<text x="40.60" y="192.26" text-anchor="end" class="tl">0.2</text>
<line x1="45.20" y1="172.34" x2="47.20" y2="172.34" stroke="#111" stroke-width="1.5"/>
<line x1="43.20" y1="156.32" x2="47.20" y2="156.32" stroke="#111" stroke-width="1.5"/>
<text x="40.60" y="160.22" text-anchor="end" class="tl">0.4</text>
<line x1="45.20" y1="140.30" x2="47.20" y2="140.30" stroke="#111" stroke-width="1.5"/>
<line x1="43.20" y1="124.28" x2="47.20" y2="124.28" stroke="#111" stroke-width="1.5"/>
<text x="40.60" y="128.18" text-anchor="end" class="tl">0.6</text>
<line x1="45.20" y1="108.26" x2="47.20" y2="108.26" stroke="#111" stroke-width="1.5"/>
<line x1="43.20" y1="92.24" x2="47.20" y2="92.24" stroke="#111" stroke-width="1.5"/>
<text x="40.60" y="96.14" text-anchor="end" class="tl">0.8</text>
<line x1="45.20" y1="76.22" x2="47.20" y2="76.22" stroke="#111" stroke-width="1.5"/>
<line x1="43.20" y1="60.20" x2="47.20" y2="60.20" stroke="#111" stroke-width="1.5"/>
<text x="40.60" y="64.10" text-anchor="end" class="tl">1.0</text>
<line x1="45.20" y1="44.18" x2="47.20" y2="44.18" stroke="#111" stroke-width="1.5"/>
<line x1="43.20" y1="28.16" x2="47.20" y2="28.16" stroke="#111" stroke-width="1.5"/>
<text x="40.60" y="32.06" text-anchor="end" class="tl">1.2</text>
<line x1="43.20" y1="220.40" x2="164.20" y2="220.40" stroke="#111" stroke-width="1.5"/>
<line x1="168.70" y1="220.40" x2="286.60" y2="220.40" stroke="#111" stroke-width="1.5"/>
<line x1="162.00" y1="224.40" x2="166.80" y2="216.40" stroke="#111" stroke-width="1.3"/>
<line x1="166.60" y1="224.40" x2="171.40" y2="216.40" stroke="#111" stroke-width="1.3"/>
<line x1="47.20" y1="220.40" x2="47.20" y2="224.40" stroke="#111" stroke-width="1.5"/>
<line x1="79.20" y1="220.40" x2="79.20" y2="222.70" stroke="#111" stroke-width="1.5"/>
<line x1="111.20" y1="220.40" x2="111.20" y2="224.40" stroke="#111" stroke-width="1.5"/>
<line x1="143.20" y1="220.40" x2="143.20" y2="222.70" stroke="#111" stroke-width="1.5"/>
<line x1="197.80" y1="220.40" x2="197.80" y2="222.70" stroke="#111" stroke-width="1.5"/>
<line x1="227.30" y1="220.40" x2="227.30" y2="224.40" stroke="#111" stroke-width="1.5"/>
<line x1="256.80" y1="220.40" x2="256.80" y2="222.70" stroke="#111" stroke-width="1.5"/>
<line x1="286.30" y1="220.40" x2="286.30" y2="224.40" stroke="#111" stroke-width="1.5"/>
<text x="47.20" y="236.20" text-anchor="middle" class="tl">3600</text>
<text x="111.20" y="236.20" text-anchor="middle" class="tl">3000</text>
<text x="168.30" y="236.20" text-anchor="middle" class="tl">1800</text>
<text x="227.30" y="236.20" text-anchor="middle" class="tl">1200</text>
<text x="286.30" y="236.20" text-anchor="middle" class="tl">600</text>
<text x="111.20" y="258.00" class="al">Wavenumber <tspan class="rg">(</tspan>cm<tspan dy="-5.1" font-size="8">-1</tspan><tspan dy="5.1" class="rg">)</tspan></text>
<text transform="translate(12.70,118.76) rotate(-90)" text-anchor="middle" class="al">Absorbance <tspan class="rg">(a.u.)</tspan></text>
<text x="2.30" y="259.00" class="pl">a</text>
<line x1="398.00" y1="28.16" x2="398.00" y2="225.70" stroke="#111" stroke-width="1.5"/>
<line x1="394.00" y1="221.70" x2="398.00" y2="221.70" stroke="#111" stroke-width="1.5"/>
<text x="391.40" y="225.60" text-anchor="end" class="tl">0.0</text>
<line x1="396.00" y1="205.63" x2="398.00" y2="205.63" stroke="#111" stroke-width="1.5"/>
<line x1="394.00" y1="189.56" x2="398.00" y2="189.56" stroke="#111" stroke-width="1.5"/>
<text x="391.40" y="193.46" text-anchor="end" class="tl">0.2</text>
<line x1="396.00" y1="173.49" x2="398.00" y2="173.49" stroke="#111" stroke-width="1.5"/>
<line x1="394.00" y1="157.42" x2="398.00" y2="157.42" stroke="#111" stroke-width="1.5"/>
<text x="391.40" y="161.32" text-anchor="end" class="tl">0.4</text>
<line x1="396.00" y1="141.35" x2="398.00" y2="141.35" stroke="#111" stroke-width="1.5"/>
<line x1="394.00" y1="125.28" x2="398.00" y2="125.28" stroke="#111" stroke-width="1.5"/>
<text x="391.40" y="129.18" text-anchor="end" class="tl">0.6</text>
<line x1="396.00" y1="109.21" x2="398.00" y2="109.21" stroke="#111" stroke-width="1.5"/>
<line x1="394.00" y1="93.14" x2="398.00" y2="93.14" stroke="#111" stroke-width="1.5"/>
<text x="391.40" y="97.04" text-anchor="end" class="tl">0.8</text>
<line x1="396.00" y1="77.07" x2="398.00" y2="77.07" stroke="#111" stroke-width="1.5"/>
<line x1="394.00" y1="61.00" x2="398.00" y2="61.00" stroke="#111" stroke-width="1.5"/>
<text x="391.40" y="64.90" text-anchor="end" class="tl">1.0</text>
<line x1="396.00" y1="44.93" x2="398.00" y2="44.93" stroke="#111" stroke-width="1.5"/>
<line x1="394.00" y1="28.86" x2="398.00" y2="28.86" stroke="#111" stroke-width="1.5"/>
<text x="391.40" y="32.76" text-anchor="end" class="tl">1.2</text>
<line x1="394.00" y1="221.70" x2="515.00" y2="221.70" stroke="#111" stroke-width="1.5"/>
<line x1="519.50" y1="221.70" x2="637.40" y2="221.70" stroke="#111" stroke-width="1.5"/>
<line x1="512.80" y1="225.70" x2="517.60" y2="217.70" stroke="#111" stroke-width="1.3"/>
<line x1="517.40" y1="225.70" x2="522.20" y2="217.70" stroke="#111" stroke-width="1.3"/>
<line x1="398.00" y1="221.70" x2="398.00" y2="225.70" stroke="#111" stroke-width="1.5"/>
<line x1="430.00" y1="221.70" x2="430.00" y2="224.00" stroke="#111" stroke-width="1.5"/>
<line x1="462.00" y1="221.70" x2="462.00" y2="225.70" stroke="#111" stroke-width="1.5"/>
<line x1="494.00" y1="221.70" x2="494.00" y2="224.00" stroke="#111" stroke-width="1.5"/>
<line x1="548.60" y1="221.70" x2="548.60" y2="224.00" stroke="#111" stroke-width="1.5"/>
<line x1="578.10" y1="221.70" x2="578.10" y2="225.70" stroke="#111" stroke-width="1.5"/>
<line x1="607.60" y1="221.70" x2="607.60" y2="224.00" stroke="#111" stroke-width="1.5"/>
<line x1="637.10" y1="221.70" x2="637.10" y2="225.70" stroke="#111" stroke-width="1.5"/>
<text x="398.00" y="237.50" text-anchor="middle" class="tl">3600</text>
<text x="462.00" y="237.50" text-anchor="middle" class="tl">3000</text>
<text x="519.10" y="237.50" text-anchor="middle" class="tl">1800</text>
<text x="578.10" y="237.50" text-anchor="middle" class="tl">1200</text>
<text x="637.10" y="237.50" text-anchor="middle" class="tl">600</text>
<text x="460.90" y="261.90" class="al">Wavenumber <tspan class="rg">(</tspan>cm<tspan dy="-5.4" font-size="10.5">-1</tspan><tspan dy="5.4" class="rg">)</tspan></text>
<text transform="translate(363.50,119.46) rotate(-90)" text-anchor="middle" class="al">Absorbance <tspan class="rg">(a.u.)</tspan></text>
<text x="351.60" y="256.70" class="pl">b</text>
<line x1="47.70" y1="295.64" x2="47.70" y2="492.70" stroke="#111" stroke-width="1.5"/>
<line x1="43.70" y1="488.70" x2="47.70" y2="488.70" stroke="#111" stroke-width="1.5"/>
<text x="41.10" y="492.60" text-anchor="end" class="tl">0.0</text>
<line x1="45.70" y1="472.67" x2="47.70" y2="472.67" stroke="#111" stroke-width="1.5"/>
<line x1="43.70" y1="456.64" x2="47.70" y2="456.64" stroke="#111" stroke-width="1.5"/>
<text x="41.10" y="460.54" text-anchor="end" class="tl">0.2</text>
<line x1="45.70" y1="440.61" x2="47.70" y2="440.61" stroke="#111" stroke-width="1.5"/>
<line x1="43.70" y1="424.58" x2="47.70" y2="424.58" stroke="#111" stroke-width="1.5"/>
<text x="41.10" y="428.48" text-anchor="end" class="tl">0.4</text>
<line x1="45.70" y1="408.55" x2="47.70" y2="408.55" stroke="#111" stroke-width="1.5"/>
<line x1="43.70" y1="392.52" x2="47.70" y2="392.52" stroke="#111" stroke-width="1.5"/>
<text x="41.10" y="396.42" text-anchor="end" class="tl">0.6</text>
<line x1="45.70" y1="376.49" x2="47.70" y2="376.49" stroke="#111" stroke-width="1.5"/>
<line x1="43.70" y1="360.46" x2="47.70" y2="360.46" stroke="#111" stroke-width="1.5"/>
<text x="41.10" y="364.36" text-anchor="end" class="tl">0.8</text>
<line x1="45.70" y1="344.43" x2="47.70" y2="344.43" stroke="#111" stroke-width="1.5"/>
<line x1="43.70" y1="328.40" x2="47.70" y2="328.40" stroke="#111" stroke-width="1.5"/>
<text x="41.10" y="332.30" text-anchor="end" class="tl">1.0</text>
<line x1="45.70" y1="312.37" x2="47.70" y2="312.37" stroke="#111" stroke-width="1.5"/>
<line x1="43.70" y1="296.34" x2="47.70" y2="296.34" stroke="#111" stroke-width="1.5"/>
<text x="41.10" y="300.24" text-anchor="end" class="tl">1.2</text>
<line x1="43.70" y1="488.70" x2="164.70" y2="488.70" stroke="#111" stroke-width="1.5"/>
<line x1="169.20" y1="488.70" x2="287.10" y2="488.70" stroke="#111" stroke-width="1.5"/>
<line x1="162.50" y1="492.70" x2="167.30" y2="484.70" stroke="#111" stroke-width="1.3"/>
<line x1="167.10" y1="492.70" x2="171.90" y2="484.70" stroke="#111" stroke-width="1.3"/>
<line x1="47.70" y1="488.70" x2="47.70" y2="492.70" stroke="#111" stroke-width="1.5"/>
<line x1="79.70" y1="488.70" x2="79.70" y2="491.00" stroke="#111" stroke-width="1.5"/>
<line x1="111.70" y1="488.70" x2="111.70" y2="492.70" stroke="#111" stroke-width="1.5"/>
<line x1="143.70" y1="488.70" x2="143.70" y2="491.00" stroke="#111" stroke-width="1.5"/>
<line x1="198.30" y1="488.70" x2="198.30" y2="491.00" stroke="#111" stroke-width="1.5"/>
<line x1="227.80" y1="488.70" x2="227.80" y2="492.70" stroke="#111" stroke-width="1.5"/>
<line x1="257.30" y1="488.70" x2="257.30" y2="491.00" stroke="#111" stroke-width="1.5"/>
<line x1="286.80" y1="488.70" x2="286.80" y2="492.70" stroke="#111" stroke-width="1.5"/>
<text x="47.70" y="504.50" text-anchor="middle" class="tl">3600</text>
<text x="111.70" y="504.50" text-anchor="middle" class="tl">3000</text>
<text x="168.80" y="504.50" text-anchor="middle" class="tl">1800</text>
<text x="227.80" y="504.50" text-anchor="middle" class="tl">1200</text>
<text x="286.80" y="504.50" text-anchor="middle" class="tl">600</text>
<text x="111.60" y="527.00" class="al">Wavenumber <tspan class="rg">(</tspan>cm<tspan dy="-6" font-size="8.3">-1</tspan><tspan dy="6" class="rg">)</tspan></text>
<text transform="translate(13.20,386.94) rotate(-90)" text-anchor="middle" class="al">Absorbance <tspan class="rg">(a.u.)</tspan></text>
<text x="4.80" y="527.00" class="pl">c</text>
<line x1="397.90" y1="295.20" x2="397.90" y2="492.50" stroke="#111" stroke-width="1.5"/>
<line x1="393.90" y1="488.50" x2="397.90" y2="488.50" stroke="#111" stroke-width="1.5"/>
<text x="391.30" y="492.40" text-anchor="end" class="tl">0.0</text>
<line x1="395.90" y1="472.45" x2="397.90" y2="472.45" stroke="#111" stroke-width="1.5"/>
<line x1="393.90" y1="456.40" x2="397.90" y2="456.40" stroke="#111" stroke-width="1.5"/>
<text x="391.30" y="460.30" text-anchor="end" class="tl">0.2</text>
<line x1="395.90" y1="440.35" x2="397.90" y2="440.35" stroke="#111" stroke-width="1.5"/>
<line x1="393.90" y1="424.30" x2="397.90" y2="424.30" stroke="#111" stroke-width="1.5"/>
<text x="391.30" y="428.20" text-anchor="end" class="tl">0.4</text>
<line x1="395.90" y1="408.25" x2="397.90" y2="408.25" stroke="#111" stroke-width="1.5"/>
<line x1="393.90" y1="392.20" x2="397.90" y2="392.20" stroke="#111" stroke-width="1.5"/>
<text x="391.30" y="396.10" text-anchor="end" class="tl">0.6</text>
<line x1="395.90" y1="376.15" x2="397.90" y2="376.15" stroke="#111" stroke-width="1.5"/>
<line x1="393.90" y1="360.10" x2="397.90" y2="360.10" stroke="#111" stroke-width="1.5"/>
<text x="391.30" y="364.00" text-anchor="end" class="tl">0.8</text>
<line x1="395.90" y1="344.05" x2="397.90" y2="344.05" stroke="#111" stroke-width="1.5"/>
<line x1="393.90" y1="328.00" x2="397.90" y2="328.00" stroke="#111" stroke-width="1.5"/>
<text x="391.30" y="331.90" text-anchor="end" class="tl">1.0</text>
<line x1="395.90" y1="311.95" x2="397.90" y2="311.95" stroke="#111" stroke-width="1.5"/>
<line x1="393.90" y1="295.90" x2="397.90" y2="295.90" stroke="#111" stroke-width="1.5"/>
<text x="391.30" y="299.80" text-anchor="end" class="tl">1.2</text>
<line x1="393.90" y1="488.50" x2="514.90" y2="488.50" stroke="#111" stroke-width="1.5"/>
<line x1="519.40" y1="488.50" x2="637.30" y2="488.50" stroke="#111" stroke-width="1.5"/>
<line x1="512.70" y1="492.50" x2="517.50" y2="484.50" stroke="#111" stroke-width="1.3"/>
<line x1="517.30" y1="492.50" x2="522.10" y2="484.50" stroke="#111" stroke-width="1.3"/>
<line x1="397.90" y1="488.50" x2="397.90" y2="492.50" stroke="#111" stroke-width="1.5"/>
<line x1="429.90" y1="488.50" x2="429.90" y2="490.80" stroke="#111" stroke-width="1.5"/>
<line x1="461.90" y1="488.50" x2="461.90" y2="492.50" stroke="#111" stroke-width="1.5"/>
<line x1="493.90" y1="488.50" x2="493.90" y2="490.80" stroke="#111" stroke-width="1.5"/>
<line x1="548.50" y1="488.50" x2="548.50" y2="490.80" stroke="#111" stroke-width="1.5"/>
<line x1="578.00" y1="488.50" x2="578.00" y2="492.50" stroke="#111" stroke-width="1.5"/>
<line x1="607.50" y1="488.50" x2="607.50" y2="490.80" stroke="#111" stroke-width="1.5"/>
<line x1="637.00" y1="488.50" x2="637.00" y2="492.50" stroke="#111" stroke-width="1.5"/>
<text x="397.90" y="504.30" text-anchor="middle" class="tl">3600</text>
<text x="461.90" y="504.30" text-anchor="middle" class="tl">3000</text>
<text x="519.00" y="504.30" text-anchor="middle" class="tl">1800</text>
<text x="578.00" y="504.30" text-anchor="middle" class="tl">1200</text>
<text x="637.00" y="504.30" text-anchor="middle" class="tl">600</text>
<text x="463.00" y="525.60" class="al">Wavenumber <tspan class="rg">(</tspan>cm<tspan dy="-5.8" font-size="7.4">-1</tspan><tspan dy="5.8" class="rg">)</tspan></text>
<text transform="translate(363.40,386.50) rotate(-90)" text-anchor="middle" class="al">Absorbance <tspan class="rg">(a.u.)</tspan></text>
<text x="346.80" y="527.00" class="pl">d</text>
</svg>
</body></html>
